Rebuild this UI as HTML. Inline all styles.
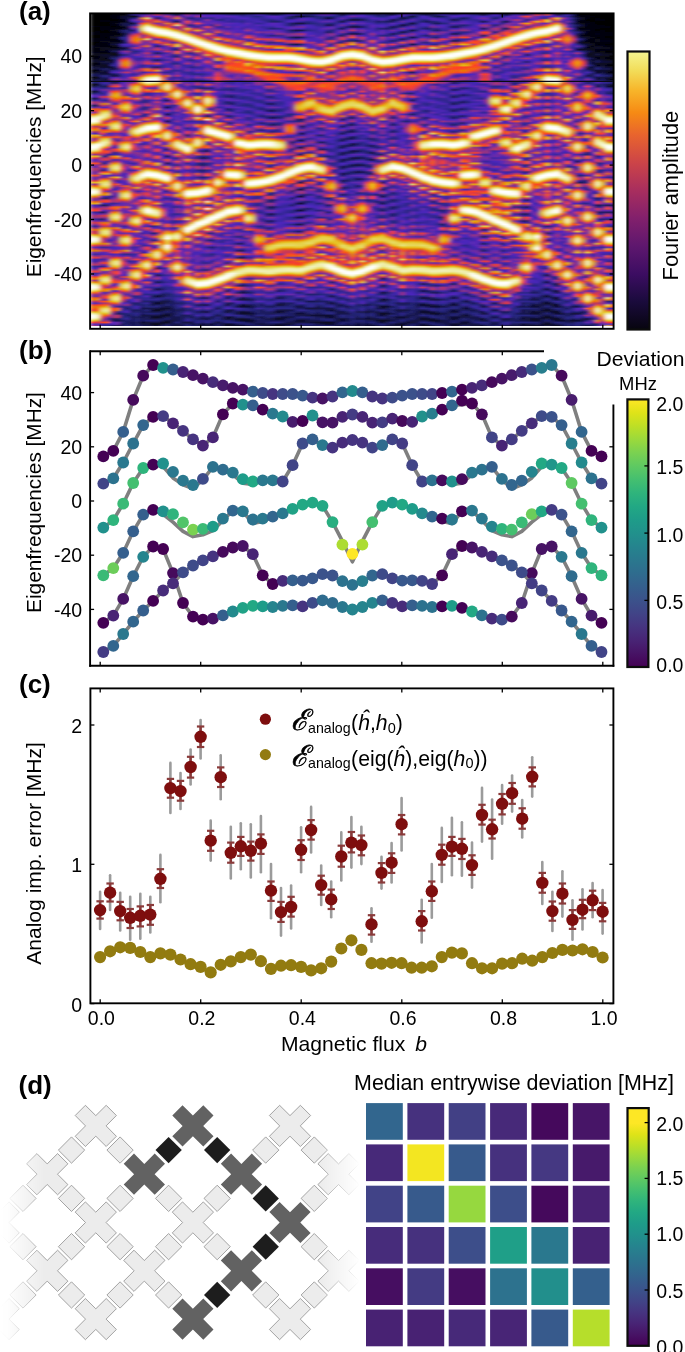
<!DOCTYPE html><html><head><meta charset="utf-8"><style>html,body{margin:0;padding:0;background:#fff}#w{position:relative;width:685px;height:1352px;overflow:hidden;background:#fff;font-family:"Liberation Sans", sans-serif}svg{position:absolute;left:0;top:0;will-change:transform}</style></head><body><div id="w">
<div style="position:absolute;left:90px;top:13px;width:524px;height:313px;overflow:hidden"><div style="position:absolute;left:0;top:0;width:534px;height:313px;filter:url(#hb)"><i style="position:absolute;left:0px;top:0;width:5.5px;height:313.25px;background:linear-gradient(#010104,#000001,#000001,#010104,#020205,#000002,#000002,#020206,#020208,#010102,#010102,#030309,#03030b,#010103,#010104,#04040d,#05050f,#010104,#020205,#060613,#060615,#010105,#020208,#08081b,#09091e,#020206,#04040c,#0c0c28,#0d0d2a,#030308,#050512,#11113a,#12123b,#03030b,#08081b,#191954,#191952,#04040e,#0c0c29,#25257b,#222272,#060613,#12123d,#37269b,#332695,#0b0b24,#1c1c5d,#5928b5,#4e26be,#111139,#2a2686,#ad366e,#8f3188,#17174d,#3f26a8,#f25f13,#dd3b44,#5b29b3,#f65619,#e5ce40,#f6f6d1,#ffffff,#ffffff,#efefb0,#e6a810,#c73957,#fd4523,#e68f06,#a53575,#4626b4,#e6a710,#e67e01,#87308f,#923286,#e68000,#e8e88d,#fdfdf4,#ffffff,#f8f8de,#e6de6b,#ea7506,#923286,#e6b415,#f33e31,#5728b7,#802f94,#fc4821,#9d347c,#5a29b4,#a73573,#9e347b,#7b2e98,#7d2e97,#f9501d,#792e9a,#702ca1,#d73b49,#e6be19,#843091,#ec6f0a,#e6d149,#f6f6d3,#ffffff,#ffffff,#e6e682,#e68c05,#ac356f,#782d9b,#f06510,#e5a710,#4526b4,#6f2ca2,#ce3a51,#f93f2b,#37269c,#712ca1,#a73574,#973381,#322693,#822f93,#d43a4c,#8a308c,#322693,#af366c,#ea7407,#c0385e,#e33c3f,#e6bb18,#eeeeaa,#fefefa,#ffffff,#f4f4c8,#e6bf19,#f33e31,#622aae,#d73b49,#e67e01,#702ca2,#3c26a3,#9c337d,#e13c41,#4226ad,#4026ab,#8f3188,#b53767,#352698,#4926ba,#a93572,#eb3d38,#38269e,#682ba8,#f73f2e,#e68803,#ac356f,#e69308,#e8e88e,#fdfdf4,#ffffff,#f7f7d9,#e6d451,#ee690d,#a13479,#812f93,#f16211,#e68301,#b1366b,#4c26bf,#e83d3a,#e97606,#f35d15,#e23c40,#e6b817,#f0f0b2,#fefef8,#ffffff,#f3f3c1,#e6c11f,#f63f2e,#5728b7,#ad366e)"></i><i style="position:absolute;left:5px;top:0;width:5.5px;height:313.25px;background:linear-gradient(#010104,#000001,#010102,#010104,#020205,#000002,#010103,#020206,#020208,#010102,#010104,#030309,#03030b,#010103,#020206,#04040d,#05050f,#010104,#03030a,#060613,#070716,#010105,#04040e,#08081c,#09091e,#020206,#060616,#0c0c29,#0d0d2b,#020208,#0a0a20,#12123b,#12123c,#03030b,#0e0e30,#1a1a56,#191954,#050510,#151547,#26267e,#232375,#08081b,#202069,#38269d,#362699,#111139,#2f268e,#5b29b3,#5628b8,#1a1a57,#4526b3,#ae366d,#943283,#20206a,#7f2f95,#f16212,#e53c3d,#cb3954,#e6a810,#eaea95,#f9f9e3,#f8f8dc,#f8f8dd,#e6e172,#e68904,#a63574,#ef670f,#e69308,#a03479,#4926b9,#e6b616,#e68201,#a53475,#f65519,#e6cd3f,#fafae4,#ffffff,#fbfbe9,#ededa5,#e6ca35,#f45b16,#973381,#e6bc18,#cd3a52,#4c26bf,#853090,#fa4d1e,#842f91,#5c29b3,#af366c,#a33476,#692ba7,#843091,#f65619,#7b2e98,#6b2ba6,#e33c3f,#e6c426,#a13478,#f8521c,#e6bd19,#eaea97,#f7f7d6,#f4f4c7,#e6d34f,#ed6e0b,#8c318a,#662aaa,#ed6d0b,#e6af13,#4426b1,#5f29b0,#da3b46,#fe4225,#352697,#5e29b1,#b23669,#9e347b,#322692,#632aac,#e03c42,#8f3188,#38269e,#782d9b,#e77c02,#c73957,#b93763,#e69b0b,#e6df6f,#f4f4c8,#f5f5cf,#e7e788,#e6a00d,#ca3954,#4c26be,#9f347a,#e68603,#742d9e,#3b26a2,#853091,#ec3d37,#4326b0,#3b26a2,#832f92,#c0385e,#36269a,#4026ab,#a13479,#f63f2e,#3a26a0,#4c26bf,#fa3f2a,#e69007,#973381,#eb7308,#e6d758,#f2f2bf,#f8f8db,#ebeb9c,#e6c11f,#f8511c,#933284,#4a26bc,#ee6b0c,#e68a04,#b83764,#4926ba,#f83f2c,#e67d01,#f16411,#fa4c1f,#e6b014,#e6e276,#f3f3c5,#f5f5ce,#e6e683,#e6a20e,#cd3952,#5928b5,#853090)"></i><i style="position:absolute;left:10px;top:0;width:5.5px;height:313.25px;background:linear-gradient(#020205,#010105,#010104,#010102,#020208,#020207,#020205,#010103,#03030b,#03030a,#020207,#010104,#050510,#04040d,#03030a,#020206,#070717,#060613,#04040e,#03030a,#0a0a21,#08081a,#060613,#05050f,#0e0e30,#0b0b24,#08081b,#070718,#151546,#0f0f31,#0b0b25,#0b0b24,#1e1e65,#141444,#0f0f33,#111138,#2c2688,#1c1c5e,#151547,#191955,#3f26a9,#2a2686,#1d1d62,#282682,#702ca1,#3f26a9,#282683,#3f26a8,#d83b49,#6a2ba7,#38269c,#6f2ca2,#e68402,#b93763,#4c26be,#e33c3f,#e6a30e,#e6d452,#e9e98f,#f1f1b8,#efefb1,#e6cc3b,#f26013,#dd3b44,#e59107,#e73d3b,#3d26a6,#e93d39,#ed6e0b,#e83d3a,#6c2ba5,#f65619,#e6c324,#e6dd68,#f1f1b9,#f5f5cf,#efefb0,#e6bd18,#ff4026,#f73f2d,#e43c3e,#a63574,#30268f,#aa3571,#d43a4c,#632aac,#242477,#a93572,#f8501c,#4a26bb,#1f1f67,#fc3f29,#e6ab11,#4e27be,#672ba9,#f7531b,#e6b716,#e6da62,#e6e379,#e6d759,#e6a20e,#df3c42,#d03a50,#ec6f0a,#e68b05,#4b26bd,#26267e,#d33a4d,#ef3e34,#4426b2,#181850,#8c318b,#b73765,#5728b6,#181850,#6d2ca4,#d83b48,#8f3188,#1a1a56,#652aab,#eb7109,#fb3f2a,#a53575,#e68602,#e5cd3d,#e6e174,#e6e070,#e6c934,#eb7109,#c73957,#d03a4f,#cd3a52,#e68502,#a73574,#362699,#88308e,#e03c41,#5628b8,#4826b9,#ae366d,#8a308c,#38269e,#843091,#fd4523,#632aac,#2c268a,#fd3f28,#e69e0c,#5a29b4,#86308f,#f35d15,#e6c426,#e6e071,#e6e47c,#e6ce41,#e69107,#d03a50,#f03e33,#ea7506,#ea7307,#4e27be,#923285,#d53b4b,#bb3762,#6029af,#fc4722,#963382,#fc4722,#e69b0b,#e6d451,#e6e683,#e6dc65,#e6b415,#e68302,#e93d3a,#a63574,#88308d,#fc3f29,#3c26a3,#2b2687)"></i><i style="position:absolute;left:15px;top:0;width:5.5px;height:313.25px;background:linear-gradient(#020206,#020205,#010102,#010102,#020208,#020208,#010103,#010103,#04040c,#03030a,#010104,#010104,#050511,#04040f,#020206,#020207,#080819,#060614,#020208,#03030b,#0b0b24,#08081c,#03030b,#050511,#101034,#0c0c26,#050510,#08081a,#17174c,#101035,#070717,#0c0c27,#21216d,#161649,#0a0a21,#12123d,#2f268f,#1e1e64,#101034,#1d1d62,#4526b3,#2b2687,#18184f,#2f268e,#7f2f95,#3e26a6,#4626b4,#5b29b3,#ef3e34,#5d29b2,#2b2687,#7d2e97,#e6990a,#8e3189,#5327ba,#fb3f2a,#e6b214,#e6df6d,#ebeb99,#e8e88b,#e6cb39,#f26013,#86308f,#f83f2c,#e5a710,#a53575,#672ba9,#fd4424,#e67f00,#4426b2,#752d9e,#f0660f,#e5ce41,#e6e681,#ebeb9a,#e6e277,#e6be19,#fe4027,#5a28b4,#fa4c1f,#f43e30,#312691,#282683,#bb3762,#e23c40,#36269a,#3e26a7,#b93764,#f26013,#7e2f96,#5a29b4,#f94e1e,#e6c322,#5327ba,#762d9c,#f26013,#e6c528,#e6e57f,#ebeb9a,#e6e174,#e6b214,#fb3f2a,#5828b5,#e68402,#e6a20e,#3f26a9,#1e1e64,#e53c3d,#fd4424,#4426b1,#1e1e63,#8f3188,#c73957,#632aac,#39269f,#8f3188,#ee3e35,#a53575,#632aad,#692ba7,#e68703,#f7531b,#be385f,#e59408,#e6d85b,#eaea94,#e9e990,#e6d34e,#e68201,#a13478,#4226ae,#7f2f95,#e69e0c,#c4385a,#39269e,#843091,#fb3f2a,#672ba9,#5127bc,#b33669,#993380,#5f29b0,#963282,#f8511c,#a23477,#5828b6,#f7541a,#e6b515,#602aaf,#983381,#ec6f0a,#e6cd3f,#e9e991,#ecec9f,#e6da60,#e69f0d,#e43c3e,#802f94,#e68f06,#e68904,#4726b6,#a93572,#fc4822,#fc4822,#792e9a,#f35e14,#ae366d,#f55917,#e6ae13,#e6e070,#ededa6,#e6e683,#e6bd19,#f8511c,#7f2f95,#3b26a3,#9a337e,#f7531b,#4026aa,#282682)"></i><i style="position:absolute;left:20px;top:0;width:5.5px;height:313.25px;background:linear-gradient(#010102,#020207,#04040e,#020207,#010103,#03030a,#060613,#030309,#010105,#050510,#08081c,#04040c,#020207,#070717,#0c0c27,#050510,#03030a,#0a0a23,#111138,#070716,#04040e,#101034,#181850,#09091d,#060614,#17174d,#222271,#0c0c28,#08081c,#222272,#302690,#101036,#0c0c28,#332694,#4426b1,#1a1a57,#11113a,#4b26bd,#762d9d,#2b2687,#1b1b59,#913286,#d83b49,#4926b9,#802f94,#fb3f2a,#e68101,#e69e0c,#e69107,#f16212,#c93955,#812f94,#4826b8,#c73957,#b33669,#933285,#963382,#b0366c,#e63d3c,#ef680e,#d73b49,#8a318c,#f7551a,#e6b013,#e6d85b,#e6e071,#e6d148,#e69007,#cc3953,#4f27bd,#6d2ca4,#fe4027,#832f92,#c2385b,#fc4622,#e33c3f,#742d9f,#4426b2,#cc3953,#bb3761,#2f268f,#39269e,#e97605,#fc4821,#3f26a8,#9a337f,#ea7307,#e6c529,#e6dd68,#e6dc66,#e6c221,#ee6a0d,#913286,#5528b8,#e68c05,#b53767,#89308d,#c2385c,#e73d3b,#c93955,#842f91,#4226ae,#8c318a,#712ca1,#652aab,#322693,#612aae,#a33477,#963282,#302690,#4f27be,#f7541a,#fe4225,#88308e,#f16211,#e6ba17,#e6da60,#e6df6d,#e6ca35,#e87a03,#ab356f,#4b26bd,#5327ba,#ec6f0a,#ba3763,#e03c41,#dd3b44,#c2385b,#722da0,#5e29b0,#4526b3,#722ca0,#6d2ca4,#88308e,#4526b2,#4926b9,#a73573,#e23c3f,#4726b6,#612aae,#d73b49,#e69408,#e6d34e,#e6e071,#e6d553,#e6a810,#f8501c,#6d2ca5,#d63b4a,#c1385d,#a0347a,#953283,#c63958,#fd3f28,#f65619,#752d9e,#4826b8,#c0385d,#ea7407,#4f27bd,#c63958,#e68502,#e6cc3a,#e6df6d,#e6d85c,#e6b013,#f94e1e,#722ca0,#732d9f,#f33e31,#f8511c,#ba3763,#7c2e98,#8a308c,#953283,#1b1b5a,#1e1e64,#4f27bd,#5127bc,#141443)"></i><i style="position:absolute;left:25px;top:0;width:5.5px;height:313.25px;background:linear-gradient(#010103,#020208,#050510,#020208,#010104,#04040c,#070716,#03030a,#020205,#050512,#0a0a20,#04040e,#020207,#08081b,#0e0e2d,#060613,#03030a,#0c0c28,#131341,#080819,#04040e,#12123c,#1c1c5c,#0a0a22,#08081b,#1b1b5a,#272681,#312692,#3f26a9,#4326af,#3c26a3,#2c2689,#1b1b5a,#3b26a2,#5528b8,#21216f,#13133f,#622aae,#9b337e,#342697,#1c1c5c,#bc3760,#f9501d,#5b29b3,#983380,#f55818,#e6a10d,#e6b716,#e6a911,#e67d01,#ff4027,#983380,#4626b5,#f94f1d,#fb4b20,#9d337c,#652aab,#923285,#9f347a,#fb4a20,#ab3570,#ab356f,#e77b02,#e6ca35,#e8e88a,#eeeeaa,#e7e785,#e6b114,#f13e33,#652aab,#963282,#f26112,#6f2ca2,#332694,#b43668,#de3c43,#802f94,#742d9f,#fc4821,#e63d3c,#312691,#4226ae,#e6a911,#ed6c0c,#4326b0,#c4385a,#e6990a,#e6d85d,#ebeb9c,#ebeb9d,#e6d95e,#e68804,#b1366a,#712ca1,#e6c11e,#de3c43,#2f268e,#4f27bd,#f45a16,#87308e,#4126ac,#4726b6,#cd3a52,#822f93,#6a2ba7,#7d2e96,#a13478,#c83956,#b83765,#3e26a6,#702ca2,#e87904,#f0660f,#af366c,#e68703,#e5cf44,#eaea94,#ededa7,#e6df6f,#e6990a,#d23a4e,#6a2ba7,#712ca1,#e59a0b,#ea3d38,#5327ba,#602aaf,#f33e30,#8c318b,#782e9b,#973381,#b63766,#86308f,#b2366a,#5427b9,#4b26bd,#d53b4b,#f65619,#5828b6,#702ca2,#fe4225,#e6ba17,#e7e787,#ededa5,#e7e786,#e6c831,#eb7208,#7d2e97,#fc4722,#ff4027,#9d347c,#30268f,#963282,#cc3953,#ff4026,#5928b5,#983381,#fd4028,#e69e0c,#4c26be,#f23e31,#e5aa11,#e6df6e,#ececa0,#e9e991,#e6cb3a,#ed6c0c,#89308d,#36269a,#f35e14,#e87a03,#2a2686,#1a1a56,#b23669,#c0385d,#1b1b59,#151547,#6a2ba7,#672ba9,#111139)"></i><i style="position:absolute;left:30px;top:0;width:5.5px;height:313.25px;background:linear-gradient(#020208,#03030a,#0e0e2e,#0e0e30,#03030a,#050510,#141444,#141443,#04040e,#070718,#1e1e63,#1c1c5e,#060614,#0b0b24,#2b2688,#272681,#08081c,#111138,#3f26a8,#36269a,#0c0c28,#1a1a58,#6b2ba6,#4c26be,#1e1e65,#4126ac,#933285,#ff4026,#ed6d0b,#e87a03,#f0660f,#dc3b45,#742d9e,#4326af,#8d3189,#3e26a8,#352698,#4226ae,#672ba9,#322693,#4d26bf,#5928b5,#5b29b3,#322693,#9c337d,#a63574,#a43476,#a83572,#eb7308,#fe4225,#8e3189,#cc3953,#ea7506,#e6b516,#e6c62b,#e6aa11,#ef680e,#bc3761,#6f2ca3,#5027bc,#f06510,#953283,#782e9b,#a83572,#e73d3b,#fb3f2a,#e23c40,#a93571,#8f3188,#4926b9,#4c26bf,#b43668,#aa3571,#983380,#f16311,#e6b415,#e6d657,#e5db62,#e6c323,#ee690d,#983381,#5528b8,#5a28b4,#d03a50,#6f2ca3,#5127bb,#842f91,#bb3762,#eb3d37,#f93f2b,#c53959,#822f93,#4526b3,#4826b7,#5f29b0,#8a308c,#5027bc,#4826b8,#5928b5,#f03e33,#832f92,#c63958,#e77c02,#e6c322,#e6d95e,#e6d85b,#e6b013,#fb4a20,#7b2e98,#5c29b2,#662baa,#fb3f2a,#692ba7,#662aaa,#6f2ca3,#a13478,#fd4424,#fa4d1e,#c83957,#722da0,#b83764,#8e3188,#3d26a5,#4926ba,#f16211,#cf3a50,#5f29b0,#d33a4d,#e68b05,#e5cf44,#e6db64,#e6cf42,#e6990a,#fe4324,#682ba8,#652aab,#ed6d0b,#923285,#342697,#4a26bc,#bf385e,#a53475,#d43a4c,#ff4126,#e13c40,#b53667,#602aaf,#7e2e96,#5a28b4,#5828b5,#4c26be,#de3c43,#612aae,#de3c43,#e68000,#e6c62c,#e6db63,#e6d554,#e6a20e,#fb3f2a,#6d2ca4,#86308f,#bf385e,#e93d3a,#de3c44,#9f347a,#4e26be,#702ca1,#26267f,#342697,#322693,#4126ad,#1f1f67,#2b2688,#24247a,#2d268b,#1c1c5d,#262680,#1c1c5c,#202069)"></i><i style="position:absolute;left:35px;top:0;width:5.5px;height:313.25px;background:linear-gradient(#0e0e2e,#08081b,#111139,#12123d,#0e0e30,#09091d,#191953,#191954,#101035,#0a0a22,#242479,#232374,#1b1b59,#282683,#352698,#3a26a1,#36269a,#292684,#4d26bf,#4326af,#141443,#222270,#943283,#6e2ca3,#272681,#5427b9,#c63958,#f06410,#e68f06,#e69a0b,#e68c05,#f94f1d,#9a337f,#5c29b2,#c73957,#4d26bf,#4226ae,#5a28b4,#802f94,#39269e,#712ca1,#792e9a,#7a2e9a,#5528b8,#d43a4c,#b73765,#5428b9,#3c26a4,#e68b05,#f55818,#853090,#fe4225,#e6a20e,#e6d149,#e6d95f,#e5cb39,#e69408,#f43e30,#712ca1,#6d2ca4,#e6a710,#d03a4f,#4126ac,#642aab,#fb4921,#832f92,#5327b9,#8a318c,#cf3a50,#853090,#4f27bd,#f53e2f,#f43e30,#cc3953,#e68a04,#e6d553,#ededa6,#efefb0,#e6dd69,#e6970a,#d43a4c,#6a2ba7,#4926b9,#f7541a,#9c337d,#4826b7,#4126ad,#b1366b,#632aac,#4926ba,#3e26a7,#903287,#5828b5,#672ba9,#6a2ba7,#c4385a,#772d9c,#5b29b3,#4b26bd,#ed6d0b,#bd3860,#fb3f2a,#e6a60f,#e6df6f,#eeeeac,#ededa7,#e6d149,#e97705,#ab3570,#672ba9,#752d9e,#e97606,#953283,#612aaf,#4c26bf,#c4385a,#9c337d,#7c2e98,#6c2ba5,#9a337e,#f93f2b,#ad366e,#3b26a2,#642aac,#e6a20e,#fc4821,#6f2ca2,#fa4d1e,#e6bd18,#e8e88d,#eeeeac,#e8e88e,#e6c62c,#ef670e,#7e2f96,#8d318a,#e6b114,#b43668,#2a2686,#6a2ba7,#fb4921,#742d9f,#312691,#732d9f,#a63574,#5728b6,#3d26a5,#b1366b,#802f94,#7e2e96,#6029af,#f26113,#89308d,#fc4821,#e6af13,#e6e378,#f0f0b2,#ebeb9c,#e5ca36,#ef690e,#933285,#4126ab,#933285,#f65718,#4426b0,#272680,#5628b7,#9c337d,#2e268c,#1e1e64,#3b26a2,#5428b9,#242479,#1d1d62,#2b2688,#38269d,#20206c,#1d1d60,#20206a,#272681)"></i><i style="position:absolute;left:40px;top:0;width:5.5px;height:313.25px;background:linear-gradient(#4226ad,#2b2688,#080819,#21216e,#5027bc,#352698,#0a0a22,#282682,#7e2e96,#4526b3,#17174c,#39269e,#812f94,#d43a4c,#f7531b,#f06510,#f55a17,#d43a4c,#702ca2,#3a26a1,#853090,#3c26a3,#2a2686,#312691,#5728b7,#3c26a3,#4426b1,#6d2ca4,#9c337d,#ba3763,#953283,#6029af,#4826b8,#822f93,#602aaf,#342697,#4426b1,#e83d3b,#943283,#4326af,#8e3188,#fb4a20,#e69408,#e6b817,#e6b315,#e68201,#e83d3b,#6e2ca3,#5327ba,#fe4027,#732d9f,#5728b6,#943284,#d13a4f,#fc3f29,#cd3952,#89308d,#6c2ba5,#933285,#4426b1,#4f27bd,#7a2e99,#ff4026,#4e26be,#6d2ca4,#dc3b45,#e68a04,#e6c933,#e6d657,#e6c72d,#e68502,#d73b4a,#662aaa,#a0347a,#e63d3c,#ca3954,#fa4b1f,#fc4722,#ce3a51,#87308f,#7a2e9a,#5a28b4,#4a26bb,#4926b9,#aa3571,#6d2ca4,#39269f,#4d26bf,#f65718,#a53475,#3b26a2,#7c2e98,#fd4523,#e6a00d,#e6ce41,#e6d553,#e6bf19,#ec6f0a,#a93571,#6d2ca4,#f26112,#762d9d,#8c318a,#e13c41,#fc4821,#fa4b1f,#c83956,#732d9f,#702ca2,#8f3188,#5b29b3,#4926ba,#5828b6,#fe4027,#8c318b,#6e2ca3,#e73d3b,#e68d05,#e6c933,#e6d657,#e6c62c,#e68201,#cc3953,#5e29b1,#6029af,#fc4722,#5c29b2,#5c29b2,#9b337e,#ec3d37,#fc4821,#f93f2c,#ac356f,#6d2ca4,#3b26a1,#3e26a7,#5f29b0,#722ca0,#36269a,#3c26a4,#702ca1,#aa3571,#39269e,#3d26a5,#b83765,#f65619,#702ca2,#fe4225,#e69d0c,#e6cc3d,#e6d452,#e6c11f,#eb7308,#a93571,#923286,#e83d3a,#fc4622,#f43e30,#af366c,#632aad,#8a318c,#7e2f96,#2d268a,#39269f,#4d26bf,#4526b3,#21216e,#282682,#37269b,#30268f,#1b1b5b,#20206a,#282683,#222271,#191955,#1c1c5d,#1e1e65,#191955,#191952,#1a1a57)"></i><i style="position:absolute;left:45px;top:0;width:5.5px;height:313.25px;background:linear-gradient(#682ba8,#4026aa,#101036,#2e268c,#87308e,#4b26bd,#262680,#4426b1,#ce3a51,#702ca2,#4926b9,#4a26bc,#c53859,#f7541a,#e77d02,#e68c05,#e68a04,#f7541a,#9e347b,#4c26be,#da3b47,#5427b9,#282682,#3d26a6,#8f3188,#4d26bf,#36269a,#39269f,#6e2ca3,#702ca1,#4b26bd,#38269d,#622aad,#c3385b,#822f93,#3a26a1,#692ba8,#e97705,#e33c3f,#6d2ca4,#da3b47,#e67f00,#e6c62b,#e6d95e,#e5d95d,#e6b917,#f16411,#9d337c,#863090,#e68a04,#aa3571,#4226ae,#692ba8,#e43c3e,#973381,#4926ba,#5728b6,#9c337d,#e33c3f,#5828b6,#4e26be,#b73765,#e68b05,#762d9d,#c43859,#e68603,#e6d75a,#f1f1b9,#f4f4c7,#e9e98f,#e6c11e,#f35d14,#963382,#f73f2d,#ea7506,#5728b6,#6b2ba6,#9b337e,#bd3860,#4e27be,#993380,#822f93,#672ba9,#5628b7,#fe4325,#9f347a,#4126ab,#712ca1,#e6ab11,#fe4027,#5b29b4,#ff4126,#e6b013,#e6e681,#f2f2bc,#f2f2bf,#e6e47d,#e6ac12,#f23e31,#ac356f,#e6b716,#b0366b,#3b26a2,#7f2f95,#fa4d1f,#953283,#4c26bf,#682ba9,#a73573,#de3c43,#7d2e97,#702ca2,#89308d,#e68a04,#d33a4d,#a23478,#ef680e,#e6c62b,#eaea94,#f2f2be,#e9e990,#e6bf1a,#f8511c,#923285,#8d318a,#e69509,#853090,#5027bc,#612aae,#ee3e35,#4c26bf,#5227bb,#4f27be,#9f347a,#3f26a9,#5027bc,#5e29b1,#a93572,#3c26a4,#5027bc,#953283,#fd4424,#4126ac,#712ca1,#fa4c1f,#e6a911,#9d337c,#e67f00,#e6d045,#ebeb9d,#f0f0b3,#e7e787,#e6af13,#f33e31,#682ba8,#5327ba,#e68301,#e67f00,#39269f,#4126ac,#d83b49,#c3385b,#2c2689,#322694,#792e9a,#662aaa,#20206b,#242478,#4626b5,#3d26a5,#1c1c5e,#222271,#322694,#2a2685,#1d1d5f,#21216f,#242479,#1d1d5f,#1d1d61,#21216d)"></i><i style="position:absolute;left:50px;top:0;width:5.5px;height:313.25px;background:linear-gradient(#6a2ba6,#4426b0,#5c29b2,#e68000,#a73573,#7c2e98,#f93f2b,#e6a10d,#e5d657,#e6e277,#e6cd3e,#e68502,#cc3952,#7d2e97,#963282,#e68201,#993380,#7f2f95,#5f29b0,#ce3a51,#5027bc,#4c26be,#4326af,#712ca1,#5828b6,#5c29b3,#36269b,#4526b2,#822f92,#7d2e96,#312691,#38269c,#e13c41,#bf385e,#37269c,#7b2e98,#f65718,#e6b917,#e5da61,#e6de6c,#e6c72e,#e97805,#c4385a,#f23e32,#fe4225,#c3385b,#622aae,#342697,#9c337d,#682ba9,#30268f,#282683,#742d9f,#682ba8,#2d268c,#26267e,#742d9e,#89308d,#352698,#26267f,#a23477,#d93b48,#4f27bd,#d93b47,#e6980a,#e6e37a,#f8f8dc,#fbfbea,#f3f3c1,#e6c934,#f8511c,#6b2ba6,#ce3a51,#c4385a,#4b26bd,#362699,#86308f,#863090,#5027bc,#4526b2,#692ba7,#87308e,#7c2e98,#6f2ca2,#672ba9,#cd3a52,#d53a4b,#c63958,#7f2f95,#e43c3e,#e69107,#e6d34d,#f6f6d4,#fcfcee,#f6f6d0,#e6da60,#e68201,#f43e30,#9a337f,#e43c3e,#8d3189,#8f3188,#5327ba,#bd3760,#a43476,#5d29b1,#3b26a2,#fe4027,#f63f2e,#6b2ba6,#da3b47,#e69609,#e6d450,#e6e174,#e6d24c,#e69a0b,#f53e2f,#ba3762,#fd4424,#f55a17,#fb4a20,#ac356e,#5528b8,#aa3571,#722da0,#4b26bc,#3a26a0,#772d9c,#5227bb,#3b26a2,#4a26bb,#712ca0,#4826b8,#342696,#843091,#953283,#4626b4,#342696,#f93f2b,#f33e31,#5728b6,#9d337c,#f06510,#e6b716,#e5d045,#e6c62c,#e69107,#f73f2e,#d73b49,#fb4a20,#f55818,#fc3f29,#aa3571,#4926b9,#a53475,#692ba7,#5728b6,#4226ae,#5d29b2,#4326af,#3e26a7,#2f268d,#3c26a4,#302691,#2e268c,#20206b,#2a2687,#222272,#212170,#17174c,#1f1f66,#1e1e63,#1e1e64,#12123c,#17174d,#1d1d5f,#1c1c5e,#0f0f33,#13133f,#1c1c5e)"></i><i style="position:absolute;left:55px;top:0;width:5.5px;height:313.25px;background:linear-gradient(#a13478,#5027bc,#a83573,#e6e47d,#fa4d1f,#c0385d,#e68904,#e6de6c,#f9f9e3,#ffffff,#fbfbed,#e6dc65,#e87904,#ba3763,#fb4a20,#e6e680,#a63574,#652aaa,#aa3570,#e97805,#6e2ca3,#762d9d,#722ca0,#c2385c,#7b2e99,#933284,#5027bc,#6c2ba5,#cb3954,#d63b4a,#4426b2,#4826b8,#e67f00,#ee6a0d,#5728b6,#d83b49,#e6aa11,#f0f0b3,#fffffd,#fffffd,#f2f2bd,#e6c830,#fe4324,#5227bb,#e69d0c,#fb3f2a,#322694,#39269f,#fc3f29,#b53767,#302690,#2f268d,#a83572,#b53767,#302690,#2f268e,#a93571,#f33e31,#332694,#3e26a7,#fe4324,#e68402,#933285,#e87904,#e6df6f,#fdfdf7,#ffffff,#f9f9df,#e6da61,#e68301,#933285,#5c29b2,#ed6c0c,#f16411,#4a26bb,#4226ae,#c93956,#e43c3e,#792e9a,#3d26a5,#812f93,#f03e33,#d23a4d,#4626b5,#632aad,#e87a03,#e67d01,#6d2ca5,#a63574,#e77b03,#e6d553,#f8f8dd,#ffffff,#fefef8,#e6e072,#e68a04,#d43a4c,#e69d0c,#fb4a20,#8b318b,#a33477,#fe4225,#8e3189,#db3b46,#fa3f2b,#a33477,#5227bb,#e68e06,#e69107,#be385f,#ec6e0a,#e6d552,#f9f9e2,#ffffff,#fcfcee,#e6e47c,#e59709,#c53959,#4826b8,#e6b616,#f45b16,#4726b6,#4126ab,#f94f1d,#b63766,#4426b0,#4a26ba,#b83765,#7e2f96,#4226ad,#7c2e98,#ac356f,#682ba8,#4226ad,#e73d3b,#f43e30,#692ba7,#5027bc,#e69e0c,#e69007,#8b318b,#fe4225,#e6af13,#e6e57f,#f3f3c3,#eeeea9,#e6d149,#e87904,#c63958,#5e29b1,#e6c322,#f8511c,#5e29b1,#4726b6,#f7531b,#953283,#5928b5,#3a26a1,#9c337d,#4f27bd,#4326b0,#2c268a,#5728b7,#36269a,#342696,#20206c,#39269f,#25257c,#262680,#191952,#282683,#1d1d61,#262680,#161648,#1c1c5e,#1a1a56,#262680,#131340,#141442,#191953)"></i><i style="position:absolute;left:60px;top:0;width:5.5px;height:313.25px;background:linear-gradient(#712ca1,#863090,#5027bc,#752d9d,#ce3a51,#ca3954,#be385f,#e68904,#e6e379,#fefefa,#ffffff,#f6f6d4,#e6d047,#ed6e0b,#9b337e,#762d9d,#c0385d,#b43668,#4a26bb,#4526b2,#6f2ca3,#89308d,#4526b3,#322693,#5027bc,#88308d,#4426b1,#26267f,#622aad,#ad366e,#4526b3,#222271,#a23477,#fd4424,#6c2ca5,#fe4225,#e6c323,#f5f5cf,#ffffff,#fefef8,#ecec9e,#e6b214,#da3b47,#4926ba,#ca3955,#f03e34,#4226ad,#4326b0,#7f2f96,#9e347c,#4726b6,#6b2ba6,#692ba7,#7e2f96,#692ba8,#be385f,#812f93,#772d9c,#b83764,#ec7009,#d03a50,#812f93,#ce3a51,#e6a20e,#ebeb9d,#ffffff,#ffffff,#f3f3c1,#e6c52a,#f55917,#fe4324,#f65619,#af366d,#752d9d,#9f347b,#a53475,#6b2ba6,#6a2ba7,#7c2e98,#792e9a,#4b26bc,#6b2ba6,#933285,#8d3189,#4426b1,#792e9a,#f83f2c,#e53c3d,#682ba9,#fc4622,#e6b616,#efefae,#ffffff,#ffffff,#efefae,#e6b515,#ff4026,#8a318c,#f7541a,#a0347a,#5f29af,#88308e,#a33477,#612aae,#88308e,#aa3571,#642aab,#5b29b3,#db3b46,#fe4225,#9f347a,#e97705,#e5da60,#f5f5cb,#f6f6d4,#efefad,#e6cd3f,#f06410,#702ca2,#692ba7,#e33c3f,#e63d3c,#2a2685,#4d26bf,#b73765,#8f3188,#222272,#5d29b2,#d63b4a,#6b2ba6,#272680,#9a337e,#f06510,#5f29af,#36269a,#8d318a,#ef680e,#e6ad12,#e6c529,#e6bf1a,#e69509,#f43e30,#a0347a,#fd4523,#ea7307,#f26112,#d83b49,#7f2f95,#ad356e,#3f26a9,#5c29b2,#4b26bd,#7e2f96,#3b26a3,#3c26a3,#3a26a1,#662aaa,#352697,#2a2686,#2d268a,#4726b5,#282683,#1e1e63,#222271,#362699,#1d1d62,#151545,#191953,#282682,#17174c,#0f0f31,#16164a,#272681,#161648,#0a0a23,#161648,#272680,#151544,#070719,#161649)"></i><i style="position:absolute;left:65px;top:0;width:5.5px;height:313.25px;background:linear-gradient(#702ca2,#d53a4b,#4c26be,#17174c,#d83b49,#ea7506,#6a2ba7,#dc3b45,#e6ae13,#efefb1,#ffffff,#fefefc,#f1f1ba,#e6c52a,#fb4921,#4e26be,#f65619,#f55a17,#4626b4,#1a1a56,#ac356f,#cf3a50,#4526b3,#17174c,#762d9d,#cc3953,#4826b8,#17174c,#7b2e99,#f9501d,#5427b9,#1a1a58,#c63958,#e6ad12,#7e2f96,#f55917,#e5cd3f,#f8f8db,#ffffff,#fbfbec,#e6e379,#e59609,#b63766,#5928b5,#f7531b,#e69408,#5828b5,#722ca0,#ae366d,#f33e31,#702ca2,#cf3a50,#772d9c,#99337f,#bd3760,#e68000,#692ba7,#752d9e,#ea7506,#e8e88d,#7d2e97,#8d318a,#ff4026,#e6be19,#f1f1ba,#ffffff,#fdfdf7,#ebeb99,#e6a710,#f03e34,#e6c01a,#e6d24c,#4726b6,#5b29b3,#f26013,#ee690d,#3f26a9,#5828b6,#ef3e34,#f13e33,#4126ac,#5a29b4,#f7531b,#f94f1d,#4a26ba,#632aac,#e6b516,#e5a50f,#642aac,#cc3953,#e68b05,#e6e277,#fcfcf0,#ffffff,#f9f9e2,#e6d85b,#e97805,#c83956,#e5d045,#f25f13,#662baa,#be385f,#f0660f,#9d337c,#822f92,#f94f1d,#c53959,#5227bb,#d73b49,#e6ae13,#943284,#dc3b45,#e6a60f,#e6e37a,#f1f1b9,#f0f0b2,#e6e277,#e69d0c,#c83957,#5027bc,#ec7009,#e59509,#3a26a1,#5027bd,#f65619,#f33e31,#2a2686,#a73573,#e67e01,#9f347a,#312691,#f45b16,#e5d656,#8c318b,#5127bc,#f33e31,#e6bb18,#e8e88c,#f0f0b4,#eeeea8,#e5da61,#e68603,#9b337d,#e69b0b,#e6bb18,#4926b9,#17174d,#f63f2e,#f94f1d,#4026aa,#141441,#8d318a,#ac356f,#3b26a3,#111138,#5427b9,#772d9c,#342697,#0e0e2e,#3b26a2,#4a26bc,#282683,#0b0b23,#2b2688,#37269c,#1d1d62,#08081b,#1f1f68,#282683,#17174c,#060616,#191955,#26267f,#161649,#060613,#17174c,#25257c,#151546,#050511,#161649)"></i><i style="position:absolute;left:70px;top:0;width:5.5px;height:313.25px;background:linear-gradient(#3d26a5,#88308e,#622aae,#3c26a3,#4826b8,#df3c42,#aa3570,#812f94,#ea7407,#e6db63,#f9f9e1,#ffffff,#fbfbeb,#e6e070,#e87a03,#8d318a,#632aad,#e33c3f,#b1366b,#3d26a6,#4c26be,#8b318b,#642aac,#2e268d,#4926b9,#672ba9,#4226ad,#2a2686,#4f27bd,#622aad,#36269a,#2f268e,#6d2ca4,#7c2e98,#37269c,#662aaa,#e93d3a,#ea7307,#e68c05,#e67d01,#f8521b,#e69d0c,#e6bd19,#e6b515,#e68603,#e63d3c,#5a28b4,#5427b9,#a73574,#4b26bd,#332695,#4a26bb,#732d9f,#4426b1,#39269f,#5e29b0,#642aab,#4426b1,#4c26bf,#953283,#762d9d,#4a26bc,#5127bb,#c1385c,#ee6a0d,#e68d05,#e68301,#f7541a,#f35e14,#e6a10d,#e6be19,#e6b214,#e68100,#d43a4c,#5027bc,#4f27bd,#c0385e,#4e27be,#3d26a5,#4426b1,#913286,#4a26ba,#4326b0,#4926ba,#9d337c,#5c29b3,#682ba8,#6b2ba6,#e93d3a,#8a318c,#af366d,#e69509,#e9e990,#fdfdf4,#ffffff,#f6f6d1,#e6d045,#f55917,#7a2e99,#8a308c,#de3c44,#6a2ba6,#4826b8,#5928b5,#8e3189,#5728b6,#38269d,#4426b1,#732da0,#712ca1,#332695,#5c29b2,#c1385c,#fa4d1e,#eb7109,#ea7407,#f8511c,#a53475,#4e27be,#3c26a5,#6a2ba7,#88308e,#88308e,#3d26a6,#642aab,#c0385e,#f94e1e,#e6a00d,#e6c72f,#e5ce41,#e68301,#f55818,#eb7109,#e6b816,#e6c72e,#e6b314,#e87a03,#f26112,#e87a03,#ec7009,#fe4324,#bd3760,#4526b2,#732d9f,#7f2f95,#682ba8,#322693,#5127bb,#5628b8,#4126ac,#282682,#4626b4,#4626b4,#302690,#232374,#4226ad,#3f26a8,#25257b,#1e1e63,#36269a,#312692,#1b1b5a,#18184f,#2a2686,#25257b,#131340,#12123b,#1f1f66,#1b1b5a,#0e0e30,#101034,#1d1d62,#1a1a57,#0d0d2b,#101035,#1d1d62,#191955,#0c0c29,#101037,#1e1e63)"></i><i style="position:absolute;left:75px;top:0;width:5.5px;height:313.25px;background:linear-gradient(#5127bc,#612aaf,#c73957,#6f2ca3,#5327ba,#953283,#e67e01,#b93763,#fb4a20,#e6bf19,#f0f0b2,#fefefc,#ffffff,#f0f0b5,#e6b616,#ed3d36,#812f94,#bc3761,#e68602,#742d9e,#632aac,#752d9e,#d23a4e,#4726b6,#722da0,#5127bc,#712ca1,#3e26a7,#923286,#4926ba,#4226ae,#4526b3,#dc3b45,#5427b9,#2e268d,#6a2ba6,#e87904,#792e9a,#5227ba,#f63f2e,#e6b917,#e6e682,#f0f0b6,#efefb1,#e6dd69,#e68603,#a53475,#a73573,#ea7506,#4a26bc,#151545,#6f2ca2,#e33c3f,#4126ac,#0d0d2c,#5127bc,#bc3761,#4926b9,#0d0d2b,#4a26bb,#e53c3d,#6f2ca3,#0f0f34,#5628b7,#e97805,#b83765,#5928b5,#fa4c1f,#e6c220,#e8e88b,#f0f0b6,#efefb0,#e6d95d,#e77b03,#923285,#802f94,#e68603,#87308f,#1d1d61,#632aad,#fc4821,#792e9a,#131341,#5628b7,#fa4c1f,#a83572,#151547,#5c29b2,#e59508,#f8501c,#4826b8,#ff4026,#e6be19,#eeeeac,#fefef9,#ffffff,#f0f0b5,#e6b214,#e33c3f,#7e2f96,#e5a50f,#bc3761,#292684,#672ba9,#fe4325,#662baa,#2f268f,#5b29b3,#9b337e,#4926ba,#4026aa,#5628b7,#6b2ba6,#5928b5,#622aad,#5928b5,#5628b7,#983380,#ab3570,#5728b7,#5628b7,#f7541a,#f45b16,#5b29b4,#9c337c,#e68402,#e6b616,#eaea96,#fbfbea,#ffffff,#e6de6a,#e6c934,#e6d149,#fcfcef,#fefef8,#f0f0b4,#e6d24a,#e69509,#d33a4c,#672baa,#f8521b,#e69308,#5b29b3,#5c29b2,#b23669,#dd3b44,#4526b2,#632aac,#6c2ca5,#752d9d,#362699,#5728b6,#4626b5,#4326af,#332694,#5728b7,#38269d,#2e268d,#2d268a,#4426b1,#2a2685,#20206a,#242479,#352698,#1e1e64,#161649,#1c1c5c,#26267d,#151548,#0f0f33,#191953,#242479,#12123d,#0b0b24,#1a1a56,#242478,#101036,#08081c,#1b1b58,#242477)"></i><i style="position:absolute;left:80px;top:0;width:5.5px;height:313.25px;background:linear-gradient(#38269c,#292683,#6b2ba6,#a13478,#3d26a5,#2f268e,#bd3860,#f94e1e,#742d9e,#f55817,#e5ce40,#f7f7d5,#ffffff,#fcfcf1,#e6e684,#e69509,#b43668,#4126ac,#d43a4c,#f53f2f,#38269e,#332695,#7a2e99,#8c318b,#352698,#2d268b,#4b26bd,#5928b5,#38269e,#2c2688,#3e26a6,#4626b5,#4326af,#2d268b,#38269d,#4526b2,#5f29b0,#332695,#3b26a2,#6b2ba6,#c83956,#f26013,#e68502,#e67f00,#fa4c1f,#e97805,#e6ab12,#e6b214,#e68904,#f63f2e,#7a2e9a,#682ba9,#89308d,#2f268e,#38269d,#4a26bb,#5728b7,#30268f,#3a26a0,#4126ac,#4b26bc,#39269e,#4026aa,#3e26a7,#612aae,#4a26bc,#4c26bf,#722da0,#d63b4b,#f0660f,#e68703,#e77b02,#fd4423,#fd4523,#e69107,#e6b415,#e6a710,#eb7109,#c93955,#5d29b2,#4826b8,#9e347b,#5828b5,#38269d,#4926ba,#762d9d,#4326af,#38269d,#6b2ba6,#812f94,#4126ab,#622aad,#c83957,#ed6e0b,#e59b0b,#e59a0b,#ee6a0d,#f8511c,#e5980a,#e6b415,#e6a20e,#ef670f,#bb3762,#5127bc,#c73957,#913286,#3b26a2,#36269a,#732d9f,#5628b8,#4026ab,#352697,#4826b7,#4426b1,#4b26bd,#342697,#39269f,#4926b9,#6f2ca3,#352699,#342696,#702ca1,#b2366a,#38269d,#5427b9,#de3c43,#e69b0b,#e6da61,#eaea95,#e6dc66,#e6a10e,#e83d3a,#ec3d37,#e97705,#e69006,#e77d02,#f65619,#983381,#5c29b2,#652aab,#d23a4e,#762d9d,#802f94,#ee3e35,#e68703,#e6b415,#e6b013,#e67f01,#e33c3f,#712ca1,#4126ac,#86308f,#9b337e,#37269b,#38269e,#5327b9,#5728b6,#2f268e,#312692,#3b26a3,#3a26a0,#25257c,#272680,#2c2688,#282683,#1c1c5d,#1c1c5f,#1f1f68,#1c1c5e,#16164b,#191953,#191954,#16164a,#16164b,#191953,#161649,#131340,#17174b,#191952,#141443)"></i><i style="position:absolute;left:85px;top:0;width:5.5px;height:313.25px;background:linear-gradient(#3a26a0,#101034,#b83764,#e68b05,#4b26be,#12123a,#ee690d,#ebeb9a,#7a2e99,#973381,#e68e06,#e6e57e,#fbfbea,#ffffff,#fafae7,#e6da60,#ee6a0d,#7b2e99,#e6b214,#e6d75a,#4226ad,#1d1d62,#f7541a,#ee6a0d,#38269d,#21216e,#bb3762,#c1385c,#4226ae,#272681,#843091,#812f93,#6b2ba6,#312691,#6b2ba6,#772d9c,#c2385c,#3e26a8,#6029af,#a03479,#ea7506,#5628b7,#742d9e,#c73957,#e68c05,#e6db63,#f3f3c1,#f2f2bc,#e6e47a,#e6aa11,#fd4623,#e03c41,#f16311,#4226ae,#672ba9,#88308e,#a83572,#4426b2,#712ca1,#5828b5,#5b29b4,#642aac,#8a308c,#4326af,#3c26a5,#ae366d,#c0385d,#39269f,#36269a,#f06510,#f7551a,#652aab,#fd4028,#e6b817,#eaea98,#f1f1ba,#f0f0b2,#e6dc67,#e69609,#b1366a,#5c29b2,#e68d05,#da3b46,#292684,#772d9c,#f7541a,#8f3188,#282682,#cd3a52,#f06510,#742d9e,#2a2686,#e68502,#e6b716,#6b2ba6,#692ba7,#fa4c1f,#e6c427,#ededa4,#f1f1b9,#ededa5,#e6d34e,#e68000,#8c318a,#e6b716,#e77d02,#662aaa,#30268f,#fb4b20,#d23a4d,#712ca1,#2b2687,#973381,#8e3189,#8e3189,#2b2687,#5828b6,#8d3189,#d63b4a,#312691,#4026ab,#d03a4f,#eb7208,#3d26a5,#a23478,#e67e01,#e6d554,#eeeea9,#f4f4c6,#ecec9e,#e6c426,#f7531b,#bc3760,#f94e1e,#f65519,#742d9e,#f93f2b,#c0385d,#aa3571,#da3b47,#e6a30e,#9f347a,#fe4324,#e69f0c,#e6e174,#f4f4c8,#f2f2c0,#e6de6a,#e69609,#eb3d38,#632aac,#f16212,#e68402,#672ba9,#4b26bc,#b33668,#cc3953,#4f27bd,#37269c,#662baa,#6c2ca5,#3e26a7,#2a2686,#4026aa,#4026aa,#2f268d,#1e1e64,#2e268c,#2c2689,#26267d,#191955,#21216d,#20206a,#25257d,#181851,#17174e,#191953,#26267d,#17174d,#111137)"></i><i style="position:absolute;left:90px;top:0;width:5.5px;height:313.25px;background:linear-gradient(#5327ba,#3f26a9,#3f26a9,#822f93,#812f94,#612aae,#622aad,#d73b49,#da3b47,#af366c,#a93572,#e69207,#e6e681,#fcfcef,#ffffff,#f7f7d9,#e6d148,#f45c15,#8c318a,#be385f,#c73958,#c4385a,#5628b7,#742d9e,#742d9e,#6f2ca3,#4026ab,#4f27bd,#4c26bf,#4526b3,#37269b,#4526b4,#4626b4,#38269d,#342696,#4426b2,#4d26bf,#37269c,#352699,#4b26bc,#762d9d,#4326b0,#3c26a4,#612aae,#b43668,#f45b16,#e68d06,#e69609,#ed6d0b,#ce3a51,#eb7109,#e6a20e,#e6a20e,#e97606,#e13c41,#792e9a,#4626b5,#732d9f,#4226ae,#4a26bb,#3d26a6,#4b26bc,#4226ae,#5628b7,#4026ab,#4826b8,#5227bb,#792e9a,#5427b9,#662baa,#87308f,#bd3860,#8f3188,#e03c42,#e5a810,#e9e991,#f8f8db,#f8f8dc,#eaea97,#e6b114,#fa4c1f,#863090,#ae366d,#973382,#ab3570,#612aae,#6f2ca3,#622aae,#7b2e98,#622aad,#4d26bf,#4b26bc,#89308d,#8f3188,#4526b3,#4b26bc,#7d2e97,#f03e34,#e67d01,#e6980a,#e68502,#fa4c1f,#e69a0b,#e6c01a,#e6b515,#e67e01,#e83d3a,#682ba8,#792e9a,#9a337e,#5f29b0,#4126ac,#4f27bd,#772d9c,#8b318b,#3e26a8,#4826b7,#933284,#e73d3b,#4126ac,#5a28b4,#b1366b,#ed6d0b,#e6ad12,#e6c01a,#e6a40f,#f06410,#e68804,#e69509,#e97805,#f73f2d,#802f94,#5e29b1,#702ca2,#742d9e,#4726b5,#5e29b0,#4a26bb,#4e26be,#5628b8,#8a318c,#4226ae,#732d9f,#cd3952,#f0660f,#e59207,#e69308,#f16411,#c93955,#5d29b2,#853090,#f93f2c,#e68000,#e6a40f,#e69d0c,#f06510,#af366c,#4c26be,#3a26a1,#5828b6,#c73957,#3d26a5,#2a2686,#3d26a5,#6b2ba6,#292685,#1f1f68,#2c2689,#4026aa,#1d1d62,#1b1b5b,#222271,#2d268b,#191953,#1b1b5b,#1b1b5b,#20206b,#17174d,#1b1b5b,#17174e)"></i><i style="position:absolute;left:95px;top:0;width:5.5px;height:313.25px;background:linear-gradient(#662baa,#993380,#6f2ca2,#292684,#752d9e,#fa4c1f,#c2385c,#2b2688,#943284,#e6bf19,#ed6d0b,#c1385c,#e6a810,#e9e991,#fdfdf3,#ffffff,#f7f7d9,#e6c934,#fa4c1f,#6c2ca5,#bb3761,#e5ce40,#db3b46,#342696,#89308d,#f26013,#702ca2,#362699,#732da0,#b33669,#4326af,#38269d,#682ba9,#762d9d,#38269e,#3a26a0,#632aad,#722da0,#4026ab,#3c26a4,#642aac,#a83573,#5d29b1,#3f26a8,#702ca1,#f55917,#9c337d,#5a29b4,#e73d3b,#e69509,#e6dd69,#f1f1bb,#f4f4c6,#e6e277,#e6a10d,#ed3d36,#933285,#f06510,#612aae,#4626b5,#88308e,#c2385b,#3a26a1,#4a26bb,#a03479,#983380,#282683,#5427b9,#f43e30,#c3385a,#1f1f67,#6c2ca5,#e69609,#f26112,#b63766,#e6a20e,#eaea98,#fdfdf5,#ffffff,#f7f7d7,#e6ce40,#f65619,#652aaa,#88308d,#e6b114,#ef3e34,#2e268c,#6e2ca4,#f7541a,#c83956,#3d26a6,#622aad,#df3c42,#fa4d1e,#5c29b3,#5e29b1,#fc4722,#e6b214,#9c337d,#8f3188,#f65619,#e6c62c,#f5f5cd,#ffffff,#fffffd,#ebeb9c,#e6b114,#ee3e35,#ec6e0a,#e6a10d,#f43e2f,#682ba8,#ca3954,#ef680e,#e77b03,#732d9f,#7d2e97,#e69509,#e6de6c,#843091,#b83764,#e68502,#e6df6f,#fefef8,#ffffff,#f9f9e0,#e6d75a,#e77d02,#923286,#e6c324,#e6c01c,#712ca1,#4926b9,#f55917,#fb4b20,#6c2ba5,#682ba8,#b63766,#963282,#732d9f,#ae366d,#89308d,#5d29b2,#8b318b,#f26112,#9a337f,#4b26bd,#c93955,#e6d148,#ee3e35,#fc4722,#e6c01c,#e7e788,#f1f1b8,#f0f0b3,#e6dc66,#e68000,#9d347c,#4726b6,#fe4027,#e6d046,#802f94,#342696,#953283,#f35e14,#4326b0,#272681,#5728b6,#a43475,#2c2689,#21216f,#3f26a8,#5928b5,#1d1d61,#20206b,#322694,#39269f,#131340,#20206b,#2b2687)"></i><i style="position:absolute;left:100px;top:0;width:5.5px;height:313.25px;background:linear-gradient(#3c26a4,#5828b5,#4526b3,#232374,#3e26a8,#7a2e99,#712ca1,#2b2688,#4326af,#c2385c,#c83956,#4d26bf,#da3b46,#e6a30e,#e9e992,#fdfdf5,#ffffff,#f5f5ce,#e6c72d,#fb4a20,#89308d,#d33a4d,#a83572,#2b2687,#4926b9,#812f93,#5b29b3,#25257a,#4726b5,#5928b5,#3c26a4,#242479,#4726b6,#4926b9,#2e268d,#292684,#4a26bc,#4726b7,#2b2687,#322693,#5928b5,#5227bb,#312692,#4226ae,#7a2e9a,#792e9a,#4026aa,#6b2ba6,#bf385f,#d33a4d,#ed6c0c,#e69c0b,#e5aa11,#e6ba18,#e6b315,#e6b013,#e6a50f,#f16311,#a23478,#7f2f95,#dc3b45,#722da0,#38269d,#5127bb,#963282,#5e29b1,#4926b9,#4626b5,#89308c,#762d9d,#802f94,#772d9c,#fe4125,#e97805,#e69408,#e6be19,#e6c934,#e6bf19,#e6bb18,#e6980a,#f65619,#87308f,#832f92,#3e26a7,#c0385e,#5e29b1,#4c26bf,#39269f,#8c318a,#5427b9,#4126ad,#3b26a2,#8c318a,#762d9c,#4826b7,#4326af,#c1385d,#cb3954,#6c2ca5,#8a308c,#eb7208,#e6d554,#f8f8dc,#ffffff,#fdfdf5,#e6e276,#e68603,#be385f,#c63958,#e53d3d,#672ba9,#89308d,#983381,#ab3570,#812f93,#d73b49,#b23669,#cc3953,#d83b48,#f45b16,#e6bd18,#f0f0b2,#fefefb,#ffffff,#f1f1b9,#e6b716,#f55a17,#d73b4a,#c93956,#b43668,#ad366e,#832f92,#832f92,#6a2ba6,#5f29b0,#5c29b2,#662aaa,#4626b5,#4026ab,#4b26bd,#662aaa,#3f26a9,#39269f,#4a26bc,#853090,#4726b5,#4126ac,#5628b7,#d73b4a,#692ba7,#722ca0,#f16212,#e6cc3b,#f0f0b4,#f8f8dc,#f6f6d1,#e6da62,#e87a03,#953283,#662aaa,#cb3954,#722ca0,#4426b0,#4326af,#6e2ca3,#4326b0,#2e268c,#312691,#4226ad,#2f268f,#20206c,#282683,#30268f,#222270,#191953,#242479,#242479,#181851,#151547,#222271)"></i><i style="position:absolute;left:105px;top:0;width:5.5px;height:313.25px;background:linear-gradient(#25257a,#692ba7,#9a337e,#4126ac,#292684,#832f92,#fc4822,#6c2ba5,#2e268d,#c2385c,#e6b214,#c3385b,#4526b3,#eb3d38,#e6a30e,#eaea94,#fdfdf7,#ffffff,#f5f5cc,#e6c830,#f8511c,#f94e1d,#e6a30e,#a13478,#352698,#bf385e,#f43e30,#5528b8,#39269f,#913286,#87308f,#38269d,#4426b1,#843091,#4e26be,#272681,#632aad,#903287,#3c26a4,#20206c,#a63574,#bf385e,#352699,#272680,#f55a17,#f8521c,#38269d,#3a26a0,#e6cb3a,#e6ab11,#4426b1,#732d9f,#ee6b0c,#e5da60,#f8f8da,#ffffff,#fcfcf2,#e7e789,#e68502,#953283,#e6e277,#e87804,#3f26a9,#4726b6,#e68301,#f7551a,#4526b3,#3e26a7,#fe4324,#e68100,#632aac,#fd4424,#e6c831,#ebeb9d,#f1f1b8,#eeeeab,#e6dc66,#e68904,#973381,#39269e,#d93b47,#ed6d0b,#3d26a5,#272681,#b33669,#d33a4d,#2d268a,#2f268e,#d23a4e,#a33477,#2a2686,#4226af,#f16411,#b43668,#332694,#782e9b,#e6ca37,#ff4026,#4326af,#b1366a,#e69509,#e6e57d,#fbfbeb,#ffffff,#fcfcee,#e6d657,#ef670f,#f25f13,#e6d24d,#d53b4b,#5227bb,#e68c05,#e68a04,#7f2f95,#8f3188,#e7e785,#e68000,#ad366e,#eb7208,#e6dc66,#ffffff,#ffffff,#fafae8,#e6e071,#e59308,#a53475,#ff4126,#e6e57d,#cb3954,#3a26a0,#973381,#e87804,#87308e,#3c26a3,#642aac,#c73958,#6e2ca3,#4526b3,#5227ba,#722da0,#652aab,#662aaa,#692ba8,#4926b9,#662baa,#b0366c,#a73573,#3d26a6,#722da0,#ef670f,#f7541a,#943283,#e68402,#e6db63,#f9f9e2,#ffffff,#fdfdf3,#e6dd69,#e87904,#943283,#722ca0,#e68402,#cb3954,#26267e,#4726b6,#d53a4b,#682ba9,#1c1c5d,#342696,#752d9e,#3d26a5,#1b1b5c,#2c268a,#4426b2,#292684,#1c1c5e,#282683,#302690,#1b1b5b,#1d1d61)"></i><i style="position:absolute;left:110px;top:0;width:5.5px;height:313.25px;background:linear-gradient(#302690,#4d26bf,#6029af,#2b2687,#4326af,#5728b6,#832f92,#3e26a7,#6e2ca4,#6d2ca4,#cf3a51,#6a2ba7,#c4385a,#812f93,#eb3d38,#e6a20e,#eaea98,#ffffff,#ffffff,#f2f2c0,#e6c426,#f65619,#bf385e,#933284,#a33477,#722ca0,#742d9e,#5428b9,#5c29b2,#652aab,#4c26bf,#3a26a0,#4126ad,#622aad,#4126ac,#2a2685,#3e26a7,#692ba8,#3d26a5,#1f1f68,#4a26bb,#7b2e99,#3d26a6,#1c1c5d,#7b2e99,#a33477,#4326af,#4c26be,#de3c43,#ec6f0a,#e68502,#e67d01,#f65619,#e87904,#e6af13,#e6c62c,#e6bf19,#e69408,#c73957,#4626b5,#f8521c,#fe4225,#37269c,#37269b,#c93955,#f94e1e,#e87a04,#e69d0c,#e6a10d,#ec6f0a,#a93571,#7c2e98,#f8511c,#e69c0b,#e6b013,#e6a20e,#eb7308,#df3c42,#4b26bc,#21216f,#632aac,#a53575,#2b2688,#141443,#5728b7,#7e2e96,#242477,#1b1b58,#642aac,#752d9e,#21216d,#26267f,#8c318b,#832f91,#212170,#38269e,#e73d3c,#b1366a,#652aab,#f94f1d,#e5cd3e,#f7f7d5,#ffffff,#fefef8,#ececa1,#e6a50f,#d13a4f,#792e9a,#fa4b1f,#8c318a,#702ca1,#973381,#fe4324,#7b2e98,#ce3a52,#fe4225,#e33c3e,#e68a04,#e6df6e,#fbfbe9,#ffffff,#fafae6,#e6d554,#ed6e0b,#d23a4e,#822f93,#c53859,#ff4026,#86308f,#5f29af,#6b2ba6,#8a318c,#692ba7,#4e26be,#4226ad,#4d26bf,#5e29b0,#4c26bf,#342697,#39269e,#5e29b0,#5d29b2,#36269a,#2d268b,#692ba7,#853090,#4526b3,#282683,#863090,#db3b46,#712ca1,#b1366b,#e69e0c,#e7e789,#fcfcf0,#ffffff,#f8f8dd,#e6ce40,#f7551a,#6b2ba6,#953283,#ba3763,#4d26bf,#1c1c5d,#5928b5,#632aad,#342696,#151546,#3c26a4,#3d26a5,#232374,#151546,#312692,#2b2688,#17174e,#161648,#2b2688,#20206a,#101035,#17174b)"></i><i style="position:absolute;left:115px;top:0;width:5.5px;height:313.25px;background:linear-gradient(#5227bb,#4b26bc,#5528b8,#352699,#963382,#6029af,#5428b9,#4d26bf,#f94f1d,#89308d,#5528b8,#973382,#e6c221,#db3b46,#6e2ca3,#ca3954,#e6a40f,#ededa7,#ffffff,#fffffd,#f4f4c6,#e5cd3e,#f45c15,#fe4027,#e6b917,#c4385a,#4c26be,#923285,#fc4622,#8d318a,#4b26be,#5528b8,#903187,#89308d,#5027bc,#3b26a2,#5928b5,#b43668,#5f29af,#2c2688,#5227bb,#f94f1d,#7d2e97,#1f1f69,#802f94,#e6b415,#b63766,#db3b45,#e6a910,#ebeb9d,#f2f2be,#efefaf,#e6e173,#e6c220,#d53b4b,#3d26a6,#f7551a,#e6e379,#88308e,#111137,#e67f01,#f3f3c4,#842f91,#5c29b3,#f45a16,#e6d85c,#f5f5cc,#fffffd,#fefef8,#eeeea9,#e69c0c,#b53667,#e6b013,#e6cf43,#4526b2,#332695,#fa4c1f,#ef670e,#37269b,#17174e,#ab3570,#d53a4b,#312691,#1d1d62,#86308f,#b0366b,#2e268c,#2a2685,#9e347b,#cb3954,#2c2689,#3d26a6,#fd4424,#f7541a,#2c2689,#692ba7,#e6b114,#e6ad12,#d23a4e,#e6a810,#f1f1ba,#ffffff,#ffffff,#f5f5cc,#e6dd6a,#f0660f,#622aad,#d63b4a,#f4f4ca,#e68402,#302690,#fb4920,#ffffff,#f06510,#4226ad,#d23a4d,#e6c323,#f0f0b3,#fdfdf4,#ffffff,#fafae7,#e6d450,#f65519,#e68602,#e7e785,#df3c43,#2a2685,#e03c42,#e67d01,#8f3188,#25257d,#802f94,#d83b49,#702ca2,#2b2687,#4a26bc,#8c318b,#6a2ba6,#38269d,#36269a,#742d9f,#7e2e96,#4d26bf,#292684,#7d2e97,#b93764,#87308e,#21216f,#ae366d,#f25f13,#ef3e34,#eb3d38,#e6c01c,#f1f1b9,#fefefa,#fefefb,#f1f1bb,#e6ba17,#e43c3e,#4826b8,#c53859,#eb7108,#a0347a,#1a1a55,#712ca1,#bf385e,#5127bb,#141442,#4426b1,#6a2ba7,#352698,#11113a,#362699,#4226ad,#232376,#111137,#2d268b,#302690,#18184f,#111137)"></i><i style="position:absolute;left:120px;top:0;width:5.5px;height:313.25px;background:linear-gradient(#322693,#4a26bc,#5828b5,#26267d,#4726b6,#5628b7,#682ba9,#322693,#7d2e97,#722ca0,#87308e,#4726b5,#e73d3b,#a83572,#cd3a52,#772d9c,#e73d3b,#e6bd19,#f1f1b7,#fefefa,#fefefb,#f2f2bc,#e6bc18,#e63d3c,#dd3b44,#d53b4b,#a13479,#672ba9,#782e9b,#933285,#6b2ba6,#4226ae,#4726b6,#7c2e97,#5528b9,#4926ba,#6f2ca2,#a63574,#822f93,#4b26bd,#3d26a5,#a03479,#4c26be,#232375,#4426b1,#f33e31,#632aac,#722ca0,#fe4324,#e6a30e,#e6bf1a,#e6b616,#e68904,#f65718,#89308d,#37269c,#87308f,#f26013,#88308d,#4126ac,#a93571,#e97606,#d83b49,#702ca2,#9f347a,#e68a04,#e6db63,#f9f9e1,#ffffff,#fdfdf6,#e6dc66,#ea7506,#db3b46,#fa4d1e,#d23a4d,#7a2e99,#853090,#b0366b,#772d9c,#4826b8,#5c29b3,#832f92,#4926b9,#3c26a4,#4d26bf,#762d9c,#3c26a5,#4326af,#5a28b4,#7f2f95,#3f26a9,#652aab,#843091,#9e347b,#6e2ca3,#d43a4b,#ee6b0c,#e68603,#f16411,#fe4027,#e6a610,#e6d148,#e5ce41,#e6ad12,#ec6f0a,#c0385d,#4626b4,#5b29b3,#eb7308,#e43c3e,#5227bb,#88308e,#e68603,#b73766,#ea3d39,#e6b214,#f3f3c1,#ffffff,#fefefc,#efefb1,#e6c220,#ef680e,#87308f,#ab3570,#f26113,#702ca2,#2a2685,#642aac,#bd3860,#5828b6,#20206b,#4226ad,#832f92,#4c26bf,#1e1e65,#352698,#702ca2,#4b26bc,#242478,#352697,#772d9c,#4f27bd,#30268f,#4226ae,#973381,#662baa,#4226ad,#6f2ca2,#e73d3b,#963282,#c63958,#e6a30e,#eeeea9,#fffffd,#fffffd,#f2f2c0,#e6c933,#fa4c1f,#6f2ca3,#973381,#b73765,#9b337e,#4926b9,#5728b6,#642aab,#5628b7,#312691,#3b26a1,#3e26a7,#3a26a0,#21216d,#2b2687,#312692,#2b2687,#161649,#21216d,#2b2687,#21216e,#0f0f31,#1a1a58)"></i><i style="position:absolute;left:125px;top:0;width:5.5px;height:313.25px;background:linear-gradient(#20206a,#5027bd,#5127bb,#5c29b2,#272681,#5227ba,#6c2ba5,#a63575,#312692,#5528b8,#a63574,#f45b16,#3f26a9,#5828b5,#f65718,#e6ca36,#5728b7,#f7551a,#e6c529,#f2f2bf,#fffffe,#ffffff,#efefb0,#e6b415,#e63d3c,#802f95,#e6980a,#e6b014,#38269e,#612aae,#fc4822,#f94e1d,#2f268f,#6b2ba6,#bb3762,#e53c3d,#da3b47,#fc4622,#fe4125,#ce3a51,#752d9d,#722ca0,#7b2e99,#5c29b3,#342697,#5f29b0,#4c26bf,#4726b5,#4226ae,#6f2ca3,#4926ba,#692ba7,#5c29b3,#632aac,#38269e,#933284,#762d9d,#5e29b1,#3d26a6,#fa4d1e,#bf385e,#5d29b1,#5227ba,#e6c221,#f16311,#d13a4f,#e68d05,#e6e47c,#fdfdf4,#ffffff,#f8f8da,#e6d655,#eb7109,#aa3571,#973381,#e6cf44,#d53a4b,#5828b5,#662aaa,#ee6b0d,#812f94,#5728b6,#5428b9,#f43e30,#642aac,#5728b6,#6f2ca2,#f8511c,#682ba9,#5a28b4,#c3385b,#e6ac12,#822f93,#a73573,#f25f13,#e6c72e,#ececa2,#f6f6d0,#ededa4,#e6c832,#ee6a0d,#ea3d38,#ee690d,#e59408,#672baa,#f94f1d,#f8521b,#f63f2e,#6c2ca5,#e6bb18,#e67f00,#c83956,#9e347b,#eb7208,#e6d657,#f9f9e0,#ffffff,#fefefc,#e8e88e,#e69a0b,#da3b47,#e5cb3a,#e33c3f,#632aac,#7a2e9a,#f16212,#742d9f,#4126ac,#692ba7,#b93763,#4526b3,#3b26a2,#612aae,#742d9e,#3a26a1,#4526b4,#5f29b0,#4f27bd,#4226ae,#6d2ca4,#602aaf,#4326af,#6c2ca5,#be385f,#642aab,#3c26a4,#cf3a50,#ed6d0b,#7c2e98,#df3c42,#e5a710,#ecec9e,#ffffff,#ffffff,#f4f4c8,#e6c934,#f26013,#6b2ba6,#f8501c,#fb4a20,#4626b5,#272681,#9d347c,#8e3188,#352698,#1d1d5f,#5928b5,#4b26bd,#272681,#16164a,#3b26a2,#352697,#272680,#141443,#2a2686,#272680,#262680,#13133e,#1e1e63,#1f1f67)"></i><i style="position:absolute;left:130px;top:0;width:5.5px;height:313.25px;background:linear-gradient(#1c1c5e,#4226ae,#5027bc,#3b26a2,#25257b,#4326b0,#5a28b4,#5528b8,#312692,#4526b3,#722da0,#963382,#4326af,#4726b6,#ab3570,#fa4b1f,#6a2ba6,#9b337e,#ec6f0a,#e6d34e,#f7f7d8,#ffffff,#fdfdf5,#e6e174,#e68402,#bd3860,#eb3d38,#ef3e35,#5227bb,#742d9e,#c53959,#bd3760,#722da0,#732d9f,#782d9b,#832f92,#943284,#c93956,#bb3762,#7e2f96,#4826b7,#5928b5,#5428b9,#39269e,#26267f,#5327ba,#4526b2,#30268f,#2c2689,#5428b9,#3e26a7,#36269b,#36269a,#5728b7,#3b26a2,#4b26bc,#4726b6,#5c29b2,#3b26a3,#89308c,#732d9f,#672ba9,#4226ae,#fe4225,#c73957,#802f94,#dc3b45,#e6a40e,#ebeb9d,#ffffff,#ffffff,#f2f2bf,#e6c425,#f7551a,#622aad,#f8511c,#a83572,#7a2e99,#4426b1,#a43476,#652aaa,#662aaa,#3e26a8,#7a2e9a,#4926b9,#5e29b1,#4526b3,#8d3189,#4626b4,#7f2f95,#ae366d,#f7531b,#e67e01,#e68402,#fb4b20,#ec6f0a,#e6b716,#e6cd3e,#e6b716,#ea7307,#c93955,#933284,#a73573,#db3b45,#4c26bf,#a83573,#913286,#9e347b,#5d29b1,#fb4921,#bd3860,#a83573,#ea7407,#e6dc65,#f9f9e1,#ffffff,#fcfcee,#e6e276,#e68e06,#d83b48,#6f2ca3,#f65718,#742d9f,#4226ae,#5428b9,#b53767,#4326b0,#312692,#4b26bd,#7b2e99,#342697,#2b2687,#4a26bb,#5f29b0,#352698,#302690,#4a26bb,#5628b7,#4326b0,#3e26a8,#4c26bf,#612aae,#6d2ca4,#5f29b0,#5528b8,#87308f,#c3385b,#a73573,#e43c3e,#e5a810,#eaea96,#fdfdf6,#ffffff,#f4f4c9,#e6c425,#f35d15,#aa3571,#a53475,#9f347a,#88308e,#4526b3,#612aae,#5427b9,#4926b9,#352698,#3e26a7,#37269c,#322693,#272681,#2d268b,#272681,#232376,#26267d,#242476,#1c1c5d,#1b1b59,#25257b,#1d1d62,#141443,#16164a)"></i><i style="position:absolute;left:135px;top:0;width:5.5px;height:313.25px;background:linear-gradient(#302690,#332696,#5c29b2,#3c26a4,#4426b1,#37269c,#5d29b2,#5127bb,#742d9e,#3d26a5,#5f29b0,#913286,#d13a4f,#4526b2,#662baa,#fa4c1f,#e67f00,#5728b6,#de3c43,#e68a04,#e6e378,#fdfdf7,#ffffff,#f8f8db,#e6d656,#e68101,#f8501c,#e67e01,#ee6b0c,#d93b47,#fa4d1f,#e77d02,#f26112,#d03a4f,#923285,#812f93,#5227bb,#8e3189,#c93955,#4926b9,#362699,#6a2ba6,#842f91,#342697,#272680,#5b29b3,#652aab,#272680,#222271,#5d29b2,#5628b8,#1e1e63,#272681,#702ca2,#5227bb,#191953,#352698,#983380,#5628b7,#191953,#4c26bf,#f43e30,#662aaa,#1e1e66,#903287,#e59408,#843091,#f53e2f,#e6bc18,#f3f3c3,#ffffff,#fffffd,#f0f0b2,#e6c324,#fb4921,#752d9e,#dd3b44,#e68603,#712ca0,#7d2e97,#86308f,#e63d3c,#8d318a,#e03c42,#5f29b0,#953283,#ee3e35,#e68e06,#6a2ba6,#f7541a,#e6bc18,#efefb1,#fffffd,#ffffff,#ebeb9d,#e6af13,#ec3d37,#822f93,#f0660f,#e68a04,#7e2e96,#652aab,#c53959,#e87a03,#c93955,#6b2ba6,#8f3188,#e6c830,#ec6e0a,#792e9a,#e53c3d,#e6a60f,#eaea96,#ffffff,#ffffff,#f7f7d8,#e6d34d,#eb7208,#903187,#e6cf43,#e03c41,#692ba8,#5d29b1,#f25f13,#7c2e98,#662baa,#4426b1,#a83572,#4f27bd,#6f2ca3,#3a26a1,#5c29b2,#4626b5,#863090,#39269f,#3b26a2,#4b26bc,#be3860,#4226ae,#2a2685,#6a2ba7,#f55a17,#5a29b4,#1e1e65,#af366c,#e6c11f,#8f3188,#ff4126,#e6c426,#f3f3c5,#fefef9,#fefefc,#f2f2bf,#e6c325,#f43e30,#4b26bd,#fb4a20,#e6b314,#4a26bb,#141442,#a03479,#fe4324,#302690,#101035,#6029af,#8b318b,#1f1f68,#0c0c29,#3f26a8,#4b26bd,#141444,#0b0b24,#322693,#37269c,#0e0e2e,#0a0a23,#2a2686,#2b2688,#0a0a22,#0b0b23)"></i><i style="position:absolute;left:140px;top:0;width:5.5px;height:313.25px;background:linear-gradient(#232376,#2a2686,#5327ba,#3f26a9,#312691,#332695,#5528b8,#4726b6,#4526b2,#4226ad,#5828b6,#632aac,#752d9e,#622aad,#5c29b3,#a53475,#d23a4e,#a43476,#903187,#fc4622,#e6c220,#f3f3c3,#ffffff,#fefefb,#ebeb9b,#e6ae13,#f8501c,#dc3b45,#e93d3a,#ef3e34,#fb4a20,#f26013,#f65718,#ed3d36,#ab3570,#682ba9,#4426b0,#5e29b0,#8d3189,#3c26a5,#302690,#4726b5,#6e2ca3,#312691,#232375,#4026ab,#5f29af,#2a2686,#1c1c5c,#4126ac,#5928b5,#272680,#1b1b5b,#4726b7,#5828b6,#26267e,#232375,#5e29b1,#5c29b2,#292684,#332694,#8e3189,#6a2ba7,#302690,#4b26bd,#ef3e35,#88308e,#7c2e97,#f8521b,#e6ba17,#e6de6b,#e6dd6a,#e6c221,#e68703,#ea7506,#ef680e,#ef3e34,#e23c40,#903187,#5e29b1,#4a26bc,#8b318b,#822f92,#853090,#3c26a4,#652aab,#a33477,#e63d3d,#4b26bd,#f73f2e,#e6b315,#ededa5,#fefefb,#ffffff,#f3f3c2,#e6c11e,#ff4126,#7b2e98,#c93955,#de3c43,#4726b7,#4d26bf,#843091,#cc3953,#702ca2,#4e27be,#692ba7,#f45b16,#be3860,#8b318b,#f45c16,#e6ca36,#f4f4ca,#ffffff,#fefefa,#e8e88c,#e6990a,#db3b46,#662baa,#f16411,#7d2e97,#5528b8,#4b26bc,#ae366d,#4826b8,#5828b6,#4226ad,#612aae,#3b26a2,#5e29b0,#3d26a6,#4026ab,#3b26a2,#6b2ba5,#3e26a8,#3a26a0,#4726b6,#86308f,#4626b5,#4626b5,#6c2ca5,#c2385c,#622aad,#7a2e99,#b63766,#f35e14,#db3b46,#e6a50f,#e9e993,#fbfbed,#f9f9e3,#ebeb99,#e6b214,#f35f14,#7a2e9a,#9e347b,#983381,#f8521b,#3b26a1,#5a28b4,#5d29b2,#9d337c,#282682,#3b26a2,#3e26a8,#5728b7,#1b1b5b,#2a2686,#2e268c,#3a26a1,#141444,#1e1e64,#25257c,#2f268d,#111138,#151547,#20206c,#282683,#0f0f31,#101034)"></i><i style="position:absolute;left:145px;top:0;width:5.5px;height:313.25px;background:linear-gradient(#2b2687,#292684,#4926ba,#4926ba,#3c26a3,#38269d,#4c26be,#4926b9,#5e29b1,#4e26be,#5327ba,#4a26bb,#b0366c,#88308d,#5f29b0,#5227bb,#ee6b0d,#f03e34,#732d9f,#b83764,#e68803,#e6e681,#fffffe,#ffffff,#f7f7d7,#e6dc65,#e68000,#953282,#e68904,#fb4921,#fe4324,#f8511c,#e67d01,#fb4a20,#c73957,#722ca0,#7c2e98,#943284,#6e2ca4,#3f26a9,#4826b7,#5628b8,#612aae,#3b26a2,#36269a,#3e26a7,#5d29b2,#38269e,#312691,#342697,#5b29b3,#38269d,#39269f,#332694,#5b29b3,#3c26a4,#5127bc,#37269c,#5b29b3,#4726b7,#923285,#4026ab,#5c29b2,#722da0,#fb4921,#5227bb,#5e29b1,#d13a4e,#e6b917,#7c2e98,#8d318a,#fd4523,#e6b716,#eeeeac,#ffffff,#ffffff,#e9e98f,#e6a30e,#fd4523,#e69007,#e5a710,#4c26be,#c0385d,#e5a40f,#fc4722,#4126ab,#f06610,#ecec9e,#cc3952,#c0385d,#e69f0d,#e9e993,#fefefb,#ffffff,#f8f8de,#e6d24d,#f35d15,#7f2f95,#e6ad12,#e6df6e,#5c29b2,#4126ac,#f45b16,#e6a40f,#622aae,#4226af,#fc3f29,#e6c323,#903187,#c3385b,#e6a40e,#e7e788,#fbfbec,#ffffff,#fbfbe9,#e6d34f,#f25f13,#903287,#ff4126,#e69f0d,#4b26bd,#4a26bb,#ac356f,#ec3d36,#322694,#5027bd,#89308c,#812f94,#242478,#5f29b0,#903187,#4d26bf,#1e1e63,#7e2f96,#cb3954,#4726b5,#1d1d61,#c2385b,#ef680e,#5d29b1,#20206a,#ed6c0c,#e6ce42,#9b337e,#4f27bd,#fd4523,#e6ac12,#e6df6e,#eeeeaa,#f1f1ba,#e6e173,#e69b0b,#d13a4f,#e6a911,#e6ae12,#7a2e9a,#25257b,#fa4b1f,#fb3f2a,#4426b0,#1f1f68,#9e347b,#843091,#2e268c,#191954,#5c29b2,#4726b7,#1f1f68,#141442,#3e26a7,#322693,#151547,#141442,#322694,#25257a,#0e0e30,#141443,#2c2689,#1c1c5e,#0a0a21)"></i><i style="position:absolute;left:150px;top:0;width:5.5px;height:313.25px;background:linear-gradient(#30268f,#202069,#39269e,#4e26be,#37269c,#2b2687,#4026aa,#4e26be,#4726b5,#3b26a1,#4c26be,#4f27bd,#752d9d,#5528b8,#712ca1,#5528b9,#d53b4b,#9d347c,#b33669,#802f95,#ff4126,#e6c323,#f4f4c7,#ffffff,#fefef9,#eeeeaa,#e6b415,#ec3d37,#fe4027,#ff4026,#fa4d1e,#f8501c,#f16311,#f9501d,#d93b48,#843091,#5728b7,#6e2ca3,#682ba8,#4926ba,#3a26a0,#4326af,#4f27bd,#4726b5,#2d268b,#322693,#4926b9,#4526b3,#292684,#292684,#4726b7,#4426b2,#2f268d,#2a2685,#4826b8,#4526b3,#3d26a6,#332695,#4a26bb,#4a26bb,#5e29b0,#4526b3,#4e26be,#6029af,#aa3571,#732d9f,#5928b5,#933285,#f25f13,#d13a4f,#6d2ca4,#bf385e,#e68502,#e6e275,#fefef8,#ffffff,#f7f7d9,#e6d34e,#e97605,#fc4622,#f8511c,#c53959,#953283,#f7551a,#a63574,#6f2ca3,#de3c43,#e5a30e,#802f94,#853090,#f65619,#e6b616,#e6de6b,#e7e785,#e6d758,#e69609,#e43c3e,#f55818,#f0660f,#e68f06,#8b318b,#4626b5,#d03a4f,#f7531b,#4d26be,#322693,#b0366b,#ee6b0c,#622aad,#7c2e97,#f0660f,#e6bc18,#e6de6b,#e6e681,#e5d553,#e68804,#c93955,#fc4722,#f7531b,#f94e1e,#6b2ba6,#4526b4,#853091,#973381,#342697,#3b26a1,#722da0,#5728b6,#25257d,#4026ab,#772d9c,#3e26a7,#1c1c5d,#4d26bf,#943284,#352698,#17174b,#792e9a,#e23c40,#352698,#151545,#d33a4d,#e67e01,#3d26a6,#8a318c,#e97606,#e6d24b,#ebeb9b,#eeeeab,#e8e88c,#e6c11d,#fc4722,#622aad,#f7541a,#f35f14,#2a2686,#191952,#ae366d,#ab3570,#1d1d62,#151545,#672ba9,#5e29b0,#141443,#111137,#4126ad,#3b26a2,#0d0d2d,#0d0d2c,#312691,#2c2688,#0b0b24,#0d0d2a,#282683,#242477,#0a0a20,#0d0d2b,#242479,#1f1f69,#09091e)"></i><i style="position:absolute;left:155px;top:0;width:5.5px;height:313.25px;background:linear-gradient(#4126ad,#2c2689,#3d26a6,#4e27be,#4026aa,#4026aa,#5b29b3,#5327ba,#3e26a8,#6d2ca4,#9e347b,#5a29b4,#3d26a6,#d33a4d,#f8501c,#672ba9,#3e26a7,#e68f06,#e6bd18,#7d2e97,#9d347c,#e67d01,#e6e173,#fdfdf5,#ffffff,#fafae5,#e6e071,#e68703,#ab356f,#e6cb39,#e6ae12,#f7541a,#fb4a20,#e6990a,#f35e14,#993380,#4526b4,#c53959,#993380,#5c29b3,#332695,#6e2ca3,#5a28b4,#5928b5,#30268f,#4326af,#4226ad,#5828b5,#2d268b,#302690,#3b26a2,#5a29b4,#2b2687,#26267f,#3d26a5,#5f29b0,#292684,#26267f,#4626b5,#6b2ba6,#272681,#312692,#652aaa,#822f93,#272680,#4726b6,#a83573,#b33669,#292683,#832f92,#f45a16,#fb4b20,#e73d3b,#e6b214,#f0f0b2,#ffffff,#ffffff,#efefb1,#e6c323,#f7531a,#762d9c,#b33669,#e97606,#ce3a51,#6d2ca4,#752d9d,#d23a4e,#903287,#c3385b,#692ba7,#8c318a,#923285,#e97705,#89308d,#f73f2d,#e6ad12,#e9e991,#fbfbe9,#fdfdf6,#ededa5,#e6b013,#e03c41,#712ca1,#c1385d,#e68402,#5728b7,#4a26bb,#923285,#f65718,#4c26bf,#5628b7,#9b337e,#e68100,#6b2ba6,#e43c3e,#e69e0c,#e6dd68,#ededa5,#efefaf,#e6da60,#e68a04,#b43668,#6d2ca4,#c4385a,#f06410,#4126ad,#5a28b4,#7f2f95,#aa3570,#37269c,#6a2ba7,#5b29b3,#5c29b2,#3e26a7,#87308f,#4a26bc,#3b26a3,#5828b6,#c73958,#4926b9,#2f268e,#9b337e,#f16411,#772d9c,#fc4722,#e6b716,#e8e88d,#efefb0,#ecec9e,#e6d24d,#e68703,#a43476,#352698,#c1385c,#f8521b,#3b26a2,#242477,#732d9f,#a53575,#2c2689,#1b1b59,#4626b5,#5f29b0,#20206a,#141442,#332695,#3c26a4,#161648,#0f0f31,#26267f,#2e268d,#131340,#0b0b25,#1f1f68,#292684,#12123c,#09091d,#1c1c5c,#26267f,#111139)"></i><i style="position:absolute;left:160px;top:0;width:5.5px;height:313.25px;background:linear-gradient(#4426b2,#302690,#322693,#3a26a1,#4426b1,#3b26a3,#4426b1,#4126ac,#4426b1,#5327ba,#702ca1,#4c26bf,#4426b0,#953283,#c63958,#722ca0,#4426b2,#f8511c,#ea7407,#b33668,#722da0,#fe4225,#e6c323,#f4f4c6,#ffffff,#fffffd,#eeeeab,#e6b415,#e93d39,#e68703,#ee6a0d,#fa4b1f,#fb4921,#e67e01,#f45c15,#db3b46,#7b2e98,#8c318b,#6b2ba6,#662baa,#4226ad,#5027bd,#4126ad,#4c26be,#3f26a8,#3a26a0,#322693,#4626b5,#3d26a5,#2d268a,#2c2688,#4526b3,#3b26a2,#272681,#2d268b,#4726b5,#3a26a0,#2a2685,#352698,#4c26be,#39269f,#352698,#4426b2,#5e29b1,#38269e,#4a26bb,#712ca1,#812f94,#39269f,#89308d,#cf3a50,#c4385a,#f43e30,#e6b616,#efefb1,#ffffff,#ffffff,#efefad,#e6b515,#ff4027,#692ba8,#b53767,#f33e31,#a13478,#5c29b3,#702ca1,#8b318b,#913286,#913286,#5828b6,#5628b7,#c4385a,#ff4126,#672ba9,#fa4d1e,#e6c830,#f3f3c4,#ffffff,#fefefb,#ededa5,#e6a911,#cc3952,#4c26be,#df3c42,#fb4a20,#4326b0,#38269c,#963282,#d73b49,#3f26a8,#362699,#89308d,#fc4722,#4b26bc,#9c337d,#eb7109,#e6bf19,#e6d657,#e6d758,#e6bc18,#f35d15,#832f91,#4626b4,#953283,#e63d3c,#37269b,#4426b1,#6c2ba5,#7e2f96,#a63574,#bd3860,#983380,#4e27be,#4326b0,#5828b6,#4b26bd,#38269e,#5c29b3,#842f91,#4a26bc,#342696,#a13478,#dc3b45,#7b2e98,#fd4623,#e6b817,#e8e88a,#f0f0b4,#ebeb9c,#e6ce42,#e97805,#a33477,#3a26a1,#b2366a,#c73958,#4326af,#2e268c,#642aac,#732d9f,#352698,#232373,#3e26a8,#4526b2,#282683,#1a1a55,#2c2689,#312691,#1c1c5e,#13133f,#1f1f69,#26267d,#1a1a58,#0f0f34,#181850,#21216f,#1a1a56,#0d0d2d,#141442,#1f1f69,#191954)"></i><i style="position:absolute;left:165px;top:0;width:5.5px;height:313.25px;background:linear-gradient(#3f26a8,#4826b7,#272682,#3a26a1,#4126ad,#4726b6,#322694,#5728b7,#4526b3,#4726b6,#4626b5,#9b337e,#4c26be,#4826b7,#7f2f95,#f8511c,#5f29b0,#4b26bc,#f73f2d,#e6c220,#7f2f95,#d33a4d,#e69107,#e6e683,#ffffff,#ffffff,#f6f6d0,#e6cd3e,#ea7407,#e13c41,#e67f00,#e6b315,#e43c3e,#fd4424,#e67f00,#e68602,#ed3d36,#993380,#913286,#86308f,#9b337e,#8b318b,#4826b7,#4b26bd,#712ca0,#5b29b3,#36269a,#38269d,#5c29b3,#4926b9,#2e268c,#2e268c,#5227bb,#4926ba,#312691,#2a2685,#4f27bd,#6029af,#3d26a6,#292684,#5227bb,#963282,#5a28b4,#2a2685,#5e29b1,#fc4722,#973381,#2c2689,#7b2e99,#e6b516,#fd4623,#7d2e97,#ed6e0b,#e6d24b,#f7f7d5,#ffffff,#fffffd,#e6e47c,#e68804,#b43668,#d03a4f,#e6c220,#a13479,#5427b9,#c63958,#f8521b,#5528b8,#8f3188,#ff4027,#a33477,#4026ab,#fd4523,#e68d05,#a53575,#ef670f,#e6d555,#fafae7,#ffffff,#fbfbea,#e6e277,#e68e06,#a23478,#4326b0,#ea7507,#f16311,#312691,#332695,#d03a4f,#bd3760,#2f268f,#282682,#812f93,#822f93,#37269b,#2a2685,#6c2ca5,#853090,#6d2ca4,#6a2ba6,#732d9f,#8f3188,#732d9f,#2a2686,#4626b5,#e23c40,#c83957,#88308e,#f8511c,#e69b0b,#e6be19,#e6c01b,#e6a00d,#f45c15,#d63b4b,#8d3189,#4c26bf,#fd4424,#f35e14,#de3c43,#4926ba,#aa3571,#e6b415,#e68603,#732d9f,#fb4b20,#e6aa11,#e6e275,#f0f0b5,#efefb0,#e6d657,#e68502,#c73957,#7b2e99,#e6c933,#fd4623,#4826b8,#5728b7,#f55a17,#88308e,#3d26a5,#3f26a8,#a33476,#4826b7,#30268f,#2f268e,#5a29b4,#302691,#222273,#222272,#3a26a1,#222270,#222270,#1e1e63,#292684,#191954,#222270,#1b1b59,#1d1d61,#151546,#222271)"></i><i style="position:absolute;left:170px;top:0;width:5.5px;height:313.25px;background:linear-gradient(#2d268b,#4326b0,#342696,#342696,#312691,#4426b1,#39269e,#4726b7,#362699,#4426b1,#4526b3,#7b2e98,#3e26a8,#4526b3,#6d2ca4,#df3c42,#4d26bf,#4826b7,#c83957,#e68e06,#792e9a,#9c337d,#ee690d,#e6d451,#f9f9e2,#ffffff,#fbfbed,#e6e072,#e69006,#eb3d38,#f65619,#e87904,#9d347c,#ce3a51,#ef670f,#e97606,#fc4822,#e23c3f,#b1366a,#7a2e99,#762d9d,#7b2e99,#4826b8,#4026aa,#4f27bd,#5728b7,#38269e,#2f268e,#4326b0,#4a26bc,#312691,#25257c,#3f26a8,#4b26bc,#322692,#21216d,#3e26a7,#5b29b3,#3a26a1,#1f1f69,#4026aa,#842f91,#4b26bc,#20206b,#4626b4,#db3b46,#7b2e98,#232374,#5a28b4,#e68603,#d23a4e,#853090,#e97805,#e6db63,#f9f9e1,#ffffff,#fcfcef,#e6df6d,#e87a03,#973381,#9c337d,#e69207,#88308e,#4626b5,#953283,#ea3d39,#6029af,#722da0,#c63958,#8d318a,#752d9d,#ca3955,#f25f13,#e93d39,#e6a10e,#eaea97,#ffffff,#ffffff,#f3f3c3,#e6c529,#f8511c,#772d9c,#933284,#fc4821,#f93f2b,#3d26a5,#5628b7,#993380,#933284,#3a26a1,#3c26a4,#5e29b1,#6b2ba6,#3d26a6,#2e268d,#4226ae,#622aae,#4726b5,#282683,#38269d,#772d9c,#652aab,#2a2686,#352698,#b43668,#a13479,#6f2ca3,#e63d3c,#e67e01,#e6a50f,#e6a50f,#e68000,#fe4225,#b93764,#d43a4c,#af366c,#d43a4c,#f73f2e,#b33669,#3b26a2,#8d3189,#e68301,#f45a16,#4f27bd,#ee3e35,#e5980a,#e6dc65,#eeeeac,#f0f0b4,#e6de6b,#e6980a,#d63b4a,#6d2ca4,#e59a0b,#ce3a51,#3c26a4,#5227bb,#ee3e35,#6a2ba7,#312691,#3e26a7,#822f92,#3e26a6,#26267f,#2f268d,#4926b9,#2a2685,#1c1c5c,#232373,#332695,#1d1d5f,#1b1b58,#1f1f69,#25257b,#151545,#1b1b59,#1e1e63,#1b1b5a,#111137,#1b1b5a)"></i><i style="position:absolute;left:175px;top:0;width:5.5px;height:313.25px;background:linear-gradient(#222273,#2a2686,#4926b9,#3e26a8,#2d268b,#2c2688,#4926ba,#4d26bf,#3e26a6,#2d268b,#4b26bd,#802f94,#5d29b2,#2f268e,#5127bc,#e53c3d,#9f347a,#312691,#652aab,#e69609,#f94e1e,#622aae,#f7531b,#e6c529,#f2f2bc,#ffffff,#ffffff,#efefb0,#e6a60f,#d93b48,#d23a4e,#e6c322,#bd3860,#672ba9,#da3b46,#e68803,#f65619,#fd4523,#ff4026,#f03e33,#692ba8,#4226ad,#c53859,#9d337c,#292684,#3c26a4,#832f92,#5828b6,#1f1f68,#3d26a6,#652aab,#3c26a4,#1b1b5a,#4126ab,#5c29b2,#312692,#1b1b5b,#4726b6,#692ba8,#2f268e,#1f1f67,#5a29b4,#8e3189,#362699,#282682,#86308f,#e63d3c,#4326b0,#37269c,#df3c42,#e68a04,#832f92,#ec700a,#e6dc66,#fbfbed,#ffffff,#fafae5,#e6e172,#e68b05,#903187,#4e26be,#fb3f29,#e69408,#4626b5,#3c26a3,#da3b46,#e87a03,#4826b8,#312691,#f8511c,#e6b917,#6a2ba7,#8c318b,#e77d02,#e6d95e,#f8f8da,#ffffff,#fdfdf5,#e6e379,#e68201,#993380,#e77b03,#e68804,#4326b0,#292684,#e13c41,#d83b49,#2e268d,#282682,#933284,#7d2e97,#222271,#292684,#752d9e,#5327ba,#1c1c5e,#2b2688,#732d9f,#4a26bb,#1d1d61,#30268f,#8f3188,#5728b6,#232376,#38269e,#de3c43,#812f94,#3c26a4,#4b26bc,#e68201,#d33a4d,#99337f,#f55917,#e6b114,#e6cf43,#e6d148,#e6b013,#eb7208,#f83f2c,#c4385a,#7f2f95,#e6980a,#ea7407,#f16311,#cd3a52,#e6b817,#e6d85d,#ececa1,#f0f0b4,#ebeb9b,#e6ae12,#ea3d38,#6a2ba7,#b63766,#e68101,#e93d39,#3a26a0,#752d9d,#d33a4d,#782d9b,#2f268e,#4826b8,#752d9e,#4326af,#25257a,#342697,#4426b1,#2d268b,#1c1c5d,#282682,#302690,#1f1f66,#1c1c5c,#232374,#232374,#161648,#1c1c5d,#20206b,#1a1a55,#101036)"></i><i style="position:absolute;left:180px;top:0;width:5.5px;height:313.25px;background:linear-gradient(#1d1d62,#1d1d60,#5728b7,#4726b5,#282683,#1f1f67,#5928b5,#5327ba,#37269c,#21216f,#5c29b2,#7b2e99,#4d26be,#242479,#632aad,#cd3a52,#89308d,#282682,#722ca0,#e77c02,#f13e32,#4d26bf,#fb4b20,#e6bc18,#efefae,#fffffd,#ffffff,#f2f2bf,#e6b616,#ec3d37,#ca3954,#e5a60f,#a83572,#3f26a9,#ac356f,#f16212,#fd4523,#fd4523,#f55818,#fb4a20,#8e3188,#4a26bb,#c0385d,#8c318a,#322693,#352698,#8b318b,#4f27bd,#222270,#37269c,#762d9d,#3b26a2,#17174d,#3b26a2,#702ca2,#312691,#11113a,#4226ad,#782e9b,#2f268d,#111139,#4f27be,#943284,#332695,#17174c,#782d9b,#db3b46,#3f26a9,#222271,#c63958,#e97606,#672baa,#f8511c,#e6cd3d,#f7f7d5,#fdfdf3,#f9f9e3,#e7e786,#e6a20e,#ac356f,#39269e,#f13e32,#e67f00,#3d26a5,#2c268a,#c73957,#ef680e,#38269d,#2b2688,#fd3f28,#e69f0d,#5a28b4,#fc4722,#e6cb39,#f6f6d4,#fffffe,#fdfdf5,#ededa4,#e6b817,#f33e30,#5528b8,#f06510,#eb7308,#262680,#25257d,#cd3a52,#c83956,#1a1a57,#222272,#8f3188,#7d2e97,#141443,#242478,#782d9b,#5c29b2,#151545,#2b2688,#772d9c,#5227bb,#1b1b59,#39269e,#8e3188,#5c29b2,#26267e,#4f27bd,#d13a4f,#7c2e97,#37269b,#8f3188,#ec6f0a,#be385f,#fe4027,#e59a0b,#e6d24d,#e5d95e,#e6d24b,#e6a00d,#ee6a0d,#e03c42,#ae366e,#943283,#e68a04,#f35d15,#f94e1d,#e23c3f,#e6bf1a,#e6de6a,#ededa6,#efefb1,#e9e990,#e6a10e,#d23a4d,#5728b7,#d33a4d,#ef680e,#c83956,#342696,#8a308c,#b73765,#672ba9,#2a2686,#5528b8,#662baa,#3d26a5,#21216f,#3b26a2,#3f26a9,#292684,#1a1a55,#2d268b,#2d268b,#1c1c5c,#1a1a56,#292684,#21216d,#13133e,#1a1a58,#272681,#191952,#0d0d2a)"></i><i style="position:absolute;left:185px;top:0;width:5.5px;height:313.25px;background:linear-gradient(#292684,#1b1b59,#5127bc,#4826b8,#39269f,#1f1f68,#5327ba,#5027bd,#5528b9,#25257b,#5528b8,#6d2ca4,#973381,#2d268b,#5728b6,#ae366d,#f94e1e,#38269d,#5928b5,#f26013,#e6bd19,#4c26bf,#fd4623,#e6b917,#efefaf,#fffffd,#ffffff,#f0f0b4,#e6b817,#f13e32,#822f92,#e6990a,#e69e0c,#4a26bc,#712ca1,#f7541a,#f06510,#fb3f2a,#f65718,#f16311,#f83f2c,#842f91,#7a2e9a,#622aae,#7a2e9a,#3e26a8,#602aaf,#4426b1,#4526b3,#38269e,#612aae,#37269c,#302690,#3a26a1,#632aac,#30268f,#232374,#4326af,#692ba8,#2b2688,#1d1d62,#5b29b3,#762d9d,#292684,#232373,#933285,#913286,#282683,#322693,#fe4324,#d23a4e,#4426b1,#c73957,#e69d0c,#e6e57f,#f2f2bc,#f3f3c4,#e7e788,#e6b114,#df3c42,#7a2e99,#f55a17,#af366c,#312691,#aa3571,#d83b49,#7c2e97,#4326b0,#f55818,#de3c43,#a73573,#f45a16,#e6c832,#f4f4c9,#ffffff,#fefef8,#ececa1,#e6b315,#f33e31,#6f2ca3,#f55917,#983380,#5027bd,#4526b4,#a13479,#6d2ca4,#4b26bc,#352698,#5b29b3,#5a28b4,#4926b9,#2c2689,#4126ac,#5427b9,#4726b6,#2e268c,#3f26a8,#5427b9,#4626b4,#3c26a3,#4d26bf,#5828b6,#4526b4,#5e29b0,#843091,#602aaf,#4826b8,#b43668,#ea3d38,#aa3570,#fa4c1f,#e69609,#e6ca37,#e6de6b,#e6d24c,#e5a710,#f65619,#fa3f2b,#6c2ba5,#eb3d38,#f03e34,#f26112,#87308e,#af366d,#f7551a,#e6c01b,#e7e786,#f1f1b7,#ededa6,#e6d758,#e77b03,#a03479,#c0385e,#f94f1d,#5a28b4,#282683,#732da0,#a93571,#3d26a5,#1c1c5e,#4626b5,#642aac,#2b2687,#141442,#332695,#3f26a9,#1d1d62,#0e0e2e,#25257d,#2f268f,#17174b,#0a0a21,#1f1f66,#2a2686,#141442,#070718,#1b1b5b,#282682,#12123c,#050512)"></i><i style="position:absolute;left:190px;top:0;width:5.5px;height:313.25px;background:linear-gradient(#2c2689,#272681,#4226ae,#3c26a4,#3a26a0,#2a2685,#4326af,#4426b1,#5327ba,#2d268b,#4326b0,#5e29b1,#933285,#332695,#4426b0,#9c337d,#fc4722,#3c26a4,#4426b2,#f65519,#e6b214,#5327ba,#fb3f29,#e6b716,#efefb0,#ffffff,#ffffff,#efefb1,#e6b917,#f43e30,#712ca1,#e68e06,#e69408,#5027bd,#5427b9,#fd3f28,#fb4920,#d13a4e,#fe4324,#f06510,#f55818,#d83b49,#973381,#6d2ca4,#762d9c,#5127bb,#4a26bb,#4026ab,#4526b3,#4326af,#4726b6,#342697,#322694,#3f26a9,#4726b6,#2d268b,#272681,#4526b2,#4a26bb,#292684,#232376,#5928b5,#5728b7,#2d268c,#38269d,#8d3189,#762d9c,#5c29b2,#4626b5,#f83f2c,#a83572,#3a26a0,#88308e,#f06510,#e6c425,#e6e276,#e7e789,#e6d655,#e59508,#da3b47,#782d9b,#f94f1d,#782e9b,#5d29b2,#a43476,#c1385d,#5327b9,#a93572,#f8511c,#b53767,#f7551a,#e6c62d,#f4f4c7,#ffffff,#fefefc,#ebeb9a,#e6c11e,#f55917,#7d2e97,#c83956,#f8521b,#692ba7,#4026ab,#712ca1,#9d337c,#4c26be,#3d26a5,#4526b3,#5c29b2,#4526b3,#3b26a2,#362699,#4326b0,#4426b0,#3b26a2,#332694,#4126ad,#4426b1,#3d26a6,#3d26a6,#5027bc,#4626b4,#4526b2,#5d29b2,#832f92,#4a26bb,#5f29b0,#ad356e,#e33c3f,#b33668,#f06510,#e6b515,#e6d24c,#e6db63,#e6c62c,#e67e01,#d73b4a,#c53959,#87308f,#e13c41,#e83d3a,#f8511c,#762d9d,#c1385d,#ed6d0b,#e6c932,#eaea98,#f1f1b7,#ebeb9b,#e6c934,#f26113,#843091,#ba3762,#fe4027,#4126ad,#292683,#712ca0,#913286,#312691,#1e1e65,#4626b5,#5227ba,#232376,#16164b,#332695,#38269d,#191952,#101036,#25257d,#292684,#141442,#0e0e2d,#1f1f67,#232374,#12123c,#0c0c29,#1b1b5c,#20206a,#111139,#0c0c28)"></i><i style="position:absolute;left:195px;top:0;width:5.5px;height:313.25px;background:linear-gradient(#342697,#4726b6,#2d268b,#1f1f66,#3c26a5,#4b26bc,#2c2689,#272680,#4c26be,#5828b6,#2b2687,#342697,#7d2e97,#742d9e,#2a2686,#4a26bb,#dd3c44,#a73573,#2a2686,#8a308c,#e68d06,#fc4622,#eb3d38,#e6b716,#f0f0b3,#ffffff,#fffffe,#f0f0b4,#e6b917,#fa3f2b,#5c29b3,#d93b47,#e6a10e,#b33668,#4a26bc,#d13a4f,#fe4125,#89308c,#8c318b,#ea3d39,#ef670f,#f8521c,#ec3d37,#c93956,#ae366d,#622aad,#682ba8,#8f3188,#4f27bd,#4626b5,#4426b0,#4f27be,#4b26bd,#4b26bd,#342697,#39269e,#5b29b3,#612aae,#2b2687,#2d268b,#86308f,#8b318b,#362699,#6b2ba6,#e43c3e,#ef670f,#e87904,#e97606,#f45b16,#cb3954,#5428b9,#312691,#a33477,#832f92,#782e9b,#9e347b,#c73958,#c4385a,#6e2ca4,#4026ab,#7f2f95,#bf385e,#6e2ca3,#4426b0,#b83765,#f06410,#c83956,#632aac,#e33c3e,#e69e0c,#e6e172,#f9f9e0,#ffffff,#fbfbeb,#e6dd6a,#e77d02,#f53f2f,#fb4921,#ce3a51,#4526b3,#993380,#953283,#712ca1,#38269d,#6d2ca4,#5928b5,#4426b1,#352698,#5428b9,#4126ac,#342696,#3b26a1,#4b26bc,#37269c,#2f268e,#4826b7,#4926b9,#332695,#38269e,#702ca2,#4a26bb,#332695,#5027bc,#be385f,#5127bc,#38269e,#983381,#ee6b0c,#632aad,#b43668,#ec6e0a,#e6be19,#e6d554,#e6d95f,#e6c324,#e97805,#ca3955,#cb3954,#fe4325,#f7551a,#6d2ca4,#ee6b0c,#e13c41,#ed3d36,#eb7208,#e6cb3a,#ededa4,#f2f2bf,#e9e993,#e6c01b,#f7541a,#88308d,#903187,#ec6f0a,#632aad,#3f26a9,#652aab,#ba3762,#3c26a3,#332695,#4426b1,#652aab,#292684,#282682,#332694,#3e26a7,#1c1c5d,#1d1d60,#25257c,#2b2688,#141443,#1c1c5c,#20206c,#1f1f67,#101037,#1c1c5c,#1e1e63,#17174c,#0f0f32,#1c1c5d)"></i><i style="position:absolute;left:200px;top:0;width:5.5px;height:313.25px;background:linear-gradient(#4226af,#4a26ba,#1d1d61,#1a1a57,#4926ba,#4d26bf,#1c1c5d,#20206b,#612aae,#5b29b3,#1b1b5a,#2b2687,#8f3187,#772d9b,#1a1a58,#3c26a4,#f33e31,#ae366d,#1b1b59,#622aad,#e69c0b,#fa4c1f,#c0385d,#e59b0b,#eaea97,#fefefa,#ffffff,#f6f6d0,#e6cd3f,#f65718,#6e2ca3,#b93763,#e6b114,#b73765,#4826b7,#cb3953,#f8521b,#752d9d,#5127bb,#b53767,#f06510,#f9501d,#fd4028,#e13c40,#ce3a52,#612aae,#692ba8,#983381,#6e2ca3,#4126ab,#4326b0,#622aae,#772d9b,#712ca1,#762d9c,#732d9f,#712ca1,#5a28b4,#262680,#352698,#983380,#89308d,#332694,#742d9f,#f63f2e,#ef690e,#e77d02,#e77c02,#f06510,#cb3954,#5127bc,#37269b,#b83765,#7f2f95,#1d1d61,#332694,#8b318b,#812f93,#242478,#352697,#8e3188,#c1385d,#2f268e,#39269f,#ca3955,#ee6a0d,#3e26a7,#ab3570,#e69408,#e6e47a,#fbfbec,#ffffff,#f9f9e2,#e6dc67,#e68703,#b83764,#fd4424,#fa4d1e,#2b2687,#3a26a1,#a73573,#943284,#1f1f67,#3c26a3,#772d9c,#5227bb,#1b1b59,#3f26a9,#5e29b1,#3a26a0,#1e1e63,#4626b4,#5127bc,#2d268a,#272681,#5828b6,#4c26bf,#272681,#37269b,#812f93,#4d26bf,#282682,#5327ba,#d33a4d,#5528b9,#302690,#a03479,#e87904,#662aaa,#b53667,#eb7108,#e6c221,#e6d554,#e6d95e,#e6c222,#e87a04,#c53859,#ce3a52,#fb4b20,#f16311,#6e2ca3,#eb7208,#ed3d36,#f73f2d,#ef680e,#e6c72e,#ececa1,#f3f3c5,#eaea97,#e6c324,#f35e14,#9f347a,#913286,#e97705,#6a2ba7,#4e27be,#632aad,#c1385c,#3f26a8,#3f26a9,#4226ae,#682ba8,#2c2688,#312692,#312691,#3f26a9,#1e1e64,#232376,#242476,#2c2689,#17174b,#222271,#1e1e64,#1f1f66,#141442,#222271,#1a1a58,#161648,#13133f,#222271)"></i><i style="position:absolute;left:205px;top:0;width:5.5px;height:313.25px;background:linear-gradient(#4e27be,#332694,#13133f,#332695,#5928b5,#3b26a2,#131340,#352698,#712ca1,#4a26ba,#141443,#38269e,#a33477,#762d9d,#151547,#3f26a8,#fb4a20,#c83957,#17174c,#4c26be,#e6b515,#ec700a,#6a2ba7,#f26112,#e6d24c,#f6f6d2,#ffffff,#fefef8,#e8e88d,#e68f06,#ac356f,#963382,#e6ca37,#e33c3f,#332695,#9a337f,#ee690d,#822f92,#642aac,#e23c40,#e77c02,#fa4d1e,#f93f2b,#ff4026,#fd4523,#4926b9,#4126ad,#d93b47,#f8501c,#332695,#5928b5,#e53d3d,#e87904,#e5a40f,#e6b415,#e6a710,#ee6a0d,#a43476,#4526b3,#eb3d37,#de3c43,#202069,#26267f,#993380,#832f92,#4e27be,#6d2ca4,#913286,#672ba9,#342696,#38269d,#822f93,#4d26be,#1e1e63,#4826b7,#b0366c,#5a29b4,#20206a,#812f94,#f94e1e,#822f93,#26267e,#f63f2e,#e6b114,#d53b4b,#5f29b0,#fc4722,#e6c01a,#eaea95,#fdfdf4,#ffffff,#f6f6d2,#e6c934,#fb4b20,#ea7407,#e68f06,#b53767,#242478,#cd3952,#e83d3a,#692ba7,#1b1b5b,#7a2e99,#903187,#4526b3,#16164b,#4c26bf,#6b2ba6,#3926a0,#141443,#3f26a9,#5e29b1,#352698,#141442,#3b26a2,#632aad,#36269a,#151545,#3e26a6,#7b2e98,#3d26a6,#18184f,#4826b9,#b53667,#4b26be,#1e1e63,#702ca2,#f55917,#772d9b,#99337f,#eb7308,#e6c221,#e6d24a,#e6d450,#e6c932,#e68502,#b0366c,#6e2ca3,#e03c41,#f16311,#4b26bc,#973381,#f45a16,#eb3d38,#fe4225,#e6b114,#e7e789,#f3f3c4,#ececa1,#e6d14a,#e68101,#c4385a,#3a26a1,#ae366d,#f8521b,#6e2ca4,#2b2687,#612aae,#a13479,#4526b3,#20206b,#3d26a6,#5b29b3,#322694,#18184f,#2b2688,#3b26a3,#232374,#11113a,#1f1f66,#2c268a,#1f1f67,#0e0e30,#17174c,#25257c,#1d1d61,#0c0c2a,#12123d,#222270,#1c1c5e)"></i><i style="position:absolute;left:210px;top:0;width:5.5px;height:313.25px;background:linear-gradient(#5b29b3,#2a2686,#101035,#4526b3,#652aab,#37269b,#131340,#4726b6,#7f2f95,#4b26bc,#18184f,#4a26bc,#bc3761,#812f93,#1e1e64,#5427b9,#f26112,#e33c3e,#272680,#6c2ca5,#e6cd3e,#e68a04,#4426b1,#ef3e34,#e6a710,#e8e88d,#fdfdf4,#ffffff,#f6f6d3,#e6c830,#f9501d,#c1385d,#e6e070,#fe4324,#3f26a9,#c63958,#e68000,#aa3571,#9c337d,#f8501c,#e68904,#fc4821,#e63d3c,#ff4126,#fc4821,#4326b0,#4a26bb,#fd4523,#f16411,#4026aa,#b0366b,#e68302,#e6bb18,#e6c933,#e6c935,#e6bd19,#e87904,#ba3763,#4e27be,#f8501c,#f63f2e,#1b1b5a,#2f268e,#c2385c,#89308d,#12123a,#332695,#9a337e,#5427b9,#0d0d2c,#3e26a7,#a13478,#4226ae,#0d0d2d,#5728b7,#d83b48,#3f26a8,#12123b,#983380,#ee6b0c,#4426b2,#191955,#f7541a,#e6cd3e,#5628b7,#a43476,#e69207,#e9e992,#fcfcf1,#ffffff,#f7f7d6,#e6d452,#f16311,#772d9c,#e69308,#e6b014,#352698,#151546,#f53e2f,#fb4a20,#292684,#111139,#953283,#ab3570,#232376,#0f0f32,#682ba9,#7e2f96,#222272,#0e0e30,#5027bc,#6e2ca3,#25257c,#0f0f33,#4b26bd,#722da0,#2d268a,#13133e,#5227bb,#8c318a,#3a26a0,#191952,#6b2ba6,#d13a4e,#4d26bf,#222273,#9a337e,#eb7109,#832f92,#c3385b,#e69006,#e6ca36,#e6d24c,#e6d34d,#e6c528,#e97605,#9b337e,#752d9d,#fb4a20,#e77c02,#5c29b2,#b0366b,#e87a03,#fc4622,#f35f14,#e6c52a,#ededa6,#f4f4c7,#e9e991,#e6cb39,#e68502,#c83956,#4926b9,#af366c,#eb7109,#732d9f,#352699,#612aae,#c83956,#4526b4,#272680,#3d26a5,#722da0,#312692,#1c1c5e,#2b2687,#4426b0,#222270,#141444,#1f1f66,#342696,#1c1c5e,#0f0f32,#181851,#2c2689,#1a1a56,#0b0b24,#151546,#292684,#181851)"></i><i style="position:absolute;left:215px;top:0;width:5.5px;height:313.25px;background:linear-gradient(#4e27be,#1f1f68,#191952,#4826b7,#4c26bf,#282682,#20206b,#4926ba,#4b26bd,#37269c,#2b2687,#4b26bd,#4b26bd,#5127bc,#3a26a0,#4d26be,#4f27be,#953283,#5127bc,#5327ba,#6029af,#f9501d,#8a318c,#923285,#f45b16,#e6ca35,#f5f5cb,#ffffff,#fffffd,#e9e98f,#e59b0b,#fe4125,#88308d,#f26013,#812f94,#913286,#cb3953,#f55917,#f7541a,#f7541a,#ff4026,#e53c3d,#d73b49,#9f347a,#4e26be,#973381,#f45c15,#a73573,#8c318b,#fb4a20,#e6980a,#e5d046,#e5d85b,#e6d34f,#e6b816,#ec7009,#923285,#b0366c,#fa4b1f,#832f92,#3a26a0,#682ba8,#99337f,#6e2ca3,#342696,#4726b5,#682ba9,#682ba8,#30268f,#4426b1,#612aae,#692ba7,#2d268b,#5f29b0,#822f93,#722da0,#2c268a,#ac356f,#d33a4d,#86308f,#2f268e,#ef690e,#e97805,#b33669,#722ca0,#f8521b,#e6cd3e,#f8f8dd,#ffffff,#fcfcf1,#e8e88d,#e6a20e,#b33669,#e69007,#fc4722,#8b318b,#312691,#e33c3e,#963382,#6d2ca4,#292684,#7e2e96,#642aac,#5f29b0,#232374,#4826b8,#4d26bf,#5828b6,#1f1f67,#37269b,#4b26bd,#5427b9,#1d1d61,#322693,#5327ba,#5227bb,#1f1f67,#3d26a6,#6a2ba7,#5027bc,#25257c,#5f29af,#923285,#5227bb,#312692,#b43668,#e73d3c,#672ba9,#a63574,#f35d15,#e6bc18,#e5d656,#e5da62,#e6c52a,#e68d06,#f83f2c,#e03c41,#f03e34,#bd3760,#b93764,#e77b03,#a13478,#e33c3e,#e97705,#e6c426,#ebeb9c,#f2f2c0,#ebeb9c,#e6c62b,#f16311,#a83573,#f83f2d,#f06510,#3f26a9,#642aab,#973381,#a93572,#2e268d,#4c26be,#5c29b2,#5a28b4,#222271,#3c26a3,#3d26a6,#39269f,#191952,#2c2689,#2b2688,#272681,#131340,#272680,#222272,#1b1b59,#13133e,#262680,#1c1c5f,#12123d,#13133f,#262680,#191953)"></i><i style="position:absolute;left:220px;top:0;width:5.5px;height:313.25px;background:linear-gradient(#4826b8,#282683,#1e1e63,#3e26a7,#4826b8,#312692,#26267e,#4026aa,#4826b7,#4226ad,#322693,#4226ae,#4926b9,#6c2ba5,#4326b0,#4526b3,#4f27bd,#c63959,#712ca1,#4b26bc,#692ba7,#e77b03,#cb3954,#682ba8,#d53a4b,#e69b0b,#e9e991,#ffffff,#ffffff,#f4f4c8,#e6ca36,#ec6f0a,#a43476,#e68502,#d53b4b,#963282,#ee3e35,#e87a03,#ed6c0c,#fe4325,#c73957,#bf385e,#f13e33,#a33477,#4a26bb,#ac356f,#e68a04,#973381,#a53575,#f0660f,#e6b817,#e6d759,#e6d554,#e6c01b,#e69408,#fa4c1f,#792e9a,#e43c3e,#ea7506,#632aad,#37269b,#853090,#c53959,#5528b8,#352698,#5828b6,#7e2e96,#5227ba,#332695,#5227ba,#742d9e,#5628b7,#322693,#7c2e98,#9d347c,#602aaf,#322693,#e23c40,#fd4523,#762d9d,#36269a,#e6990a,#e6a710,#9e347b,#8f3188,#ec7009,#e6d657,#f7f7d7,#fefefc,#fbfbea,#e6e680,#e6990a,#ae366e,#e6c426,#ed6c0c,#7b2e98,#3b26a1,#f65519,#b63766,#5e29b0,#322692,#a13479,#6c2ca5,#5127bc,#2c2688,#5c29b2,#4b26bd,#4c26be,#282683,#4026aa,#4726b7,#4a26bc,#282682,#3b26a2,#4e27be,#4a26bb,#2c2689,#4726b7,#6e2ca4,#4a26bb,#37269b,#7c2e98,#a63574,#4b26bd,#4b26bd,#ea3d39,#fa4c1f,#953283,#f55a17,#e6a810,#e6d149,#e5d95e,#e6d554,#e6a50f,#f7551a,#c53859,#f8521b,#f35e14,#dd3c44,#d93b47,#e6b214,#d43a4c,#ee6a0d,#e6c11f,#e7e789,#f2f2bd,#eeeeab,#e6d149,#e87a03,#b43668,#672ba9,#f25f13,#e69509,#4326b0,#5528b9,#be385f,#de3c43,#30268f,#4426b2,#712ca1,#752d9d,#222272,#362699,#4526b3,#4326af,#181851,#282682,#312692,#2e268c,#13133e,#232373,#26267f,#202069,#11113a,#222272,#1f1f68,#161649,#11113a,#222271,#1b1b5b)"></i><i style="position:absolute;left:225px;top:0;width:5.5px;height:313.25px;background:linear-gradient(#3e26a8,#3f26a8,#25257a,#25257c,#3f26a9,#3e26a7,#2d268a,#2d268b,#4026ab,#3e26a7,#3c26a3,#39269f,#4126ac,#3f26a9,#5b29b4,#4c26be,#4226ae,#4426b0,#a63574,#812f94,#4426b1,#5227ba,#f26013,#de3c44,#ac356f,#e68301,#e6de6d,#fbfbea,#ffffff,#f9f9e3,#e6d657,#ec7009,#a03479,#772d9c,#e97605,#ad356e,#662aaa,#86308f,#ea3d39,#8b318b,#c63958,#f73f2e,#fc4821,#d13a4e,#ba3762,#a03479,#622aad,#742d9e,#a63574,#e53c3d,#993380,#f8501c,#e6a30e,#e6c222,#e6c427,#e6c11e,#e6ac12,#f16311,#9b337d,#662aaa,#8f3188,#e33c3e,#3f26a8,#4826b7,#682ba8,#802f94,#2d268a,#4126ac,#5928b5,#4c26bf,#242478,#4526b3,#5d29b1,#3d26a6,#25257a,#5d29b2,#742d9e,#39269f,#2c268a,#973381,#a33476,#4126ac,#3b26a2,#fa4c1f,#fe4324,#772d9c,#f45a16,#e6cb38,#f0f0b3,#f5f5cc,#f0f0b4,#e6d34e,#e87804,#a43476,#4426b2,#ef680e,#bf385e,#342697,#352699,#c1385d,#762d9d,#2b2687,#2e268c,#7a2e99,#5427b9,#25257d,#30268f,#5a29b4,#4926b9,#232374,#3b26a3,#5327ba,#4826b8,#232375,#5728b6,#632aac,#4f27bd,#282682,#9d347c,#8a308c,#6b2ba6,#352698,#f55818,#d83b48,#a03479,#4926b9,#c73957,#e97606,#e6b716,#e6d046,#e6d85b,#e6cb3a,#e68b04,#ca3954,#e68a04,#c3385b,#933285,#4a26bc,#e68101,#cd3952,#8a308c,#eb3d38,#e6b013,#e6e47b,#f0f0b3,#ededa6,#e6dc65,#e69509,#c73957,#5c29b2,#f26013,#86308f,#4826b8,#3f26aa,#ad366e,#5e29b0,#3c26a4,#302690,#622aae,#4226ae,#2e268c,#242477,#3e26a7,#322693,#21216f,#1a1a57,#2c2688,#232376,#181850,#131341,#20206b,#20206c,#16164a,#0f0f33,#1a1a57,#20206a,#151547,#0d0d2b,#17174e,#1f1f69)"></i><i style="position:absolute;left:230px;top:0;width:5.5px;height:313.25px;background:linear-gradient(#37269b,#5d29b2,#2d268b,#21216f,#39269f,#5c29b2,#37269b,#2e268d,#3b26a2,#5c29b3,#4926ba,#4026ab,#3d26a6,#5d29b1,#812f94,#662aaa,#4026aa,#632aac,#f03e33,#b1366a,#4326af,#762d9d,#e6a40f,#f35f14,#b0366b,#e68e06,#e6e070,#fbfbeb,#ffffff,#fbfbe9,#e6d758,#e97705,#b23669,#9c337d,#e6bd19,#f03e34,#702ca2,#89308d,#f55818,#b63766,#ee3e35,#f06510,#ec7009,#fd3f28,#d83b49,#f43e30,#89308d,#6f2ca3,#8b318b,#ed6c0c,#943284,#8a318c,#f35d15,#e6b013,#e6d24c,#e6db64,#e5d95e,#e6b214,#fc4821,#712ca1,#a63574,#ee6a0d,#4b26bd,#292684,#832f92,#c0385d,#322693,#312692,#792e9b,#772d9c,#222270,#4226ae,#812f93,#5027bc,#1a1a55,#6e2ca3,#a23478,#4326b0,#1c1c5d,#cc3953,#ed3e36,#3d26a5,#292684,#e68402,#e68000,#4826b8,#993380,#e77c02,#e6d75a,#ececa1,#ededa7,#e6df6e,#e6ae13,#e63d3d,#4826b8,#e5a810,#fa4d1f,#3e26a7,#3f26a8,#fe4225,#ad356e,#3d26a5,#2f268e,#963382,#7f2f95,#2d268b,#342696,#682ba8,#6c2ca5,#2b2688,#4526b3,#5e29b1,#662aaa,#2c2689,#782e9b,#762d9d,#662baa,#322693,#e23c40,#b2366a,#6d2ca4,#4126ac,#e6980a,#f65519,#7c2e97,#642aab,#fd4424,#e6a30e,#e6d149,#e6d34f,#e5d554,#e6af13,#f7531b,#782e9b,#e6cd3e,#fd4424,#672ba9,#6a2ba7,#e6c62d,#fa4d1e,#a53575,#f25f13,#e6ce42,#ebeb9b,#f2f2bf,#ececa0,#e6d24c,#e87904,#b0366c,#822f93,#e6a10e,#a63574,#4f27bd,#4d26bf,#f23e32,#702ca2,#4926ba,#39269f,#822f92,#4826b8,#3a26a1,#2a2686,#4826b8,#36269b,#2c2689,#1f1f66,#322694,#272681,#20206a,#16164b,#232376,#242479,#1f1f68,#111137,#191954,#242478,#1e1e65,#0c0c29,#131340,#242479)"></i><i style="position:absolute;left:235px;top:0;width:5.5px;height:313.25px;background:linear-gradient(#39269e,#6029af,#292684,#0c0c29,#3f26a9,#612aae,#2b2688,#12123c,#4a26bc,#662baa,#312692,#1b1b5a,#6f2ca3,#722ca0,#3e26a7,#292684,#b43668,#8a318c,#5928b5,#3e26a8,#f26112,#cd3952,#963282,#5828b6,#f9501d,#e6ca37,#f3f3c1,#fffffe,#ffffff,#eeeea9,#e6a20e,#c83957,#ed6d0b,#f33e31,#712ca1,#4b26bc,#dd3c44,#bd3760,#5f29b0,#8c318a,#fd4523,#f55818,#f9501d,#fd4523,#e63d3c,#9e347b,#822f93,#722da0,#772d9c,#913286,#d73b49,#b1366b,#b63766,#ec6e0a,#e6b917,#e6d758,#e6df6f,#e6d14a,#e69006,#d63b4b,#863090,#832f92,#f73f2d,#772d9c,#5828b6,#5e29b1,#87308e,#4426b1,#5828b6,#4a26bc,#4b26bc,#332694,#5a29b4,#4526b3,#352698,#2d268b,#5e29b1,#4426b2,#272681,#322692,#642aac,#4926ba,#20206b,#4026aa,#702ca2,#622aad,#312692,#682ba8,#e33c3f,#fd4424,#fe4324,#d83b48,#af366d,#ff4126,#362699,#4726b6,#bd3760,#fa4b1f,#e67e01,#e59508,#e69107,#f94e1d,#8f3188,#4826b7,#d93b48,#de3c43,#222272,#37269b,#983380,#7b2e99,#1b1b5a,#3d26a5,#7f2f95,#4926b9,#1f1f66,#4a26ba,#792e9a,#39269e,#2a2686,#712ca1,#843091,#312692,#3d26a5,#bd3860,#a93572,#4926b9,#af366d,#e68101,#e6ca37,#e6d450,#e6d149,#e6c221,#e68000,#aa3571,#5f29b0,#ec3d37,#d23a4e,#632aac,#5928b5,#fe4027,#f94f1d,#a43476,#e68100,#e6e173,#fafae4,#fafae8,#f2f2c0,#e6d148,#ec6e0a,#832f92,#6a2ba7,#d53a4b,#f65619,#6c2ba5,#4226af,#86308f,#b33669,#3e26a7,#312691,#5327ba,#692ba7,#2a2685,#232376,#3b26a3,#4126ac,#1c1c5d,#1a1a56,#2a2686,#2e268d,#13133e,#131340,#26267e,#272680,#0d0d2b,#0f0f33,#242479,#222272,#09091f,#0d0d2c,#242478)"></i><i style="position:absolute;left:240px;top:0;width:5.5px;height:313.25px;background:linear-gradient(#3b26a3,#5027bd,#272681,#151545,#4526b3,#5528b8,#26267e,#1a1a58,#6029af,#612aae,#26267d,#25257c,#983380,#792e9a,#262680,#37269b,#fc4821,#a63574,#292685,#5928b5,#e6b516,#ff4026,#4426b1,#c93955,#e6aa11,#eeeea8,#fefef8,#fffffe,#f7f7d6,#e6d657,#f06410,#ac356f,#e6c01b,#d93b47,#342696,#792e9a,#f35d15,#c63958,#5628b7,#a43476,#f8511c,#fa4b1f,#f65519,#f9501d,#ef3e34,#8e3188,#c1385d,#b1366a,#8e3189,#993380,#ec6f0a,#f94f1d,#a93572,#f26013,#e6ae12,#e6d553,#e6df6e,#e6d759,#e6b214,#f55817,#a23478,#6b2ba6,#e68a04,#bd3760,#4b26bc,#4d26bf,#db3b46,#642aac,#4a26bc,#4526b2,#792e9a,#3f26a9,#4b26bd,#4226af,#4626b5,#312691,#4d26bf,#4626b5,#342696,#2a2686,#5427b9,#5828b6,#2b2688,#292683,#642aac,#86308f,#2d268b,#292685,#87308f,#e53c3d,#37269b,#2c2689,#d93b48,#e68d05,#4726b6,#5828b6,#eb3d38,#e67e01,#e6b014,#e6c11d,#e6bc18,#e68101,#d33a4d,#622aae,#f55917,#eb7208,#2d268c,#3a26a0,#c0385d,#bc3761,#2f268d,#5828b5,#89308d,#6c2ca5,#322693,#652aab,#762d9c,#4926b9,#342697,#a03479,#802f95,#4526b3,#4d26bf,#f9501d,#ae366e,#5528b8,#7f2f95,#f35d15,#e6bb18,#e6d046,#e6cf45,#e6c324,#e6aa11,#fa4b1f,#832f92,#f8521b,#f7551a,#a43476,#4c26be,#d13a4f,#e59509,#fc4622,#fb3f2a,#e6c323,#f1f1b9,#fdfdf5,#ffffff,#f6f6d3,#e5cc3c,#fa4c1f,#612aae,#a93571,#e6a00d,#aa3571,#1d1d61,#742d9f,#fd4028,#5728b7,#191952,#4a26bb,#8d3189,#37269b,#141442,#38269d,#4e26be,#25257a,#0f0f32,#282683,#36269b,#191952,#0d0d2c,#242476,#2a2686,#11113a,#0d0d2c,#222270,#232373,#0d0d2b,#0e0e2e,#21216f)"></i><i style="position:absolute;left:245px;top:0;width:5.5px;height:313.25px;background:linear-gradient(#3a26a1,#262680,#2b2687,#3c26a4,#3d26a5,#272680,#332695,#4426b0,#4226ae,#282682,#4326b0,#5528b8,#4e27be,#2a2686,#6d2ca4,#802f94,#762d9d,#302690,#c83956,#d23a4e,#bf385e,#832f92,#f55817,#e6ba17,#f1f1b7,#fffffe,#fffffd,#f0f0b3,#e6bc18,#f23e32,#f93f2b,#c63958,#c1385c,#5427b9,#9e347b,#8c318a,#8f3188,#9e347b,#e23c3f,#fb3f2a,#ef3e34,#d73b49,#ad366e,#ad366e,#923286,#672ba9,#5227bb,#c63958,#8d3189,#8e3188,#7d2e97,#fd3f28,#e68803,#e6c528,#e5da60,#e6db64,#e6c932,#e77d02,#b83765,#ce3a51,#8a308c,#6e2ca4,#4b26bc,#7d2e97,#5628b8,#4226ae,#3c26a4,#5427b9,#4026ab,#322693,#352698,#4526b2,#37269b,#292684,#322693,#3f26a9,#312692,#26267e,#312691,#3d26a5,#2f268e,#272680,#312692,#3c26a4,#2e268d,#2b2688,#332695,#3c26a4,#302690,#352698,#37269b,#3d26a5,#37269c,#4626b4,#3e26a8,#4026aa,#4726b6,#7c2e98,#c1385c,#e03c42,#be385f,#7f2f95,#7c2e97,#5327ba,#3e26a7,#4126ad,#d83b49,#782d9b,#4426b1,#8f3187,#fb4b20,#e67f00,#e68c05,#e97605,#fd4424,#953283,#4626b4,#5327ba,#ea3d38,#672ba9,#4026ab,#4926b9,#a23477,#732da0,#5a28b4,#5b29b3,#a93572,#af366d,#a73574,#f55818,#e5aa11,#e6c529,#e6c62a,#e6ba17,#e69308,#f8511c,#973381,#b63766,#953283,#cb3954,#8d318a,#fd4028,#903287,#e23c3f,#e69007,#e6e57d,#fdfdf5,#ffffff,#f7f7d9,#e6d24c,#e68000,#c3385b,#782e9b,#f23e32,#5628b7,#3b26a1,#4926ba,#853090,#3e26a8,#2f268d,#362699,#4a26bb,#2e268d,#232375,#272681,#342696,#21216f,#191953,#1c1c5e,#25257c,#1c1c5d,#17174c,#16164a,#1d1d5f,#1b1b5a,#161649,#13133e,#181850,#1b1b59,#151548)"></i><i style="position:absolute;left:250px;top:0;width:5.5px;height:313.25px;background:linear-gradient(#36269a,#0e0e2d,#342696,#632aac,#352698,#0f0f33,#4326af,#762d9d,#342696,#131341,#692ba7,#9a337f,#332695,#1b1b5b,#be385f,#ea3d39,#352698,#282683,#ea7506,#e68000,#5b29b3,#e93d39,#e6b716,#f2f2bd,#ffffff,#ffffff,#f0f0b2,#e6c221,#fa4d1e,#722da0,#e69c0b,#f7531b,#a73574,#822f93,#fc3f29,#d93b48,#a53475,#e33c3e,#ef690e,#ec6f0a,#fb3f2a,#9d347c,#8f3188,#df3c42,#eb3d38,#5027bc,#5e29b1,#eb7109,#e83d3b,#5828b6,#e23c3f,#e5990a,#e5cf43,#e6da61,#e6da60,#e6c62c,#eb7208,#9a337f,#782d9b,#e87904,#772d9c,#161649,#5b29b3,#d83b49,#4326af,#141442,#4c26be,#89308d,#2f268d,#141442,#4926b9,#642aab,#222272,#151545,#4826b7,#5027bc,#1b1b59,#161649,#4826b8,#4926ba,#17174b,#17174d,#4a26bb,#4626b5,#141443,#191953,#4c26bf,#4526b3,#13133e,#1b1b5b,#5628b7,#4626b5,#12123c,#1f1f68,#6a2ba7,#4a26bb,#13133e,#262680,#903187,#5b29b3,#191952,#332695,#e43c3e,#7e2e96,#17174e,#4926b9,#e68603,#c1385c,#5a28b4,#e13c41,#e69007,#e6bb18,#e6c11e,#e6b315,#e68803,#e43c3e,#622aae,#843091,#e68e06,#9d337c,#5628b8,#5928b5,#f33e31,#b43668,#903187,#4b26bc,#a63574,#f65619,#ff4126,#953283,#f16311,#e6a40f,#e6cb3a,#e6dd6a,#e5d85b,#e6a910,#fa4b1f,#fa4d1e,#b23669,#ea7407,#d93b47,#e69609,#fa3f2b,#da3b47,#d63b4a,#e69207,#e8e88d,#fffffe,#ffffff,#f9f9df,#e6da60,#eb7109,#9d337c,#e69a0b,#e83d3a,#4226ad,#5d29b1,#ee3e35,#89308d,#2e268d,#3e26a7,#832f92,#4e27be,#20206c,#2d268b,#4926b9,#37269b,#161649,#21216e,#342697,#2b2687,#111139,#181851,#292683,#26267e,#0e0e30,#12123c,#222273,#232376,#0d0d2b)"></i><i style="position:absolute;left:255px;top:0;width:5.5px;height:313.25px;background:linear-gradient(#1c1c5e,#272680,#4626b4,#3f26a9,#1c1c5c,#302690,#4e27be,#4126ac,#1b1b5b,#4026ab,#692ba7,#4626b5,#1c1c5e,#682ba8,#973381,#5728b7,#20206a,#c1385c,#f73f2d,#7e2e96,#792e9a,#ef670f,#e6d759,#f9f9e1,#ffffff,#fbfbec,#e6e47c,#e68c05,#a23477,#f83f2c,#ee3e35,#842f91,#4826b8,#923285,#a73573,#963382,#ce3a51,#f8501c,#f35f14,#fd4523,#b43667,#802f94,#8c318a,#843091,#4726b5,#4826b8,#b53667,#9d337c,#4b26bc,#ad366e,#e67f00,#e6c62b,#e6d95d,#e6da61,#e6cb38,#e67f00,#b0366b,#5427b9,#a43476,#742d9e,#282683,#4226ae,#6f2ca2,#4726b6,#1f1f67,#3a26a1,#5428b9,#37269c,#1a1a58,#37269b,#4a26bb,#2e268d,#191952,#36269a,#4726b6,#2a2685,#181850,#36269a,#4526b3,#272681,#181851,#37269b,#4426b1,#26267d,#191953,#38269d,#4426b0,#25257b,#1a1a56,#39269f,#4326b0,#25257c,#1b1b5b,#3a26a1,#4426b1,#282682,#1e1e63,#3b26a3,#4626b4,#2f268e,#222270,#3d26a6,#4b26bd,#3c26a4,#282683,#4026aa,#622aad,#5828b6,#322694,#642aac,#a03479,#d03a50,#e83d3a,#dc3b44,#973381,#f53e2f,#e77c02,#e69f0d,#e69207,#f45b16,#b63766,#722ca0,#652aaa,#9f347a,#5828b6,#672ba9,#4e27be,#762d9d,#8c318a,#923285,#7c2e98,#fa3f2a,#e59207,#e5cd3e,#e6d85c,#e6d553,#e6a810,#f45b16,#dc3b45,#b93764,#963382,#9e347b,#e73d3c,#f8521b,#762d9c,#f63f2e,#e5ac12,#ececa1,#ffffff,#ffffff,#f2f2bf,#e6c01c,#fe4324,#7d2e96,#f7541a,#d63b4a,#332695,#4f27bd,#a43476,#6f2ca2,#282683,#3b26a3,#5d29b1,#4026aa,#1f1f66,#2c2689,#3c26a4,#2b2688,#17174d,#222272,#2c2689,#1e1e63,#16164a,#20206c,#21216e,#151546,#161649,#202069,#1a1a58,#101034)"></i><i style="position:absolute;left:260px;top:0;width:5.5px;height:313.25px;background:linear-gradient(#08081b,#3c26a3,#722ca0,#2c2689,#0a0a21,#4a26bb,#89308d,#2d268b,#0e0e2d,#782d9b,#be385f,#312691,#141443,#d43a4c,#f7541a,#39269f,#1f1f67,#e68803,#e6b214,#4826b8,#a73573,#e69308,#e9e98f,#fdfdf4,#ffffff,#f8f8dc,#e6d75a,#ec700a,#762d9c,#e6ba17,#e68602,#a83572,#4226ad,#f65718,#fd4424,#ae366d,#ec3d37,#ea7506,#ea7307,#e33c3f,#8c318b,#a03479,#f33e31,#a93572,#312692,#89308d,#ef690e,#87308f,#722ca0,#f55a17,#e6b716,#e6d553,#e6da60,#e5d75a,#e6b214,#fc4622,#662baa,#ad356e,#f65718,#3c26a4,#16164a,#7e2e96,#af366c,#282683,#17174c,#672ba9,#732d9f,#1b1b5b,#181850,#5c29b2,#5327ba,#141442,#1a1a56,#5828b6,#4726b6,#101034,#1c1c5c,#5728b7,#4226ae,#0e0e30,#1e1e62,#5728b6,#3f26a8,#101035,#20206a,#5828b5,#3c26a4,#151544,#222273,#5a28b4,#3a26a1,#1c1c5f,#26267e,#5b29b3,#39269e,#282683,#2b2687,#5c29b2,#38269e,#3a26a0,#312692,#5d29b1,#3b26a2,#5a29b4,#3c26a3,#5f29b0,#4426b1,#a63575,#4b26bd,#632aad,#642aac,#f35e14,#752d9d,#89308d,#d53a4b,#e68703,#e6c830,#e6da61,#e6cf44,#e6aa11,#f45c15,#ca3954,#9b337d,#f45b16,#89308d,#b43667,#712ca1,#b53667,#ce3a51,#fb4a20,#6f2ca2,#cf3a50,#f7541a,#e6b415,#e6d95d,#e6e47d,#e6ce42,#e6a810,#e68301,#ea7407,#fb4a20,#e03c42,#e69f0d,#e5cc3c,#ce3a51,#d63b4b,#ee6a0d,#e6d555,#fcfcf0,#ffffff,#fbfbea,#e6e378,#e69609,#d03a4f,#e6cd3f,#e5990a,#652aab,#5528b8,#f26112,#dd3c44,#4326af,#3f26a9,#af366c,#722da0,#312692,#2f268e,#622aae,#4126ab,#242479,#25257b,#3e26a7,#2c2689,#232373,#232373,#2c2689,#1e1e64,#222272,#21216e,#1f1f67,#151546)"></i><i style="position:absolute;left:265px;top:0;width:5.5px;height:313.25px;background:linear-gradient(#0d0d2a,#3e26a8,#5728b6,#26267f,#0e0e2e,#4226ad,#5c29b2,#2d268b,#101035,#4726b6,#6a2ba6,#3b26a1,#13133f,#5427b9,#8a308c,#5227ba,#17174d,#772d9c,#d53b4b,#8f3188,#672ba9,#f26112,#e6d148,#f5f5ce,#ffffff,#fffffd,#e9e992,#e69408,#b83764,#9e347b,#eb3d38,#772d9c,#4626b4,#993380,#9d347c,#88308e,#c0385d,#f94e1e,#f45a16,#fd4623,#cb3953,#9c337d,#702ca2,#632aac,#5f29b0,#8a318c,#6b2ba6,#973381,#6c2ba5,#ba3762,#f06510,#e6b816,#e6d758,#e6e070,#e6d047,#e59207,#dd3b44,#87308f,#762d9d,#8f3188,#4626b4,#5d29b1,#5027bc,#4e26be,#342697,#5a29b4,#4326af,#36269a,#2c2689,#5928b5,#3b26a3,#26267f,#292685,#5928b5,#37269b,#1b1b5b,#2a2685,#5a28b4,#342696,#141442,#2b2687,#5a28b4,#312692,#0f0f33,#2d268a,#5a29b4,#302690,#0d0d2c,#2f268e,#5b29b3,#312692,#0e0e30,#312691,#5d29b2,#362699,#12123d,#332695,#612aae,#4026aa,#191953,#362699,#6d2ca5,#5928b4,#232375,#39269f,#88308e,#953282,#322693,#4a26bb,#a63574,#eb3d38,#f06610,#e67d01,#eb7109,#dd3c44,#983381,#fe4225,#f26013,#fd4523,#cc3953,#923286,#7c2e98,#4926ba,#782e9b,#7c2e98,#6e2ca3,#3d26a5,#ad356e,#bd3860,#742d9f,#a33477,#f7531b,#e6b114,#e6d452,#e6d85c,#e6ca37,#e69509,#fe4125,#bf385f,#ed3e36,#a03479,#923285,#fa4b1f,#d73b49,#9c337d,#f8501c,#e6c220,#f4f4c6,#ffffff,#ffffff,#ebeb9c,#e6a911,#ee3e35,#b2366a,#fb3f2a,#762d9c,#4b26bd,#732d9f,#853090,#4326af,#3d26a6,#4726b7,#4826b8,#2e268c,#2f268f,#342696,#322693,#1f1f68,#242477,#272680,#222273,#17174c,#242478,#21216d,#18184f,#12123d,#242479,#1d1d62,#101037,#111137)"></i><i style="position:absolute;left:270px;top:0;width:5.5px;height:313.25px;background:linear-gradient(#13133f,#4626b4,#5327ba,#302690,#161649,#4726b7,#5f29af,#4126ac,#1a1a56,#4926ba,#7e2f96,#682ba8,#1f1f69,#4c26bf,#c53859,#b63766,#272682,#5628b7,#ec6f0a,#f06510,#4526b3,#f93f2c,#e6b114,#ecec9f,#fefef8,#ffffff,#f6f6d1,#e6c72e,#f94f1d,#c73957,#e59509,#ed3d36,#4726b7,#f43e30,#fd4423,#a13479,#983380,#fd3f28,#f06510,#f45c15,#fe4125,#cd3a52,#8c318a,#aa3571,#a93572,#ee3e35,#622aad,#f65519,#e43c3e,#b1366b,#c63958,#e77b03,#e6c831,#e6e174,#e6db64,#e6c831,#e68402,#e93d39,#5728b6,#ef680e,#8f3188,#6029af,#4326b0,#b33669,#5127bb,#5c29b2,#39269f,#622aad,#3e26a7,#5b29b3,#322694,#3d26a6,#36269a,#5a28b4,#2e268c,#2b2688,#352697,#5928b5,#2b2688,#1f1f67,#352698,#5928b5,#2b2687,#17174d,#37269b,#5928b5,#2d268b,#141442,#38269e,#5a29b4,#352698,#151546,#3a26a1,#5f29b0,#4326b0,#1a1a56,#3d26a6,#6d2ca4,#6b2ba6,#2d268b,#4626b4,#8e3189,#bb3762,#2c2689,#4226ae,#df3c42,#ed6c0c,#3a26a0,#7d2e97,#ff4126,#e68803,#e6ba17,#e6c72d,#e6be19,#e67f00,#e13c41,#903187,#f7551a,#f94e1d,#6a2ba7,#953283,#b93764,#a13479,#c2385c,#ee3e35,#812f93,#843091,#e77c02,#e68a04,#ae366d,#f06410,#e5a710,#e6d14a,#e6da61,#e6db64,#e6990a,#fd4028,#b43668,#e67d01,#e6b114,#f55818,#eb3d38,#e6dd6a,#ee6a0d,#f45a16,#e6aa11,#ebeb9c,#ffffff,#ffffff,#f6f6d1,#e6ca36,#f26013,#9a337f,#ea7506,#e6cf43,#682ba9,#5728b7,#d33a4d,#f45b16,#3d26a6,#4226ad,#7a2e99,#9f347a,#2a2686,#322694,#4826b7,#5528b8,#1d1d61,#26267e,#342697,#37269c,#17174c,#25257d,#282682,#26267f,#141444,#25257d,#202069,#1a1a57,#141443)"></i><i style="position:absolute;left:275px;top:0;width:5.5px;height:313.25px;background:linear-gradient(#1e1e65,#2a2685,#4526b3,#36269a,#25257d,#2e268d,#4726b5,#38269d,#322693,#352699,#4a26bb,#3c26a4,#4626b4,#4126ac,#5728b7,#4626b4,#7b2e99,#5a28b4,#762d9c,#612aae,#e53c3d,#8f3188,#d33a4d,#e68c05,#e6e379,#fcfcf1,#ffffff,#f7f7d9,#e6d148,#ed6d0b,#c2385c,#812f93,#f93f2b,#7d2e97,#712ca0,#632aac,#9d347c,#87308e,#a93572,#d03a50,#f13e33,#ec3d37,#d43a4c,#ad356e,#822f93,#7e2e96,#682ba8,#632aad,#5127bc,#b2366a,#6e2ca3,#9b337d,#fb4920,#e6af13,#e5d759,#e6db62,#e6d24c,#e5a810,#f55917,#9e347b,#4826b7,#a33476,#632aad,#89308d,#36269a,#682ba8,#4d26bf,#4c26bf,#2b2687,#4a26bc,#4726b5,#38269d,#242477,#4326af,#4326b0,#2c2689,#20206b,#4026ab,#4226ae,#25257a,#1f1f66,#4026ab,#4326b0,#21216e,#1e1e65,#4326af,#4826b7,#202069,#1f1f67,#4926ba,#5728b7,#20206b,#20206b,#602aaf,#7d2e96,#342696,#6d2ca4,#e43c3e,#f35f14,#ee6b0c,#f45b16,#e93d39,#812f94,#352698,#282683,#772d9c,#6c2ca5,#222272,#37269c,#792e9a,#ba3763,#f73f2d,#f94e1e,#fd4424,#b0366b,#5528b8,#4326b0,#772d9c,#642aac,#37269b,#5227bb,#782e9b,#5428b9,#4e27be,#8b318b,#9e347b,#652aab,#9a337f,#f8501c,#e68904,#e6bd19,#e6c529,#e6c427,#e6a40f,#f8521b,#b2366a,#a53475,#d33a4d,#782e9b,#7b2e99,#d23a4d,#e63d3c,#ac356f,#f7531b,#e6bb18,#f2f2be,#fffffe,#fffffe,#f0f0b2,#e6bc18,#ee3e36,#6f2ca3,#cb3954,#a23477,#963382,#30268f,#772d9c,#662aaa,#5427b9,#242477,#4726b6,#4126ad,#38269d,#1b1b59,#332695,#2f268e,#272681,#141441,#25257b,#232376,#1c1c5e,#101034,#1f1f67,#21216d,#161649,#0e0e2d,#1c1c5d,#1f1f68,#12123d,#0d0d2a)"></i><i style="position:absolute;left:280px;top:0;width:5.5px;height:313.25px;background:linear-gradient(#2f268e,#242479,#3e26a7,#5728b7,#3d26a5,#322693,#4126ab,#5728b7,#5c29b3,#4526b3,#4426b1,#5928b5,#a73573,#732d9f,#4926ba,#642aac,#f26112,#c83956,#5728b7,#812f93,#e6d34f,#eb7109,#722ca0,#b43668,#e77d02,#e6de6c,#fcfcf1,#ffffff,#f9f9e1,#e6da60,#e77b03,#cb3953,#e6e172,#f03e33,#632aad,#943284,#e67d01,#b83764,#6e2ca3,#c0385d,#f35f14,#fd4623,#f55818,#f16311,#fa3f2b,#782e9b,#88308d,#e33c3f,#9c337d,#702ca2,#af366d,#e67f00,#983380,#ec3d37,#e69f0c,#e6d148,#e6db64,#e6d85b,#e6c323,#ef670f,#89308d,#3a26a1,#c93955,#e97705,#4726b6,#2e268d,#903187,#c93955,#2f268e,#2a2686,#772d9c,#772d9c,#1f1f68,#2a2685,#6c2ba5,#4c26be,#151545,#2d268a,#6b2ba6,#3f26a8,#0f0f30,#332695,#742d9f,#38269d,#0b0b26,#4026ab,#8b318b,#352698,#242479,#5f29b0,#c2385b,#39269e,#1d1d60,#a93572,#f55917,#5c29b2,#d53b4b,#e68602,#e6c11f,#e6c221,#e6b817,#e68a04,#fe4325,#5f29b0,#2c2689,#eb3d38,#fd3f28,#2f268e,#2f268d,#8f3188,#a0347a,#36269a,#4426b1,#632aad,#772d9b,#4226ad,#692ba7,#4f27bd,#642aab,#6c2ba5,#bd3860,#4e27be,#5b29b3,#cc3953,#ec6f0a,#5d29b1,#b53667,#f16212,#e6bc18,#e6d758,#e6d85a,#e6c62c,#e6970a,#ff4027,#742d9f,#f35e14,#e69007,#c53959,#5227bb,#fd3f28,#e6bb18,#f26013,#f8521b,#e6c934,#f5f5cb,#ffffff,#ffffff,#ededa6,#e6ab12,#ec3d37,#6a2ba7,#c83956,#e6b917,#d93b47,#4a26bc,#6f2ca2,#fb4921,#812f94,#3f26a9,#4226ae,#923285,#4b26bd,#312691,#2f268e,#4f27bd,#362699,#232375,#21216e,#37269b,#292684,#1e1e63,#17174d,#272680,#26267f,#1d1d5f,#101037,#1c1c5e,#25257d,#1c1c5c,#0c0c28)"></i><i style="position:absolute;left:285px;top:0;width:5.5px;height:313.25px;background:linear-gradient(#3b26a2,#191955,#272681,#4826b9,#3c26a3,#1e1e63,#2d268a,#4a26bc,#4026aa,#25257c,#36269a,#4f27bd,#4a26bb,#312692,#4726b5,#5c29b2,#6f2ca3,#4726b6,#752d9e,#752d9e,#bb3762,#832f92,#d23a4d,#a03479,#eb3d37,#e6b214,#efefad,#ffffff,#ffffff,#efefb1,#e6ba17,#fd4523,#d13a4e,#b33668,#ea3d39,#88308e,#903287,#792e9a,#9d347c,#ad356e,#e83d3a,#f94f1d,#f55917,#fa4d1e,#ce3a51,#9e347b,#792e9a,#7c2e98,#742d9e,#b33669,#963382,#933284,#b43668,#e97606,#e6c62d,#e6dd68,#e6da61,#e6c62d,#e68000,#cd3a52,#732d9f,#923285,#7c2e98,#8b318c,#4826b7,#4f27be,#5127bb,#682ba9,#38269c,#37269b,#4526b3,#5c29b3,#2f268e,#292683,#4426b1,#652aab,#2c268a,#21216f,#4926ba,#853090,#302690,#1f1f68,#622aad,#d03a4f,#3b26a1,#272680,#662baa,#cd3952,#f06410,#e5980a,#e6a60f,#e68201,#e53d3d,#682ba8,#863090,#bd3760,#5a28b4,#b23669,#f94e1e,#f35e14,#fd4523,#b83765,#7d2e97,#5127bb,#1e1e65,#4826b8,#692ba8,#4626b4,#1f1f67,#37269c,#5628b7,#4326b0,#25257b,#2e268c,#5628b7,#4726b6,#302690,#2c2688,#672ba9,#5b29b3,#4126ac,#302690,#8d3189,#8d318a,#672ba9,#4b26bd,#e33c3f,#e68b04,#e6c52a,#e6d34f,#e6d555,#e6bb18,#f35f14,#903287,#ad356e,#cd3a52,#7a2e99,#4826b8,#b63766,#e03c41,#933285,#c3385b,#e6a10d,#e6e57d,#f5f5cd,#f7f7d5,#ededa4,#e6b917,#f33e31,#5c29b2,#b0366b,#9e347c,#913286,#4926b9,#7b2e99,#5b29b3,#5027bc,#39269f,#5227ba,#3c26a3,#37269b,#2b2688,#3c26a4,#2a2686,#272680,#20206b,#2c2689,#1d1d60,#1b1b5a,#191955,#242479,#16164a,#141441,#191953,#222271,#13133f,#0f0f31,#191954,#21216e,#111139)"></i><i style="position:absolute;left:290px;top:0;width:5.5px;height:313.25px;background:linear-gradient(#5a28b4,#20206a,#272681,#4426b1,#5828b5,#1f1f67,#39269f,#4d26bf,#5728b7,#20206b,#5a28b4,#692ba7,#5528b8,#262680,#a83572,#973381,#5427b9,#352697,#f16411,#f23e31,#5327ba,#4f27bd,#e6d758,#e68c05,#a43476,#ee6a0d,#e6d554,#fbfbea,#ffffff,#fbfbea,#e6df6e,#e69107,#d03a4f,#b1366b,#e6e57f,#f25f13,#953283,#903287,#e68301,#e93d3a,#fc3f29,#ec7009,#e68000,#f8511c,#f73f2d,#f26113,#923286,#b43668,#fe4225,#e6ba17,#832f91,#c83957,#f16411,#e6b415,#e6d758,#e6e174,#e6d34d,#e5980a,#e93d3a,#8f3188,#ee6a0d,#e69e0c,#3f26a9,#672ba9,#c93955,#e83d3a,#322694,#732d9f,#812f94,#7a2e99,#342696,#8f3188,#5f29b0,#4426b1,#4226ad,#d03a4f,#5628b7,#2f268e,#6c2ba5,#ee6a0d,#672ba9,#20206c,#cc3953,#e6cf42,#8f3188,#3b26a2,#b2366a,#e69609,#e5da61,#efefae,#f1f1ba,#e9e993,#e6b013,#ec3d37,#f16311,#e6c222,#4b26bd,#18184f,#c0385e,#f55917,#38269d,#181851,#7b2e99,#be385f,#2e268c,#0d0d2c,#5b29b3,#89308d,#292684,#13133e,#5a28b4,#782e9b,#282682,#1c1c5c,#772d9c,#7b2e99,#2a2686,#2a2685,#be385f,#913287,#312691,#4026aa,#ee6a0d,#c83956,#3d26a5,#672ba9,#f65619,#e6b315,#e6cd3e,#e6d34d,#e6d554,#e6af13,#eb3d38,#742d9f,#e69d0c,#fd4423,#2c2688,#5c29b3,#e5aa11,#f16212,#832f92,#ee6a0d,#e6d553,#eeeeaa,#eeeeab,#e8e88c,#e6c830,#f26013,#692ba8,#5928b5,#e69f0d,#cd3952,#12123c,#3e26a7,#fe4225,#7e2f96,#101034,#2f268f,#973381,#4b26bc,#0b0b26,#242477,#5a29b4,#362699,#08081b,#1b1b59,#3c26a3,#25257b,#050512,#141444,#2f268d,#20206a,#050511,#111139,#292685,#1d1d62,#05050f,#101034,#272681,#1c1c5d)"></i><i style="position:absolute;left:295px;top:0;width:5.5px;height:313.25px;background:linear-gradient(#332695,#1a1a57,#2d268a,#4426b1,#322693,#1b1b5b,#322693,#4626b4,#312691,#1e1e65,#3b26a2,#4926ba,#302690,#25257c,#4b26bc,#5427b9,#2f268f,#322693,#7b2e98,#6e2ca3,#2f268e,#4826b7,#da3b47,#9c337d,#a63574,#e68703,#e6e47a,#fdfdf5,#ffffff,#f7f7d7,#e6d450,#ed6d0b,#88308e,#752d9e,#f63f2e,#8c318b,#6d2ca4,#aa3571,#e83d3a,#ae366d,#7e2f96,#b53667,#d43a4c,#bb3762,#732d9f,#772d9c,#732d9f,#9d337c,#642aac,#af366c,#fa4b1f,#e67f00,#e6b515,#e6c426,#e6c324,#e6a00d,#f0660f,#d73b4a,#7a2e99,#983381,#732d9f,#973381,#4426b1,#682ba8,#4826b7,#5628b7,#3f26a9,#5027bc,#38269d,#4026aa,#3f26a9,#4c26bf,#2f268e,#3f26a8,#4226ae,#5b29b3,#2d268b,#5027bd,#4926b9,#812f93,#322693,#8b318c,#652aab,#d23a4e,#4226ad,#9e347b,#e68804,#e6de6a,#f5f5cb,#f8f8db,#f0f0b6,#e6c830,#f9501d,#8c318a,#89308c,#bd3860,#312692,#5027bc,#622aad,#712ca1,#282682,#3b26a3,#4d26bf,#4b26bc,#242477,#312691,#4826b8,#4026aa,#242478,#2d268b,#4826b7,#3b26a2,#2a2686,#2e268d,#4c26be,#3b26a3,#37269c,#342696,#602aaf,#4026ab,#4c26bf,#3d26a6,#89308c,#4b26bd,#8c318a,#4d26bf,#953283,#f93f2b,#e6970a,#e6cb39,#e6d85a,#e6d148,#e6a40e,#fc4622,#b73765,#7e2e96,#9d347c,#5d29b1,#b23669,#b73766,#792e9a,#c53959,#e59207,#e5d85c,#eeeea9,#efefb0,#e6e47d,#e6a710,#e63d3c,#5c29b2,#a93572,#9e347b,#3b26a1,#3a26a0,#712ca1,#5d29b2,#2a2686,#342696,#4a26bb,#3d26a5,#1e1e64,#292685,#38269c,#2b2688,#151547,#202069,#282683,#1e1e64,#0f0f32,#1a1a56,#21216e,#17174d,#0d0d2d,#1a1a55,#1f1f66,#131340,#0d0d2b,#1a1a56,#1d1d62,#111139)"></i><i style="position:absolute;left:300px;top:0;width:5.5px;height:313.25px;background:linear-gradient(#131340,#16164a,#4e27be,#4926b9,#12123e,#1b1b5b,#5b29b4,#4926b9,#13133f,#242477,#712ca1,#4a26bb,#151547,#322693,#9a337e,#4f27bd,#1b1b5a,#4826b8,#f63f2e,#622aae,#242479,#87308e,#e69408,#842f91,#d53b4b,#e6a60f,#eeeeac,#ffffff,#ffffff,#f3f3c1,#e6ca36,#f55917,#a63574,#e23c3f,#e69107,#9f347b,#ca3955,#f06510,#e69408,#fe4125,#b0366b,#bd3760,#f23e32,#7c2e98,#672ba9,#ca3955,#f55817,#662baa,#b23669,#e97606,#e5cb39,#e6db63,#e6da60,#e6c832,#e68e06,#c0385d,#4226ad,#f93f2b,#ea3d39,#332694,#1d1d62,#953283,#983380,#2f268e,#191953,#6d2ca4,#7c2e98,#2d268b,#1b1b5c,#6e2ca3,#762d9d,#2e268c,#26267f,#99337f,#822f92,#322693,#39269f,#fd4623,#a53575,#3c26a3,#602aaf,#e6b014,#f33e31,#4b26bd,#943284,#e68803,#e6e680,#fbfbea,#ffffff,#fafae4,#e6dc66,#ed6c0c,#af366c,#e6b415,#eb3d38,#362699,#682ba8,#fb4b20,#953283,#272681,#4326af,#a33477,#702ca1,#1f1f66,#312692,#702ca1,#5e29b0,#1b1b5a,#26267e,#5b29b3,#5928b5,#1b1b59,#1f1f69,#5a28b4,#5e29b1,#1f1f66,#1f1f68,#6b2ba6,#722ca0,#282682,#25257d,#943284,#99337f,#37269b,#322693,#f43e30,#f33e31,#782d9b,#e13c41,#e69509,#e6cb3a,#e6df6d,#e6d553,#e6bb18,#ef690e,#ef690e,#983380,#f7551a,#e03c42,#e6be19,#f83f2c,#da3b47,#fb4b20,#e6a50f,#e6e275,#f4f4c8,#efefb1,#e6d85b,#e68b05,#e93d3a,#c73958,#e6c324,#913286,#612aae,#7f2f95,#f8501c,#4c26bf,#5127bb,#4f27be,#963382,#352698,#3f26a9,#39269f,#5127bb,#25257b,#2f268f,#292685,#37269b,#1a1a56,#26267f,#20206a,#26267f,#16164b,#26267f,#1a1a58,#1a1a58,#161648,#26267e,#17174d,#12123d)"></i><i style="position:absolute;left:305px;top:0;width:5.5px;height:313.25px;background:linear-gradient(#1a1a58,#332695,#4326af,#2b2687,#1b1b5a,#37269c,#4426b2,#2a2686,#1d1d60,#3f26a8,#4826b8,#2b2687,#21216c,#4c26bf,#5327ba,#2d268b,#282683,#7a2e99,#732d9f,#332695,#36269a,#d23a4d,#b1366a,#7e2f96,#ef680e,#e6d758,#f9f9e3,#ffffff,#fbfbec,#e6e378,#e68a04,#a33477,#5f29b0,#ef3e34,#b53767,#5327ba,#843091,#ef3e34,#fa4d1f,#fd4424,#fc3f29,#fb3f2a,#b93764,#812f94,#4526b3,#8a318c,#88308e,#9d337c,#5c29b2,#d43a4c,#ee690d,#e6b817,#e6d148,#e6d553,#e6c52a,#e67e01,#bb3762,#7c2e98,#812f94,#762d9d,#3a26a1,#5928b5,#5728b6,#4626b4,#2e268d,#4b26bd,#4626b5,#37269b,#2a2685,#4b26bd,#4326af,#352699,#2a2686,#5b29b4,#4826b8,#4026ab,#2f268f,#802f94,#632aac,#5f29b0,#3b26a3,#cf3a50,#a23478,#a23478,#5728b7,#fc4622,#e6c11d,#f1f1b9,#ffffff,#ffffff,#ededa6,#e6ab11,#da3b47,#d23a4e,#c63958,#792e9a,#3f26a9,#822f92,#762d9d,#4426b2,#37269b,#5c29b2,#4b26bc,#312692,#322694,#4a26bc,#3d26a6,#262680,#312691,#4626b5,#37269c,#232375,#312691,#4626b4,#38269d,#26267f,#322693,#4926b9,#4126ac,#30268f,#332695,#5528b8,#5928b5,#3f26a9,#36269a,#772d9c,#953283,#622aad,#802f94,#f7541a,#e6a710,#e6d148,#e6d657,#e6cf43,#e69609,#fa4b1f,#8d318a,#ab3570,#983381,#e33c3f,#9e347c,#c1385c,#903287,#f43e30,#e6ae12,#e6e681,#efefb0,#ededa4,#e6d759,#e68a04,#ae366d,#d43a4c,#ba3762,#963282,#3d26a6,#752d9e,#732d9f,#5d29b2,#2e268d,#4426b1,#4726b6,#3e26a7,#222273,#302690,#342696,#2c2689,#191953,#222270,#25257d,#21216d,#131340,#191953,#20206c,#1d1d61,#101037,#141443,#1e1e64,#1b1b5a,#0f0f31,#12123b)"></i><i style="position:absolute;left:310px;top:0;width:5.5px;height:313.25px;background:linear-gradient(#25257c,#5f29b0,#3a26a0,#0b0b25,#292684,#6c2ba5,#3c26a3,#0c0c28,#30268f,#863090,#4026ab,#0f0f31,#3c26a3,#c0385d,#4b26bc,#141442,#5528b8,#f35d15,#6d2ca4,#1c1c5e,#9b337e,#e6c528,#a73573,#ed3d36,#e6bb18,#f2f2be,#fefefc,#ffffff,#f2f2bf,#e6c222,#f53e2f,#832f92,#f65619,#e6bf19,#642aac,#ac356e,#fd4623,#f35d15,#8a318c,#d13a4e,#f35e14,#e97606,#fb3f29,#e23c3f,#d33a4c,#913286,#39269f,#f65519,#f8501c,#712ca1,#7a2e99,#f26112,#e6ab11,#e6cb39,#e6c932,#e6c323,#e68f06,#f73f2d,#5327ba,#dd3c44,#b83764,#5428b9,#292684,#7e2f96,#752d9e,#4f27bd,#30268f,#4f27bd,#5728b7,#4c26be,#3d26a6,#4726b7,#4d26be,#4b26bd,#6029af,#5c29b3,#5127bc,#4c26be,#b2366a,#943284,#5e29b1,#5327ba,#ed6d0b,#fe4225,#772d9b,#a63574,#e97705,#e6dc65,#fcfcf0,#ffffff,#f9f9e2,#e6db65,#e68301,#a33476,#e68603,#cb3954,#632aad,#5227bb,#d53b4b,#702ca2,#5728b7,#4726b7,#752d9d,#4526b3,#5427b9,#4226ae,#4626b4,#38269e,#5427b9,#3f26a9,#36269b,#39269f,#5528b8,#3d26a6,#37269c,#4626b5,#5728b6,#3d26a6,#4926b9,#6f2ca2,#5b29b3,#4126ad,#853091,#c0385e,#622aae,#4c26bf,#ff4026,#ed6d0b,#7c2e98,#da3b47,#ed6e0b,#e6be19,#e6db64,#e6e47a,#e6c323,#e87a03,#f8511c,#eb7308,#ea7506,#fd4424,#f45c15,#e6d656,#f83f2d,#b53767,#fb4a20,#e6ae13,#e8e88d,#f1f1ba,#f0f0b3,#e5d95d,#e69107,#ca3954,#e69b0b,#e6c11e,#602aaf,#3c26a4,#fd4424,#fb4b20,#3b26a2,#312692,#983380,#8f3188,#282682,#272681,#5a28b4,#4b26bd,#1b1b5b,#1d1d60,#3c26a4,#342696,#13133e,#1c1c5e,#302690,#242478,#0d0d2c,#1d1d5f,#292685,#1a1a55,#0a0a21,#1d1d61)"></i><i style="position:absolute;left:315px;top:0;width:5.5px;height:313.25px;background:linear-gradient(#3c26a3,#4626b4,#232375,#191953,#3f26a9,#4826b8,#242479,#1b1b5a,#4626b4,#4e26be,#272682,#1f1f69,#5828b5,#662aaa,#2e268d,#282682,#843091,#933284,#3a26a0,#37269c,#dd3b44,#f63f2e,#7f2f95,#ed6e0b,#e6da62,#fafae6,#ffffff,#fbfbe9,#e6e174,#e68201,#8f3188,#5f29b0,#f13e33,#ec3d37,#36269a,#672ba9,#b2366a,#933285,#642aab,#be385f,#f8511c,#f7551a,#fc3f29,#df3c43,#b83764,#5e29b0,#242478,#89308d,#973381,#4126ac,#3d26a5,#9b337d,#fa4d1e,#e97605,#e68000,#ec6e0a,#fe4027,#832f92,#352698,#6b2ba6,#712ca1,#3b26a2,#21216e,#4726b5,#812f93,#a23477,#bd3860,#be385f,#aa3571,#5f29b0,#36269a,#3d26a5,#6d2ca4,#39269f,#37269b,#4126ac,#702ca2,#3d26a6,#5027bc,#5127bb,#8f3187,#4826b8,#953283,#802f94,#e33c3f,#682ba8,#b53767,#e77b03,#e6db63,#f9f9e0,#ffffff,#fbfbea,#e6e174,#e67e01,#ad366e,#5f29b0,#e73d3b,#4526b3,#89308d,#4526b3,#8f3188,#37269b,#4b26bd,#3e26a8,#662aaa,#2e268d,#36269a,#3c26a4,#5027bc,#2a2685,#2b2687,#3d26a6,#4926b9,#282682,#292684,#4226ae,#4626b5,#292683,#312692,#4c26be,#4626b4,#2e268d,#4426b1,#6d2ca4,#4626b4,#3b26a3,#762d9c,#a83572,#5a29b4,#aa3570,#ed6c0c,#e6c01b,#e6d655,#e6d759,#e6c221,#e77c02,#d83b48,#a83572,#ad356e,#8b318b,#913286,#fb4a20,#913286,#943283,#f8501c,#e6bb18,#e8e88c,#f1f1b8,#ececa2,#e6ce40,#eb7208,#a73573,#c83956,#e83d3a,#4926b9,#4526b2,#7c2e97,#7b2e98,#332695,#39269f,#4a26bb,#4526b2,#242479,#2d268b,#36269a,#2f268e,#1a1a55,#20206c,#272681,#21216c,#141443,#1f1f69,#20206a,#17174c,#12123d,#202069,#1c1c5c,#111138,#12123c,#20206a)"></i><i style="position:absolute;left:320px;top:0;width:5.5px;height:313.25px;background:linear-gradient(#5c29b3,#37269c,#0b0b25,#2e268c,#632aad,#3c26a4,#0c0c27,#332695,#732da0,#4826b8,#0d0d2a,#3d26a5,#943284,#6c2ba5,#0e0e2f,#4e27be,#e73d3c,#b0366b,#101035,#863090,#e68803,#f45b16,#df3c42,#e6b515,#f1f1ba,#fefefb,#fefefc,#f2f2be,#e6c933,#ff4026,#4c26be,#ba3762,#e6b515,#de3c43,#131341,#89308d,#e68402,#933285,#4c26be,#c4385a,#f06410,#fa4b1f,#fe4027,#f53e2f,#da3b47,#5327ba,#242477,#7d2e97,#fe4324,#4126ac,#161648,#612aae,#c0385e,#3b26a2,#352698,#5d29b2,#c93956,#4026ab,#1a1a57,#712ca1,#f7541a,#5928b4,#39269e,#9a337e,#fb4b20,#ea7506,#e68c05,#e69308,#ea7407,#d73b49,#792e9a,#a13479,#fb4921,#4226ae,#672ba9,#8a308c,#a03479,#4326af,#bc3761,#953283,#6d2ca4,#642aac,#eb7208,#cd3952,#5628b8,#b73765,#e6e173,#f35e14,#f16311,#e6cd3f,#f6f6d1,#ffffff,#fefefa,#eaea96,#e6a40f,#ed3d36,#5828b6,#f23e31,#e6e47a,#c73957,#4326b0,#8e3189,#e97705,#822f92,#3d26a6,#5428b9,#c73957,#682ba8,#39269f,#3d26a5,#792e9b,#6029af,#36269a,#332695,#612aae,#612aae,#342696,#39269e,#782d9b,#6a2ba7,#332694,#4e27be,#c1385d,#7e2e96,#332694,#963282,#ed6d0b,#a83572,#4826b8,#b43668,#ea7407,#e6c52a,#e6d451,#e6d85b,#e6c11e,#e67e01,#c53859,#f35f14,#f45c15,#8f3188,#8d3189,#e77b03,#bf385e,#c63958,#ed6d0b,#e6d045,#efefad,#f2f2be,#e7e789,#e6c01c,#f55917,#943284,#d13a4f,#fa4c1f,#4926b9,#5427b9,#792e9a,#913286,#3c26a3,#4226ae,#4726b6,#4c26bf,#2f268d,#332694,#332695,#342697,#232373,#242478,#25257a,#242478,#1e1e65,#222272,#1b1b59,#191953,#1f1f66,#222270,#141442,#12123b,#1f1f68,#21216e)"></i><i style="position:absolute;left:325px;top:0;width:5.5px;height:313.25px;background:linear-gradient(#39269f,#2a2686,#25257c,#37269c,#3c26a3,#2e268c,#26267d,#3b26a2,#4126ad,#352697,#26267f,#4426b0,#4d26bf,#4126ac,#272681,#5b29b3,#752d9d,#5e29b1,#292685,#953283,#c53859,#9a337f,#eb3d38,#e6b917,#f0f0b4,#fffffd,#fffffe,#f0f0b4,#e6bb18,#ec3d37,#5c29b3,#c4385a,#f53e2f,#752d9e,#4826b7,#853091,#c0385d,#7b2e99,#b53667,#fc4722,#f7531b,#fe4324,#d53b4b,#ab3570,#782e9b,#3d26a5,#4b26bd,#4f27bd,#822f93,#332694,#3c26a3,#4526b2,#5f29b0,#2f268e,#342697,#4226ae,#642aac,#332694,#332694,#4726b6,#903187,#3d26a6,#38269c,#6029af,#a33477,#f33e31,#f65718,#f65619,#e43c3e,#853090,#5e29b1,#772d9c,#88308d,#7a2e99,#f33e31,#f16311,#ef670f,#fd4623,#d93b48,#772d9b,#4526b2,#37269b,#e43c3e,#953283,#4826b8,#4b26bc,#eb7208,#c3385b,#953283,#f16211,#e6c01b,#f2f2bd,#ffffff,#fefefa,#eeeeab,#e6b314,#e03c42,#802f94,#ec6f0a,#8d3189,#6f2ca2,#4f27bd,#c0385d,#5928b5,#4626b5,#3d26a5,#732d9f,#4526b2,#38269d,#332694,#4d26bf,#3f26a9,#2f268f,#2f268d,#4626b5,#4026aa,#2b2688,#312692,#4c26bf,#4726b6,#2a2686,#3c26a4,#702ca1,#5e29b0,#2b2688,#5528b8,#b63766,#913286,#4026aa,#a03479,#ed6d0b,#e6bd19,#e6d24c,#e6d554,#e6c426,#e77c02,#bd3760,#a93571,#ac356f,#7a2e9a,#4c26bf,#d03a4f,#7f2f95,#a13478,#f06510,#e5cb3a,#ececa1,#f0f0b3,#e8e88d,#e6c323,#f45a16,#7d2e97,#6e2ca3,#b23669,#4526b3,#352697,#4626b4,#652aab,#37269c,#2b2687,#332695,#3f26a8,#2a2686,#21216d,#25257c,#2c268a,#1f1f66,#17174d,#1b1b5a,#20206a,#1a1a58,#161649,#161648,#1a1a55,#1a1a56,#161648,#13133e,#17174b,#1a1a56,#151547)"></i><i style="position:absolute;left:330px;top:0;width:5.5px;height:313.25px;background:linear-gradient(#1f1f68,#1f1f67,#4a26bb,#4426b1,#292683,#21216e,#4b26bd,#4c26be,#37269b,#242477,#4c26bf,#6f2ca2,#4c26be,#272681,#5127bc,#b73766,#853090,#2d268a,#5c29b3,#ef670f,#ea3d39,#5628b8,#fe4225,#e6b817,#efefaf,#ffffff,#ffffff,#f0f0b2,#e6b817,#fe4324,#7a2e99,#e77c02,#bc3761,#8a308c,#6d2ca4,#ed3e36,#bc3760,#e73d3b,#f7531b,#f25f13,#f63f2e,#b33669,#89308d,#5728b7,#712ca1,#772d9c,#5428b9,#3e26a7,#4426b1,#4b26bc,#5528b9,#3c26a3,#322692,#3f26a8,#5a29b4,#4426b2,#272680,#3a26a1,#6b2ba6,#642aac,#242477,#3a26a1,#903287,#a73573,#282683,#4426b1,#ea3d39,#f65718,#332695,#4326af,#e59208,#e6c426,#a83573,#e68502,#e5d759,#ededa6,#f2f2be,#e8e88e,#e6b616,#f63f2e,#b73765,#943284,#e6c528,#e69509,#fa4b1f,#e13c40,#f25f13,#fe4027,#e6c11d,#e77b03,#f55a17,#e6ad12,#e9e98f,#fffffd,#ffffff,#f8f8de,#e6d552,#ea7407,#ac356e,#943283,#e5d046,#f73f2d,#4b26bd,#5628b7,#f26112,#903287,#4726b6,#3e26a7,#ac356f,#662aaa,#4626b4,#342697,#612aae,#5327ba,#4a26ba,#36269a,#4026aa,#4e26be,#5d29b1,#4326b0,#332694,#5127bc,#8b318b,#6a2ba7,#2f268d,#5c29b2,#ef3e34,#b63766,#3b26a2,#bd3760,#f06510,#e6b214,#e6d149,#e6de6a,#e6c934,#e68101,#cf3a51,#ec3d37,#f55a17,#7c2e97,#4e26be,#e87904,#f03e33,#8b318b,#f55818,#e6c933,#ececa1,#efefaf,#eaea96,#e6cd3e,#ee6a0d,#7d2e97,#853091,#e87904,#682ba8,#181850,#5528b8,#d33a4d,#4026aa,#11113a,#3d26a6,#772d9b,#2c268a,#0d0d2a,#2e268c,#4626b4,#1e1e65,#09091d,#222272,#332694,#17174b,#080819,#1d1d62,#2a2686,#131340,#070718,#1b1b5a,#26267e,#11113a,#070718)"></i><i style="position:absolute;left:335px;top:0;width:5.5px;height:313.25px;background:linear-gradient(#25257b,#17174e,#3c26a4,#4826b7,#292684,#191953,#3d26a6,#4b26bd,#322693,#1b1b5a,#3f26a9,#5a29b4,#4226ad,#1f1f67,#4126ac,#7e2f96,#662baa,#25257a,#4526b3,#cb3953,#b23669,#4b26bd,#f93f2b,#e6bb18,#efefaf,#fffffd,#ffffff,#f1f1b7,#e6b816,#f33e31,#702ca2,#e63d3c,#a23478,#4f27bd,#662baa,#d13a4e,#ea3d39,#fd3f28,#f94f1d,#fb4b20,#bb3762,#622aad,#5828b6,#5528b8,#4726b7,#4626b5,#4a26bb,#4526b3,#342696,#36269a,#4926ba,#4126ac,#272681,#30268f,#4b26bd,#4226ae,#21216d,#312692,#5327ba,#4b26bd,#21216f,#3b26a2,#692ba7,#6f2ca3,#2a2686,#4f27bd,#943283,#b33669,#3b26a2,#8c318a,#f93f2b,#f35d15,#e13c41,#e5ab12,#e9e993,#f5f5cf,#f5f5cf,#e6e684,#e5a810,#d53a4b,#772d9c,#cc3953,#f16411,#f23e31,#a73573,#af366c,#d03a4f,#8c318b,#f65718,#e33c3e,#a93572,#fa3f2b,#e69c0c,#eaea98,#ffffff,#ffffff,#f4f4c6,#e6c934,#f45b16,#682ba8,#ef680e,#b83764,#802f94,#4026aa,#b33669,#6f2ca3,#602aaf,#342697,#642aab,#4b26bc,#5127bb,#2f268e,#4126ac,#4226ae,#4d26bf,#2f268e,#362699,#3f26a9,#5428b9,#36269a,#38269d,#4026ab,#6b2ba6,#4526b3,#4726b6,#4426b1,#9b337e,#6d2ca4,#752d9d,#742d9e,#dc3b45,#e97805,#e6c220,#e6d85b,#e6d656,#e6ba17,#ef690e,#df3c42,#cb3954,#853090,#682ba9,#d63b4a,#be385f,#792e9a,#f63f2e,#e6b013,#e6e683,#efefaf,#ededa5,#e6d95d,#e68b05,#ac356f,#4d26bf,#d83b48,#752d9e,#21216f,#3b26a2,#822f92,#4826b7,#191952,#2c2689,#4c26be,#342696,#12123c,#21216e,#37269b,#242478,#0c0c2a,#191952,#292684,#1c1c5f,#0a0a23,#151546,#242479,#1a1a56,#0a0a20,#131340,#222272,#181851,#09091e)"></i><i style="position:absolute;left:340px;top:0;width:5.5px;height:313.25px;background:linear-gradient(#4626b5,#1a1a57,#20206c,#5428b9,#5528b8,#212170,#232373,#6029af,#7e2e96,#2c2689,#25257c,#782d9b,#d03a50,#3b26a1,#292685,#ae366d,#e87904,#5027bc,#302690,#f65619,#e6e276,#843091,#f43e30,#e6c11d,#f0f0b2,#fefefa,#ffffff,#f3f3c5,#e6b817,#e73d3b,#a83573,#e6a710,#e6d148,#5828b6,#822f92,#e67d01,#e6a10e,#fd4523,#ff4027,#f65519,#e13c40,#3b26a2,#9b337e,#993380,#632aac,#2c2688,#632aac,#752d9e,#4226ae,#312691,#4826b8,#622aae,#39269e,#4126ac,#4326af,#5828b6,#3d26a6,#6a2ba7,#4426b1,#5427b9,#5427b9,#c0385e,#4b26bc,#5227bb,#99337f,#eb7308,#612aae,#5227bb,#f45a16,#e6de6c,#88308e,#a43476,#f0660f,#e6d24b,#f9f9e2,#ffffff,#fafae8,#e6e173,#e69609,#d93b47,#e6a10d,#e6c934,#c2385c,#9f347b,#fd3f28,#f45b16,#f65619,#f73f2d,#8f3188,#d43a4c,#e6c221,#e68f06,#ee3e35,#e6b014,#eeeea8,#ffffff,#ffffff,#f5f5cb,#e6d047,#f16311,#742d9e,#a13479,#e6d553,#fa4c1f,#232373,#5e29b0,#ec6f0a,#99337f,#1f1f68,#4026ab,#d03a4f,#622aad,#232375,#362699,#8a308c,#4826b9,#2f268d,#36269a,#6c2ca5,#4126ad,#4226ae,#4126ac,#622aae,#3f26a9,#722ca0,#5e29b1,#652aab,#4226ae,#d63b4a,#9b337e,#923285,#d03a4f,#e68100,#e6c830,#e6e071,#e6d34d,#e6b917,#e67f00,#f0660f,#5a29b4,#ef3e34,#ea3d39,#e68e06,#5c29b2,#f03e34,#e68b05,#e6db63,#eeeea8,#f0f0b6,#e6e47a,#e6b315,#f53e2f,#612aae,#fa4c1f,#ea7407,#39269e,#25257c,#a03479,#c63958,#2a2685,#1b1b59,#5e29b0,#6e2ca3,#1e1e63,#131340,#3e26a7,#4126ac,#141443,#0e0e2e,#2d268b,#312691,#11113a,#0a0a23,#242479,#292685,#101036,#09091c,#1f1f68,#26267d,#0f0f33)"></i><i style="position:absolute;left:345px;top:0;width:5.5px;height:313.25px;background:linear-gradient(#4b26bc,#25257a,#16164a,#3e26a6,#5327b9,#262680,#181850,#4326b0,#6a2ba6,#2b2687,#1b1b5b,#4f27bd,#963282,#332694,#222270,#762d9d,#f63f2e,#4026aa,#2c268a,#c2385c,#e6980a,#6029af,#f94e1d,#e5cb3a,#f6f6d0,#ffffff,#fefef9,#ebeb9d,#e6a30e,#bf385e,#6e2ca3,#f65519,#e68603,#802f94,#c83956,#ed6d0b,#e68101,#f93f2c,#c1385c,#c1385c,#973381,#302690,#622aad,#6c2ca5,#5628b8,#292684,#4126ac,#5428b9,#4526b3,#2a2686,#342696,#4b26bd,#4026ab,#342697,#2e268d,#4926b9,#4226ad,#4726b6,#30268f,#4926b9,#4b26bd,#7b2e99,#37269b,#4926ba,#742d9f,#df3c42,#4426b1,#4a26bc,#cc3953,#e68e06,#642aab,#a43476,#ea7407,#e5d85c,#fafae4,#ffffff,#fbfbe9,#e6dc66,#e68101,#bd3760,#f7541a,#eb7108,#7f2f95,#7a2e99,#ae366e,#b93763,#ba3762,#ad356e,#752d9e,#6c2ca5,#ef690e,#fb4921,#832f92,#f65619,#e6ca37,#f6f6d4,#ffffff,#fdfdf5,#e9e991,#e6a20e,#c0385d,#4926ba,#e68100,#c3385b,#4726b7,#38269d,#d83b49,#7b2e99,#38269c,#2c2689,#812f94,#5b29b3,#302690,#272680,#5528b8,#4d26bf,#302690,#282682,#4626b4,#4b26bd,#39269f,#312691,#4226ae,#4f27bd,#4c26bf,#4026ab,#4b26bd,#702ca2,#8a318c,#b43668,#d43a4b,#a73573,#e53c3d,#e68000,#e6b616,#e6b114,#e68402,#fd4424,#d63b4a,#5528b8,#973381,#903287,#fe4225,#5e29b1,#d63b4a,#e68a04,#e5da61,#efefad,#efefb0,#e6e174,#e6ab12,#f33e31,#5327ba,#ad356e,#e43c3e,#4326af,#222272,#652aab,#822f92,#352698,#191954,#4026ab,#4a26bb,#282682,#12123d,#2e268d,#342697,#1c1c5d,#0d0d2c,#222270,#282683,#1a1a56,#0b0b25,#1a1a57,#242477,#191954,#0a0a21,#161648,#222270,#191952)"></i><i style="position:absolute;left:350px;top:0;width:5.5px;height:313.25px;background:linear-gradient(#4b26bd,#3f26a9,#1b1b5a,#38269e,#4f27bd,#3e26a7,#25257b,#4e27be,#5728b7,#3d26a5,#352699,#8c318a,#642aab,#3c26a3,#5227bb,#ff4026,#7c2e98,#3b26a3,#a33477,#e6ab12,#a73573,#983381,#eb7109,#e6da62,#fefef9,#ffffff,#fafae4,#e6de6a,#e69c0c,#b1366a,#fd4523,#e6a20e,#cd3952,#e23c40,#f0660f,#e68803,#fa4c1f,#bb3761,#8f3188,#9d337c,#a83573,#4a26bb,#3e26a6,#6029af,#792e9a,#3b26a3,#312691,#4426b2,#632aad,#342696,#302690,#3c26a4,#5828b5,#332695,#3c26a4,#3a26a1,#5428b9,#3b26a2,#5a29b4,#3c26a5,#5428b9,#4f27bd,#a03479,#4226af,#5828b5,#903187,#f65619,#4c26bf,#662baa,#fa4d1f,#e6c62b,#933284,#e67e01,#e5d95e,#f9f9df,#ffffff,#fdfdf6,#e6dd68,#e87804,#aa3571,#a13479,#e68e06,#e6a60f,#6b2ba6,#c83956,#f13e33,#f73f2d,#8d318a,#f35d15,#a33477,#9d347c,#e43c3e,#e6c425,#c3385b,#e59308,#e6e683,#fefef8,#ffffff,#f7f7d8,#e6d656,#ea7307,#842f91,#782e9b,#f26112,#e6b114,#4426b1,#4826b8,#ca3955,#fc4821,#2e268c,#37269b,#903287,#a63574,#21216d,#2d268a,#87308f,#842f91,#1d1d62,#2c2689,#a83572,#913286,#1b1b5a,#342697,#fd4623,#d53b4b,#37269b,#8b318b,#f55a17,#e69c0b,#e6bb18,#e6c11f,#e5a710,#f45c16,#a23478,#9c337c,#f45b16,#913286,#7f2f95,#e63d3c,#c4385a,#5828b5,#e73d3c,#e68c05,#9c337d,#e33c3f,#e59a0a,#e6de6c,#f2f2bd,#eeeeac,#e5da62,#e69408,#e83d3a,#4c26bf,#f06410,#ef680e,#5c29b2,#322692,#b53667,#ae366d,#4426b1,#262680,#662baa,#5d29b1,#342697,#1d1d5f,#4026aa,#3a26a1,#25257d,#151545,#2d268b,#2a2685,#242477,#131340,#20206c,#20206c,#232376,#12123c,#17174d,#1c1c5d,#232375)"></i><i style="position:absolute;left:355px;top:0;width:5.5px;height:313.25px;background:linear-gradient(#36269a,#3d26a5,#292684,#312692,#38269e,#3d26a5,#2c268a,#4126ac,#3c26a4,#3d26a5,#352698,#672ba9,#4226ae,#3e26a7,#4626b5,#b63766,#4e27be,#4126ac,#7b2e99,#ee6a0d,#712ca1,#d53b4b,#e6a20e,#ebeb99,#ffffff,#ffffff,#f3f3c4,#e6c62d,#f26112,#772d9c,#d63b4a,#e77b03,#f23e31,#fc4821,#f45c15,#f16311,#c0385d,#7f2f96,#5c29b2,#722da0,#722da0,#3c26a4,#39269f,#4626b5,#4e26be,#39269e,#302690,#37269c,#4426b1,#38269c,#2f268e,#30268f,#4026aa,#39269e,#37269b,#2d268b,#3e26a8,#3d26a6,#4726b7,#2f268e,#3e26a8,#4926b9,#772d9c,#342696,#4026aa,#732d9f,#d53a4b,#3c26a4,#4326b0,#ce3a51,#e68301,#6c2ca5,#f45b16,#e5cb3a,#f5f5cb,#ffffff,#fefefc,#e8e88e,#e69709,#c3385a,#722ca0,#f7541a,#f06510,#4c26be,#8a308c,#b2366a,#ac356f,#722ca0,#db3b46,#7e2f96,#652aab,#c4385a,#e68000,#8a308c,#f16212,#e5d046,#f8f8da,#ffffff,#fcfcf1,#e6e681,#e69308,#b0366c,#4026ab,#db3b46,#ec700a,#4026ab,#332694,#87308e,#c83956,#342696,#2a2686,#602aaf,#87308e,#2f268f,#3b26a2,#832f92,#d43a4c,#ea3d38,#e63d3c,#bb3761,#7d2e97,#3a26a1,#2e268c,#b63767,#9b337e,#36269a,#692ba7,#e23c40,#e97606,#e6990a,#e69e0c,#e77b03,#f33e30,#7f2f95,#682ba8,#d23a4d,#742d9e,#5a29b4,#a13478,#832f92,#4f27bd,#a63574,#f9501d,#822f92,#ff4126,#e6ad12,#e6e47a,#f0f0b4,#eeeea8,#e6d451,#e68000,#b63766,#4a26ba,#e83d3b,#e93d3a,#4026aa,#3b26a3,#842f91,#7c2e98,#342696,#2f268e,#4b26bc,#4526b3,#282682,#232376,#352699,#30268f,#1d1d60,#1a1a57,#262680,#222270,#1c1c5c,#191952,#1c1c5e,#1a1a56,#1c1c5c,#18184f,#161648,#161648,#1c1c5c)"></i><i style="position:absolute;left:360px;top:0;width:5.5px;height:313.25px;background:linear-gradient(#141443,#2f268f,#5427b9,#362699,#141443,#37269c,#672ba9,#3b26a1,#141443,#4626b4,#8c318a,#4526b3,#151545,#702ca1,#dc3b45,#632aad,#161649,#cc3953,#e77b02,#9d347c,#672ba9,#f65619,#e6d14a,#f7f7d9,#ffffff,#fdfdf7,#f0f0b3,#e6b214,#c1385c,#f06410,#e68603,#fb4a20,#ff4126,#ec6f0a,#f16212,#a63574,#4726b6,#712ca1,#da3b46,#752d9d,#181851,#4d26bf,#8a308c,#4526b2,#18184f,#4326b0,#652aab,#342696,#18184f,#4026aa,#5327ba,#2b2687,#181850,#3f26a9,#5127bb,#292684,#191953,#4226ad,#5f29b0,#2d268a,#1b1b58,#4826b7,#822f93,#36269a,#1d1d60,#5d29b2,#cf3a51,#4626b5,#21216e,#8d3189,#ea7506,#6e2ca3,#d63b4a,#e6af13,#eeeea8,#fffffe,#ffffff,#f3f3c3,#e6c324,#f8511c,#702ca2,#c3385b,#ed6d0b,#b53667,#5b29b3,#832f92,#d13a4e,#f45c15,#953283,#632aac,#b43668,#e6cc3b,#ff4026,#7f2f96,#fb4921,#e6bd18,#f2f2bc,#ffffff,#ffffff,#ededa7,#e6b716,#f73f2d,#de3c43,#e6d148,#e13c40,#5828b6,#8a308c,#ed6d0b,#fb4920,#6b2ba6,#5c29b3,#fd4523,#e5a50f,#8b318b,#d73b49,#e69c0b,#e6d85c,#eeeea8,#ecec9f,#e6d554,#e68502,#cc3953,#4a26bb,#fd4424,#e69006,#6a2ba7,#36269a,#953283,#e23c40,#853090,#5d29b1,#5728b7,#8a318c,#7e2f96,#3b26a1,#3c26a3,#792e9a,#b93763,#4626b4,#2c268a,#a53575,#f45a16,#662aaa,#682ba8,#f8521c,#e6c322,#e7e789,#eeeeac,#ecec9e,#e6d046,#ed6c0c,#86308f,#df3c43,#fe4125,#4526b3,#191953,#86308f,#933284,#312691,#151544,#4f27bd,#5327b9,#222272,#101036,#39269f,#38269e,#17174e,#0c0c29,#2a2685,#292684,#12123a,#0c0c26,#232373,#232375,#0f0f33,#0b0b26,#1f1f68,#20206b,#0e0e2e,#0c0c27)"></i><i style="position:absolute;left:365px;top:0;width:5.5px;height:313.25px;background:linear-gradient(#16164a,#352699,#4c26be,#2b2687,#17174b,#3b26a1,#5928b5,#2c268a,#17174d,#4526b3,#772d9c,#312691,#18184f,#632aac,#b1366b,#39269f,#191953,#a73573,#f7541a,#4926ba,#ad356e,#e6970a,#eaea96,#fefefb,#ffffff,#f7f7d6,#e5d758,#ec6e0a,#832f92,#f8511c,#ea7407,#ff4027,#fe4225,#f25f13,#fe4225,#692ba7,#352698,#6e2ca3,#ad356e,#5628b8,#1d1d60,#5027bc,#712ca1,#3a26a0,#1d1d61,#4726b6,#5127bc,#2b2688,#1e1e63,#4426b1,#4726b6,#242479,#1f1f66,#4526b2,#4626b4,#232375,#20206b,#4826b8,#4c26be,#272680,#222271,#5528b8,#682ba8,#2f268f,#25257b,#782e9b,#a03479,#3d26a6,#2b2687,#c0385d,#fa4d1f,#612aae,#fa4b1f,#e6ca35,#f4f4ca,#ffffff,#fefef8,#ebeb9d,#e6a30e,#e83d3a,#5d29b1,#df3c43,#fd4523,#8d3189,#5327ba,#8c318a,#a13478,#f13e33,#7f2f95,#6e2ca4,#8c318a,#e69f0d,#e23c40,#fc4722,#da3b47,#e77b03,#e6d34e,#eeeeab,#ededa7,#e6d450,#e68c05,#cc3953,#b1366b,#e6a60f,#b63766,#5027bc,#7a2e99,#fd4623,#dc3b45,#5e29b1,#772d9c,#e53c3d,#e87904,#ff4126,#cf3a51,#e87904,#e6c528,#e6e071,#e6dd68,#e6c01d,#ef670e,#a93572,#4026ab,#d03a4f,#ef670f,#5b29b3,#322693,#782e9b,#b83764,#5828b5,#352697,#4826b8,#772d9b,#6b2ba6,#3f26a8,#37269b,#6a2ba6,#943283,#5728b7,#2e268c,#8c318b,#f23e32,#913286,#5027bd,#e73d3b,#e5a50f,#e6df6e,#eeeea9,#eeeeac,#e6dd68,#e68f06,#ba3762,#b73765,#cf3a50,#6d2ca4,#2b2687,#762d9d,#782e9b,#4026ab,#20206b,#4926b9,#4726b5,#2c2689,#181850,#362699,#322694,#1e1e64,#111139,#272681,#25257d,#151547,#0f0f33,#222272,#20206a,#101036,#0f0f32,#20206a,#1d1d60,#0d0d2d,#0f0f32)"></i><i style="position:absolute;left:370px;top:0;width:5.5px;height:313.25px;background:linear-gradient(#2e268c,#4f27bd,#4326af,#1b1b5b,#2f268f,#5a28b4,#5f29b0,#222270,#312692,#722da0,#9b337e,#2b2687,#352697,#a83572,#fa4d1f,#38269d,#3a26a1,#f7531b,#e6b917,#792e9b,#f06410,#e6d24b,#f7f7d8,#ffffff,#fdfdf5,#e9e992,#e6a10d,#b73765,#682ba8,#e6a30e,#e6be19,#fe4225,#fa4c1f,#e68201,#f35e14,#5a28b4,#4726b7,#a83573,#aa3571,#292684,#3e26a7,#752d9d,#5e29b0,#1f1f67,#3e26a8,#5b29b3,#3f26a9,#1a1a58,#3f26a9,#5127bc,#362699,#191954,#4126ac,#5628b8,#39269f,#1a1a56,#4426b1,#6d2ca4,#4826b8,#1b1b5b,#4a26bb,#a13479,#762d9d,#1e1e63,#5e29b1,#fa4c1f,#cc3953,#222272,#89308d,#e6bb18,#ea7506,#df3c43,#e6b114,#ebeb9c,#fdfdf5,#ffffff,#f7f7d9,#e6c932,#fc4821,#832f92,#f03e33,#e5ce40,#ea3d38,#8c318a,#fa4d1f,#f06510,#7c2e98,#fc4821,#e6980a,#fe4225,#e67f01,#e6d655,#f6f6d1,#fdfdf4,#f0f0b2,#e6c323,#f7551a,#ad356e,#d23a4d,#e68703,#ed6c0b,#4b26bc,#e63d3c,#f8511c,#c4385a,#5227ba,#e6990a,#f35e14,#8d318a,#a43476,#e77d02,#e6dd69,#f8f8da,#f9f9e0,#ebeb9a,#e6bc18,#fa4d1e,#853090,#e6aa11,#ae366d,#652aab,#5427b9,#fd3f28,#652aab,#4f27be,#4126ab,#8b318b,#4926b9,#4d26bf,#36269a,#5528b8,#4a26bb,#5027bd,#312692,#4a26bb,#662aaa,#5728b6,#322693,#662aaa,#a33477,#672ba9,#3b26a1,#af366c,#f8521b,#933285,#f55a17,#e6c426,#eaea95,#f1f1b7,#e9e993,#e6c62c,#ee6b0c,#a43476,#4a26bb,#af366d,#f94e1d,#5c29b3,#38269d,#5f29b0,#993380,#3f26a9,#292685,#3c26a4,#5628b8,#2e268c,#1e1e64,#2a2685,#39269e,#21216e,#16164a,#1d1d62,#2b2688,#1f1f68,#12123b,#161649,#242478,#1e1e65,#0f0f31,#12123a,#21216d)"></i><i style="position:absolute;left:375px;top:0;width:5.5px;height:313.25px;background:linear-gradient(#302690,#4526b3,#3f26a9,#20206c,#332696,#4a26bc,#5427b9,#25257b,#3a26a0,#5f29b0,#8a318c,#2c2689,#4726b6,#8e3188,#f43e30,#37269b,#702ca2,#fa3f2b,#e69c0c,#be385f,#e69f0c,#ebeb9a,#fefefb,#ffffff,#f5f5cb,#e5cd3e,#f25f13,#722ca0,#bd3760,#e69207,#e6af13,#fd4424,#f65718,#ec6f0a,#fb4921,#4a26bc,#4d26be,#983380,#953283,#2b2687,#4126ac,#682ba9,#5528b9,#242478,#3d26a5,#4c26bf,#3d26a5,#222271,#3c26a4,#4726b6,#352698,#232374,#3d26a5,#4926b9,#38269d,#26267f,#3f26a8,#5c29b3,#4526b2,#2d268c,#4326af,#8b318b,#6a2ba7,#3b26a1,#4b26bd,#f03e33,#b33669,#5327b9,#6c2ca5,#e69d0c,#f35e14,#fc3f29,#e59b0b,#e6de6b,#f0f0b6,#efefb1,#e5d95e,#e68000,#a53575,#812f94,#b73765,#e6b716,#de3c43,#923286,#e93d39,#f94e1e,#a03479,#f43e30,#e77c02,#fa4b1f,#e6a30e,#eaea94,#fffffd,#ffffff,#f6f6d3,#e6cb3a,#f55917,#812f93,#c83956,#ec6f0a,#f65718,#4426b0,#ea3d39,#fa3f2a,#b73765,#4a26bb,#e68402,#fb4a20,#923286,#933285,#e87904,#e6df6f,#fcfcf0,#ffffff,#f9f9e2,#e6dc65,#e77b03,#8c318b,#e68f06,#d73b49,#5427b9,#4b26bd,#df3c43,#7d2e97,#4726b6,#3d26a6,#7b2e99,#5427b9,#4426b1,#342697,#4826b8,#4b26bd,#4526b2,#2f268e,#39269f,#5e29b1,#4826b8,#2c2688,#39269e,#903287,#5327ba,#2a2686,#4926b9,#fc3f29,#6f2ca3,#c1385c,#e68402,#e6d34e,#efefb1,#f2f2bc,#eaea94,#e6c221,#f7551a,#692ba7,#722da0,#f63f2e,#4b26bd,#232374,#4626b5,#87308e,#38269d,#1b1b5a,#342696,#4b26bc,#292684,#141441,#26267e,#342697,#1d1d62,#0f0f33,#1c1c5e,#282682,#1c1c5c,#0f0f32,#16164a,#21216d,#1b1b59,#0f0f30,#13133f,#1e1e63)"></i><i style="position:absolute;left:380px;top:0;width:5.5px;height:313.25px;background:linear-gradient(#2a2685,#302690,#3e26a7,#3e26a6,#352698,#3f26a8,#3f26a9,#3d26a6,#4926ba,#5d29b1,#4126ac,#3e26a6,#853090,#9f347a,#4526b3,#4026ab,#fc3f29,#f8501c,#8f3188,#f35d15,#e5cc3c,#f6f6d3,#ffffff,#fdfdf6,#e7e785,#e69b0b,#ed3e36,#5928b5,#ea7506,#f26013,#fd4523,#fa4b1f,#ec700a,#fd4028,#923286,#4c26be,#6a2ba6,#6d2ca4,#6f2ca3,#38269d,#4426b1,#4626b5,#5227bb,#352698,#38269e,#3b26a3,#4926b9,#342696,#3c26a3,#3a26a0,#4726b6,#352698,#4e27be,#4126ad,#4826b7,#39269f,#8d318a,#5528b8,#4b26bd,#4626b4,#fe4324,#853090,#5b29b4,#722ca0,#e6b415,#db3b46,#7a2e99,#b23669,#e68603,#e6dc66,#f6f6d2,#f6f6d2,#e6e57d,#e6a50f,#fb4b20,#c93955,#e6b716,#8c318a,#ba3762,#8f3188,#fc4722,#6b2ba6,#fb4b20,#8c318a,#933284,#86308f,#e6ae13,#c63958,#7e2f96,#f03e33,#e6b917,#f0f0b2,#ffffff,#ffffff,#f1f1b9,#e6be19,#fb4a20,#d13a4e,#e6aa11,#c53859,#9d337c,#87308e,#fe4324,#e23c3f,#fa4c1f,#642aac,#9c337d,#e68301,#e6b616,#782e9b,#f65519,#e6c11e,#f1f1bb,#ffffff,#ffffff,#ececa1,#e5a911,#e53d3d,#662aaa,#e6b515,#e68101,#4226ad,#4526b3,#fb4a20,#c93955,#4126ac,#4126ab,#983380,#742d9e,#4326af,#3e26a6,#5a29b4,#5b29b3,#4726b6,#3c26a3,#4226ad,#752d9e,#5227bb,#3a26a1,#4126ac,#c4385a,#6d2ca4,#39269f,#5d29b2,#ea7506,#983380,#aa3571,#e68502,#e6e072,#fbfbea,#fefef9,#f5f5cc,#e5d95e,#e68804,#ad356e,#953283,#eb7208,#642aac,#2e268d,#5928b5,#bc3761,#4026aa,#242477,#3c26a4,#662aaa,#2d268b,#1a1a56,#2c2689,#3e26a7,#222272,#16164a,#20206b,#2c268a,#20206a,#151548,#181850,#21216f,#1f1f67,#151546,#12123e)"></i><i style="position:absolute;left:385px;top:0;width:5.5px;height:313.25px;background:linear-gradient(#25257a,#2a2685,#4726b5,#5327ba,#312691,#3a26a0,#4926b9,#5828b5,#4626b4,#5528b8,#4b26bd,#6a2ba7,#7e2e96,#963282,#5127bc,#913286,#f13e32,#fc4821,#f13e32,#e6ae13,#ebeb9b,#fefef9,#ffffff,#f4f4c8,#e6c222,#f55917,#c1385c,#c0385d,#ed6d0b,#f7541a,#fd4028,#f7541a,#f35d15,#d53a4b,#88308e,#622aad,#702ca1,#652aab,#802f94,#5027bd,#4226ad,#4226ae,#6a2ba6,#4126ac,#342697,#36269a,#622aae,#3d26a6,#38269d,#352698,#5f29b0,#3c26a3,#4a26bb,#3d26a5,#5e29b0,#3e26a7,#86308f,#4e26be,#5f29b0,#4826b8,#fb3f2a,#7e2f96,#612aae,#722ca0,#e6ac12,#d23a4e,#a33477,#f35e14,#e5ce41,#f7f7d5,#ffffff,#fdfdf3,#e6e57e,#e69f0d,#fb4921,#c3385b,#e6af13,#87308e,#b1366a,#8b318b,#ff4026,#692ba8,#fa4b1f,#88308e,#8c318a,#842f91,#e6ac12,#b73765,#742d9f,#d83b49,#e6a50f,#e6e276,#f5f5cd,#f3f3c4,#e6df6e,#e68d06,#d43a4c,#d13a4e,#e6a910,#963382,#a13479,#933285,#fc4821,#cb3953,#fd4523,#87308f,#ac356f,#e87a03,#e6ae12,#a43476,#e73d3b,#e68301,#e5d85b,#f7f7d9,#ffffff,#fcfcf1,#e6e683,#e69b0b,#d63b4a,#e6ac12,#e87a04,#7b2e99,#5d29b2,#fd4424,#bf385e,#5e29b1,#5227bb,#913286,#6c2ca5,#5628b7,#4c26bf,#5427b9,#5227ba,#5d29b2,#4b26bd,#3e26a7,#6d2ca4,#712ca1,#4c26bf,#3e26a6,#b93763,#983381,#5327ba,#5628b7,#ed6e0b,#f03e33,#692ba8,#d73b49,#e6a10e,#e7e789,#fcfcf1,#ffffff,#f8f8db,#e6da61,#ec6f0a,#8f3188,#ee6b0d,#e43c3e,#4226ae,#5427b9,#b33669,#812f94,#30268f,#3a26a1,#612aae,#4926b9,#21216e,#2a2686,#3c26a4,#362699,#1b1b59,#1f1f67,#2b2687,#2d268b,#191952,#16164a,#202069,#292685,#17174e,#101036)"></i><i style="position:absolute;left:390px;top:0;width:5.5px;height:313.25px;background:linear-gradient(#342696,#111138,#4926b9,#732d9f,#4626b5,#13133f,#4c26bf,#a13479,#762d9d,#16164b,#5828b6,#fc4622,#cf3a50,#1b1b5b,#702ca2,#e6af13,#e87904,#b33669,#e69709,#e6e47b,#fbfbea,#ffffff,#fafae8,#e6d85b,#ef690e,#782e9b,#933284,#e6c932,#fe4324,#362699,#8a318c,#f0660f,#b2366a,#332695,#89308d,#fb3f2a,#d23a4e,#d23a4e,#f03e34,#d43a4c,#652aab,#36269a,#602aaf,#7d2e97,#5b29b3,#26267f,#5e29b1,#5528b8,#4126ac,#282683,#5e29b1,#4726b6,#4226ae,#2c2689,#5e29b0,#4926ba,#5f29b0,#322693,#5f29b0,#652aab,#a73573,#3b26a2,#612aae,#a63574,#f45c15,#792e9a,#ef690e,#e6c62a,#f2f2bc,#ffffff,#ffffff,#ececa0,#e6a60f,#d73b4a,#7c2e97,#de3c43,#fd4623,#3c26a4,#642aac,#8d318a,#903187,#39269f,#642aac,#782e9b,#5b29b3,#3a26a0,#692ba8,#99337f,#5528b8,#4526b2,#8b318b,#fd4424,#bc3761,#c93956,#f7541a,#e6ab11,#e6da60,#e8e88e,#e6e47b,#e6b214,#fd4028,#88308d,#db3b46,#f35f14,#4926b9,#6f2ca3,#f65718,#fa4c1f,#3a26a0,#ad366e,#e6b917,#e68101,#f73f2e,#e6c221,#f4f4c7,#ffffff,#fefef9,#efefaf,#e6cb39,#f45a16,#722ca0,#d73b49,#e6cb39,#ed3d36,#1d1d61,#8d318a,#f06510,#792e9a,#1a1a56,#6d2ca4,#ca3955,#4526b3,#191954,#602aaf,#963382,#37269b,#1b1b5a,#622aad,#a13479,#39269e,#20206a,#742d9f,#ed3e36,#4726b7,#282682,#9f347a,#e68c05,#712ca1,#88308e,#e68302,#e6de6a,#f9f9e2,#ffffff,#fcfcf1,#e6e174,#e69408,#c53959,#e13c40,#e67d01,#4026aa,#21216d,#87308e,#c73957,#292685,#191953,#4f27bd,#6a2ba6,#1b1b59,#13133f,#3a26a1,#4026aa,#11113a,#13133e,#312691,#2e268c,#0b0b25,#131340,#2b2688,#222273,#070718)"></i><i style="position:absolute;left:395px;top:0;width:5.5px;height:313.25px;background:linear-gradient(#39269f,#1f1f67,#4626b4,#652aab,#4b26bd,#222271,#5728b7,#9a337f,#802f94,#282682,#812f93,#fb4920,#df3c42,#342696,#d73b49,#e6b917,#e68603,#ef670f,#e5d758,#f9f9e0,#ffffff,#fbfbeb,#e6e47c,#e69d0c,#cc3953,#4826b8,#e33c3f,#e6d047,#f94e1e,#3b26a2,#8a318c,#ed6e0b,#c1385d,#3a26a0,#87308f,#fe4225,#dd3b44,#dc3b45,#e93d39,#d93b47,#6d2ca4,#3c26a4,#4826b9,#7f2f95,#642aac,#2d268b,#4726b5,#5628b8,#4b26bd,#732d9f,#a63574,#9c337c,#7c2e97,#4626b5,#5327ba,#5127bc,#692ba8,#36269a,#652aab,#772d9c,#b63766,#3d26a6,#943284,#c4385a,#ef680e,#de3c43,#e6b315,#ededa7,#fefef9,#ffffff,#f3f3c1,#e6c62a,#f8521b,#752d9d,#be385f,#ec3d37,#f8511c,#3b26a2,#7e2e96,#953282,#9a337e,#36269a,#6029af,#812f93,#652aab,#352698,#5728b7,#a73574,#5e29b0,#362699,#662baa,#f94f1d,#822f92,#732d9f,#f7541a,#e6b515,#e6df6f,#ebeb99,#e6e684,#e6bc18,#fc4722,#a63574,#ff4026,#ee6b0d,#4c26bf,#4726b5,#f55917,#f65718,#39269f,#4c26bf,#e6c11f,#e68e06,#6d2ca4,#f65619,#e6c72e,#eeeeac,#fdfdf7,#ffffff,#f4f4ca,#e6c52a,#fc4622,#822f92,#e6d24b,#fe4027,#26267e,#602aaf,#ee6a0d,#842f91,#242477,#4c26bf,#ca3955,#4a26bc,#25257d,#4926b9,#933285,#3f26a8,#2a2686,#4b26bd,#9f347b,#4726b6,#332694,#622aae,#f33e31,#712ca1,#4026aa,#943284,#e59609,#cc3953,#5928b5,#c93955,#e69207,#e6de6b,#f9f9e3,#ffffff,#fafae8,#e6db62,#e97606,#df3c42,#e68803,#cb3954,#3d26a5,#842f91,#d33a4d,#6e2ca4,#292685,#4c26be,#702ca1,#4126ab,#1d1d5f,#38269d,#4226ae,#2d268b,#17174e,#2d268a,#2f268e,#20206a,#151547,#26267e,#232374,#17174c)"></i><i style="position:absolute;left:400px;top:0;width:5.5px;height:313.25px;background:linear-gradient(#3a26a0,#4826b7,#39269f,#242477,#3b26a2,#622aae,#4b26bc,#272680,#3d26a6,#9a337f,#7d2e96,#2d268a,#4226ae,#fa4b1f,#d83b48,#8b318b,#ec7009,#e6cd3f,#f5f5ce,#ffffff,#fefef8,#e8e88b,#e69408,#b33669,#5528b8,#f16311,#913286,#3c26a4,#4b26bd,#bb3762,#4d26bf,#332694,#4e26be,#7b2e98,#3b26a1,#3a26a1,#652aab,#6b2ba6,#4726b6,#3d26a5,#953283,#842f91,#2c268a,#352699,#fe4225,#cc3953,#4926ba,#ae366d,#e67f01,#e6ca37,#e6e47b,#e6df6f,#e6c426,#ed6d0b,#cc3952,#4c26be,#f65719,#b0366b,#d13a4f,#4c26be,#b1366a,#c2385c,#e68101,#5f29b0,#fd4523,#e6a20e,#e7e786,#fdfdf5,#ffffff,#f6f6d1,#e5cb3a,#f55818,#87308f,#f83f2d,#ee6a0d,#4026ab,#4a26bc,#923286,#b1366a,#39269e,#4c26be,#5e29b1,#612aae,#38269e,#612aae,#4826b8,#3f26aa,#3e26a8,#8e3188,#4826b9,#342696,#4c26bf,#f03e34,#6029af,#4726b5,#812f93,#e69709,#cc3953,#b83765,#e77d02,#e6d554,#efefb0,#f2f2be,#e6dd69,#e69e0c,#f33e30,#9f347a,#d53b4b,#e6a10d,#e33c3e,#f03e34,#993380,#eb7109,#e68402,#e69609,#e68e06,#e8e88c,#fbfbeb,#ffffff,#fafae6,#e6e276,#e69709,#cc3953,#7e2f96,#df3c43,#e6ae13,#f25f13,#5928b5,#853090,#fc4622,#a23478,#4826b7,#612aae,#9b337e,#5928b5,#4326af,#622aae,#6f2ca2,#3e26a7,#4226ae,#88308e,#732d9f,#362699,#4626b5,#e83d3a,#a53575,#38269e,#5828b6,#e59609,#fa4d1f,#963282,#e68402,#e6e071,#fafae8,#ffffff,#fafae4,#e5d75a,#e68101,#aa3571,#762d9c,#e5a911,#b0366b,#26267f,#4926ba,#fc3f29,#5928b5,#1c1c5c,#36269a,#88308d,#37269c,#17174b,#2b2688,#4b26bd,#25257d,#151547,#24247a,#362699,#1a1a57,#151546,#21216c)"></i><i style="position:absolute;left:405px;top:0;width:5.5px;height:313.25px;background:linear-gradient(#4926ba,#4d26bf,#3b26a1,#20206b,#5828b6,#702ca2,#5227ba,#232373,#7a2e99,#b53767,#8f3188,#282682,#c1385c,#f06510,#fc3f29,#fb4921,#e6ca35,#f4f4c9,#fffffe,#fdfdf6,#eeeea8,#e6bb18,#f63f2e,#5928b5,#e23c40,#e67f00,#a93571,#2f268f,#933284,#d93b47,#5828b6,#2d268b,#792e9a,#8b318b,#39269f,#2d268c,#832f92,#792e9a,#2c2689,#312691,#ba3763,#943283,#2c2689,#39269f,#f35e14,#ed3d36,#5127bc,#cb3954,#e6980a,#e6d85c,#ededa4,#eaea96,#e6d34e,#e68301,#ec3d36,#9c337d,#ea7407,#cd3952,#fd4028,#5a29b4,#d23a4d,#e13c40,#e6a10d,#712ca1,#f35e14,#e6ba17,#ebeb9a,#fafae4,#f9f9e0,#e6dc67,#e68201,#ae366d,#712ca1,#f7531b,#e68803,#812f93,#7c2e97,#a83573,#d13a4f,#4026aa,#5a29b4,#692ba7,#702ca2,#4026aa,#732d9f,#4b26bd,#4326b0,#4626b5,#a83573,#4c26be,#352698,#5f29b0,#f94e1d,#6b2ba6,#342697,#983380,#e6b817,#a93571,#c73957,#e69609,#e6e57e,#fdfdf5,#ffffff,#f9f9df,#e6d554,#e77b03,#db3b46,#f63f2e,#e6b013,#fd4523,#f94e1e,#9f347b,#fb4921,#e6a40f,#e6b917,#e33c3f,#e6a810,#e6df6d,#f7f7d8,#ffffff,#fffffd,#e6e276,#e68602,#bd3760,#6a2ba7,#e6cb39,#e77c02,#4926b9,#5127bc,#f26013,#c0385d,#4726b7,#4e26be,#b63766,#672ba9,#4726b7,#642aac,#7f2f95,#4226ad,#4926b9,#973381,#832f92,#352698,#4e27be,#fc4821,#c3385b,#312691,#652aab,#e6b716,#ef670f,#4a26bb,#ee3e36,#e6ad12,#ececa2,#fefefb,#ffffff,#f2f2bc,#e6bf19,#fc3f29,#8c318a,#e6c830,#d03a4f,#26267e,#5728b6,#f65718,#692ba8,#1c1c5c,#3c26a4,#9f347a,#3c26a4,#17174e,#302690,#5828b5,#282683,#17174c,#292684,#3a26a1,#1b1b5b,#17174d,#25257a)"></i><i style="position:absolute;left:410px;top:0;width:5.5px;height:313.25px;background:linear-gradient(#4326af,#1d1d62,#282683,#5428b9,#5428b9,#1f1f69,#2a2687,#7a2e9a,#822f93,#242479,#2e268c,#c83957,#d93b48,#822f92,#f06410,#e6c934,#f3f3c5,#fffffe,#fefef8,#ececa0,#e6a40f,#c73958,#4826b7,#f53e2f,#a13478,#342697,#342696,#953283,#5f29b0,#302690,#322693,#682ba9,#4626b4,#38269c,#322693,#4e27be,#4626b5,#4926b9,#332695,#4726b6,#622aae,#7c2e98,#352698,#4426b1,#a83572,#db3b46,#38269d,#4d26bf,#f16212,#e68603,#df3c42,#e33c3f,#f03e33,#e6a60f,#e6e174,#efefae,#e7e786,#e6be19,#f65619,#863090,#e69408,#f35d14,#4626b5,#4726b6,#fc4722,#d83b48,#d13a4e,#fe4324,#f7541a,#cb3954,#6a2ba7,#d03a50,#e68d05,#e6cc3b,#e6df6f,#e6d95d,#e6af13,#fa4c1f,#853090,#4726b5,#e03c42,#812f93,#4826b8,#4226ae,#822f93,#5c29b2,#5b29b3,#4026aa,#5928b4,#6e2ca3,#86308f,#3f26a9,#5e29b1,#b93764,#d93b47,#4226ae,#913286,#ec7009,#e77b03,#ff4026,#e6b817,#f0f0b2,#ffffff,#ffffff,#eeeeab,#e6b315,#f7531b,#a03479,#b53767,#e6980a,#e77c02,#c73957,#692ba8,#f73f2d,#e6970a,#ee6a0d,#7d2e97,#ec6f0a,#e5d047,#f5f5ce,#ffffff,#ffffff,#ebeb99,#e6b515,#fe4324,#772d9c,#e6a10e,#eb3d37,#222271,#4426b1,#fe4225,#812f93,#1f1f68,#3d26a6,#a63574,#4e26be,#20206c,#4026aa,#88308e,#4126ad,#26267f,#4c26bf,#9c337d,#4026ab,#322694,#7c2e98,#f13e33,#4926b9,#4726b7,#d73b49,#e69107,#a43476,#e68603,#e6e379,#fdfdf4,#ffffff,#f7f7d7,#e6d34e,#ef680e,#772d9c,#6d2ca4,#ec3d37,#e87804,#39269f,#4326b0,#87308f,#c0385e,#25257c,#312691,#4d26bf,#672ba9,#1a1a58,#242478,#39269e,#4026aa,#151545,#1b1b59,#2b2688,#2f268f,#12123c)"></i><i style="position:absolute;left:415px;top:0;width:5.5px;height:313.25px;background:linear-gradient(#4026ab,#101036,#4826b7,#782e9b,#5b29b3,#141441,#6a2ba7,#a43476,#983380,#181851,#b0366c,#fd4523,#fb4921,#fe4125,#e6c529,#f5f5cd,#fffffe,#fdfdf6,#efefae,#e6c323,#fe4027,#5428b9,#d63b4a,#f06510,#cb3954,#282682,#87308f,#c73957,#6e2ca4,#2e268c,#612aae,#853090,#4826b7,#3c26a4,#5027bd,#652aab,#4826b8,#5928b5,#4b26bd,#5327ba,#732d9f,#9c337d,#4c26be,#4b26bd,#d63b4a,#f9501d,#4f27bd,#4a26bb,#e69007,#e6bd19,#752d9e,#ab3570,#f45c15,#e6c932,#f3f3c5,#fdfdf3,#f6f6d0,#e6d75a,#e67f00,#a13479,#e6c72e,#e68e06,#5528b8,#4826b9,#eb7109,#fe4324,#5928b5,#4626b4,#f16311,#fd4523,#822f92,#fb3f2a,#e6b315,#e6e277,#f0f0b4,#eaea97,#e6cc3c,#e97705,#e73d3c,#722da0,#f8511c,#a83572,#712ca1,#4026aa,#9b337d,#792e9a,#88308e,#3c26a3,#5a29b4,#8f3188,#be385f,#3b26a2,#4226ae,#f43e30,#f65619,#3e26a7,#4626b4,#e6a50f,#e6b515,#a73573,#e77c02,#e6de6c,#ffffff,#ffffff,#f9f9e2,#e6d95d,#e69609,#d93b47,#772d9c,#e6cb38,#e6b515,#f53f2f,#7d2e97,#f16411,#e6cc3b,#e6980a,#bb3762,#f33e31,#e68101,#e6cf44,#f3f3c3,#ffffff,#ffffff,#f0f0b2,#e6b716,#fd4523,#e6d24d,#f65718,#8a308c,#5d29b2,#ec7009,#983381,#4a26bb,#4d26bf,#e03c42,#5528b9,#352699,#4f27bd,#b53767,#3f26aa,#30268f,#622aad,#d23a4e,#3f26a8,#3a26a1,#8a318c,#f26112,#4c26be,#5a29b4,#e03c42,#e6c62b,#b43668,#e69509,#e9e991,#fefef9,#fefef9,#f4f4c6,#e6d552,#eb7109,#7d2e96,#853091,#f26013,#e6ad12,#3f26a9,#4b26bd,#b43668,#fa3f2b,#282683,#36269a,#692ba7,#853090,#1a1a57,#272681,#4426b2,#4a26bb,#111139,#1d1d60,#352699,#362699,#0b0b26)"></i><i style="position:absolute;left:420px;top:0;width:5.5px;height:313.25px;background:linear-gradient(#4b26bd,#37269c,#6029af,#4b26bd,#8a318c,#5227bb,#802f95,#5a29b4,#fe4225,#993380,#be3860,#943284,#f55917,#e6c11e,#f4f4c8,#ffffff,#fdfdf7,#ecec9e,#e6b114,#e23c40,#fc4622,#c0385d,#983381,#5828b6,#8f3188,#6e2ca4,#722ca0,#4926ba,#4d26bf,#4526b2,#652aaa,#4626b5,#36269a,#36269a,#6c2ca5,#4a26bb,#282682,#30268f,#87308e,#6029af,#232374,#312691,#ca3954,#8e3189,#292684,#39269f,#ed6c0c,#e93d39,#802f94,#f55a17,#e6bc18,#e6d655,#e5d656,#e6bc18,#e5ab11,#ef680e,#fe4028,#b53767,#e68101,#9e347b,#5c29b2,#5027bd,#e93d39,#662baa,#7b2e98,#5f29b0,#a53575,#5f29b0,#d73b4a,#87308e,#9b337e,#832f92,#e68904,#d93b47,#eb7109,#e6ad12,#e6c62c,#e6e681,#ececa1,#e6d452,#e68b05,#d93b48,#9c337d,#853090,#e59408,#a63574,#7c2e98,#5127bb,#e83d3a,#a13479,#722da0,#3d26a5,#923285,#ee3e35,#7d2e97,#302690,#933284,#e69006,#9e347b,#742d9f,#f26013,#e6d450,#f9f9e2,#ffffff,#fcfcef,#e8e88b,#e6990a,#a73574,#c73957,#e69208,#913286,#2c2689,#7b2e98,#f45c15,#9e347b,#39269f,#612aae,#e87804,#e33c3f,#9a337f,#e67f00,#e6e47b,#fcfcf0,#ffffff,#f9f9e0,#e6e070,#e6a810,#e73d3b,#632aad,#e97705,#983381,#2b2687,#4526b2,#d83b49,#652aaa,#312692,#3e26a7,#8e3189,#5127bb,#4226ae,#4626b5,#712ca1,#5928b5,#6d2ca5,#6d2ca4,#682ba8,#7f2f96,#c3385a,#bf385e,#722ca0,#bc3761,#ea7407,#e5d553,#f4f4c6,#f6f6d0,#ededa3,#e6c62a,#f26013,#9b337e,#a13478,#b0366b,#4626b4,#5a29b4,#5528b8,#5f29b0,#342696,#3c26a3,#37269c,#3c26a3,#292684,#2c2689,#26267e,#2b2687,#262680,#222270,#1a1a56,#20206b,#25257c,#1b1b5a,#12123b)"></i><i style="position:absolute;left:425px;top:0;width:5.5px;height:313.25px;background:linear-gradient(#6c2ca5,#4426b2,#5828b6,#4926ba,#ca3954,#6c2ba5,#5a29b4,#632aad,#e68100,#b43668,#853090,#fe4125,#e6bc18,#f1f1b7,#ffffff,#fffffe,#efefae,#e6c01c,#f65619,#933284,#e68703,#802f94,#602aaf,#642aab,#d33a4d,#4a26bb,#642aac,#4a26bc,#722ca0,#3a26a1,#6d2ca4,#4626b5,#4226ae,#342696,#812f94,#4f27bd,#2e268d,#342697,#af366c,#762d9d,#222270,#3a26a0,#fa4b1f,#c0385d,#2f268e,#4e26be,#e6af13,#ef670f,#b2366a,#e68c05,#e6dc67,#ededa4,#ededa7,#e6dd69,#e6a30e,#cd3952,#5528b8,#853090,#e6c528,#dd3b44,#5628b7,#772d9c,#f25f13,#812f94,#a13479,#89308c,#c4385a,#722da0,#f45c15,#c73957,#89308d,#a63574,#e5cf44,#f26112,#f45b16,#e6c222,#f1f1bb,#ffffff,#ffffff,#f0f0b2,#e6c11e,#f55818,#8e3189,#c1385d,#e5d759,#f43e30,#652aab,#702ca1,#ed6d0b,#ed3d36,#712ca1,#4626b4,#d93b48,#ec7009,#8d3189,#352698,#db3b46,#e6d450,#cb3954,#6029af,#fd4523,#e6c427,#f1f1b9,#fcfcef,#fafae5,#eaea95,#e6a10d,#b43668,#f8521b,#e6d554,#aa3571,#26267f,#ad356e,#e6a00d,#ca3955,#332696,#7b2e99,#e6c220,#f45c15,#4826b7,#9c337d,#e68c05,#e6d95d,#f6f6d1,#fdfdf6,#f8f8dc,#e6d148,#f25f13,#7b2e98,#e6c01a,#ca3955,#4526b2,#4c26be,#f55a17,#772d9c,#4226ae,#3e26a7,#c0385d,#5928b5,#5a28b4,#38269e,#89308d,#662baa,#9a337e,#4d26bf,#9c337d,#a0347a,#f8501c,#4126ac,#8f3188,#f23e32,#e6a710,#e6e276,#f2f2bd,#ebeb9d,#e5ce41,#e97606,#bc3761,#db3b46,#ef3e35,#2f268e,#4026ab,#7c2e98,#7d2e97,#232374,#302690,#4826b7,#4526b3,#1a1a57,#272680,#342696,#2f268e,#1a1a56,#26267f,#26267d,#20206b,#1a1a57,#26267e,#1c1c5d,#161649)"></i><i style="position:absolute;left:430px;top:0;width:5.5px;height:313.25px;background:linear-gradient(#3f26a9,#2e268c,#bb3762,#662baa,#652aab,#4226ad,#f45a16,#943283,#b43668,#622aad,#f8521c,#e6b515,#ededa7,#fefefb,#ffffff,#f1f1ba,#e6b917,#f23e32,#f35e14,#ba3763,#8c318a,#4926b9,#c4385a,#732d9f,#4a26bb,#4026ab,#8c318b,#4c26be,#342697,#4426b2,#782d9b,#3f26a9,#2b2687,#5f29af,#752d9e,#38269d,#322693,#9f347a,#802f94,#362699,#4826b7,#f8521b,#9c337d,#7b2e99,#fd4623,#e5a50f,#e6d450,#e6d149,#e6b314,#f06410,#f13e33,#fd4523,#fd4424,#f8521b,#b0366b,#4226ae,#4926b9,#a83573,#923285,#3a26a0,#38269c,#792e9a,#9c337d,#3a26a1,#312691,#7e2e96,#d73b49,#4626b5,#37269c,#bd3860,#ed6c0c,#6c2ca5,#9d347c,#ea7507,#e6cb38,#ededa5,#f5f5cd,#f4f4c7,#e6dc67,#e87904,#943284,#fc4722,#f7541a,#4726b6,#5027bd,#ce3a51,#c2385b,#342697,#3e26a8,#e63d3c,#ab3570,#2f268e,#4426b1,#ea7407,#d33a4d,#4326b0,#b43668,#e68402,#e6c62c,#e6d24b,#e6c831,#e69b0b,#fb4921,#f55917,#f7531b,#e77b03,#953283,#352698,#4526b2,#e33c3f,#6c2ca5,#232374,#38269d,#ac356f,#6d2ca4,#1b1b5a,#37269b,#ba3763,#8b318b,#1c1c5e,#4326b0,#fb4921,#d63b4a,#fb4a20,#f35e14,#f55917,#e6980a,#e6c935,#e6d34d,#e6c62d,#e77c02,#c2385c,#5528b8,#f45b16,#973381,#632aad,#4c26bf,#c3385b,#692ba8,#b63766,#662aaa,#963382,#9d337c,#f65718,#e6b013,#e6d85b,#e6d047,#e5a810,#f8521b,#b23669,#5327ba,#bd3860,#e23c40,#f35d15,#fe4324,#b2366a,#682ba8,#622aad,#36269a,#3e26a8,#2a2686,#4026aa,#282682,#2b2688,#20206c,#302690,#1c1c5e,#1e1e65,#181851,#272680,#161649,#151546,#181851,#262680,#13133f,#0f0f31,#191953,#26267f,#111139,#0a0a22)"></i><i style="position:absolute;left:435px;top:0;width:5.5px;height:313.25px;background:linear-gradient(#1d1d5f,#38269e,#fd4523,#8e3189,#242477,#5c29b2,#e6a911,#df3c43,#3c26a4,#bd3860,#e6a710,#ebeb9a,#fdfdf4,#ffffff,#f7f7d6,#e6d046,#f55a17,#a83573,#e6ad12,#be385f,#1d1d62,#6c2ca5,#fa4c1f,#732d9f,#181850,#5227bb,#b33669,#4c26be,#1d1d5f,#5c29b2,#8a308c,#4126ab,#292685,#8e3189,#853090,#3a26a1,#3e26a8,#fc3f29,#99337f,#39269f,#702ca1,#e6a810,#d53a4b,#b63766,#e68302,#e6d758,#f1f1b8,#efefb1,#e6df6e,#e6a20e,#fe4324,#5427b9,#c4385a,#e6a60f,#a03479,#312691,#732d9f,#fe4125,#993380,#312692,#4626b4,#ad366e,#c83956,#352698,#342696,#b53767,#f35d15,#3d26a6,#37269c,#f8521b,#e6c11d,#5728b7,#f03e33,#e6b315,#e8e88b,#efefb0,#ececa0,#e6d554,#e68803,#973381,#37269b,#e69308,#e6a20e,#30268f,#26267f,#f35d15,#f8511c,#242479,#36269a,#eb7108,#fa3f2b,#232376,#5628b8,#e6c934,#f16212,#602aaf,#fd4523,#e6c11f,#eaea97,#efefb0,#eaea98,#e6d045,#e97805,#842f91,#a43476,#e6ce40,#cd3952,#16164b,#642aab,#ed6c0c,#923286,#17174c,#4326af,#f23e31,#953283,#191954,#37269b,#fd4423,#d13a4e,#1f1f68,#39269e,#e69007,#ee690d,#39269f,#8d318a,#e77b03,#e6d148,#ececa2,#f2f2bd,#ecec9e,#e6c01c,#f7551a,#762d9d,#e6aa11,#ed3e36,#bb3762,#6c2ca5,#fb4b20,#983380,#f65718,#973381,#ca3955,#ec3d37,#e69609,#e6dd69,#f4f4c7,#efefb1,#e6d95e,#e68f06,#ed3d36,#7d2e96,#f35d15,#5c29b2,#642aac,#5428b9,#a43476,#3d26a5,#5227bb,#3e26a8,#5928b5,#2c268a,#3f26a9,#2f268d,#3a26a0,#20206c,#2f268f,#21216f,#282683,#18184f,#26267f,#1a1a57,#1c1c5d,#16164a,#26267f,#17174c,#131340,#16164b,#26267e,#141444,#0d0d2d)"></i><i style="position:absolute;left:440px;top:0;width:5.5px;height:313.25px;background:linear-gradient(#38269d,#923285,#853090,#692ba8,#5127bc,#fb4a20,#df3c42,#802f95,#8e3188,#ea7407,#e6dd6a,#fcfcef,#ffffff,#f9f9e2,#e6dd6a,#e67f00,#87308f,#fd4523,#e33c3f,#602aaf,#5127bb,#913286,#8d3189,#4f27be,#4226ad,#5f29b0,#682ba9,#4926ba,#4526b3,#5c29b2,#5728b6,#4726b6,#6a2ba7,#86308f,#5428b9,#4626b4,#c4385a,#e73d3c,#632aac,#a73574,#f45c16,#e6ac12,#e5cf44,#e6c932,#e69308,#f43e30,#f26013,#f35f14,#fb3f2a,#af366d,#702ca1,#4226ae,#973381,#682ba8,#5928b5,#4026aa,#7e2f96,#5327ba,#5928b4,#4126ad,#a63574,#692ba8,#5e29b0,#4a26bb,#f7541a,#a13478,#702ca2,#ab3570,#ef670f,#e6b315,#e6d149,#e6c529,#e68d05,#e63d3c,#fa4d1e,#f35e14,#f16212,#d23a4e,#983380,#5628b7,#cc3953,#4c26bf,#7b2e98,#5f29b0,#c2385c,#4526b2,#6a2ba7,#903287,#f8501c,#4826b7,#6e2ca3,#903187,#f26112,#e6be19,#e6e070,#e6db63,#e6ba17,#f16212,#f8521b,#f45b16,#fb4a20,#cb3954,#903187,#772d9c,#7c2e98,#6b2ba6,#602aaf,#4c26bf,#4826b8,#4c26be,#5b29b3,#4526b3,#3d26a6,#4626b5,#5c29b2,#5427b9,#4426b2,#4926b9,#652aab,#8c318b,#682ba8,#5c29b3,#7d2e97,#ff4026,#b43668,#d93b48,#e59a0b,#e6d75a,#eaea98,#e6e47c,#e6ba17,#f0660f,#e77d02,#e6be19,#e6d656,#e6dd68,#e68d06,#ed3e36,#8e3189,#ee3e35,#c0385d,#4e27be,#652aab,#b53667,#fc4722,#f16212,#f35f14,#ee3e35,#8f3188,#622aad,#4926b9,#4426b1,#312691,#4b26bc,#4626b4,#312691,#24247a,#4626b4,#3b26a3,#222273,#1b1b5b,#39269f,#2e268c,#181851,#141444,#2b2688,#21216d,#111138,#0f0f33,#232376,#1c1c5d,#0c0c29,#0f0f31,#242477,#1b1b5a,#09091e,#0f0f33,#242478,#1a1a57,#070718)"></i><i style="position:absolute;left:445px;top:0;width:5.5px;height:313.25px;background:linear-gradient(#4f27bd,#fc4821,#702ca2,#5027bc,#923285,#e6ba17,#ab356f,#842f91,#fc4622,#e6c425,#f4f4c6,#ffffff,#fdfdf7,#ebeb9a,#e6ac12,#f03e33,#f43e30,#e6b114,#802f94,#4c26be,#943284,#fd4623,#5528b8,#4b26bd,#6e2ca4,#a93571,#4726b7,#4a26bc,#782d9b,#a33476,#4526b2,#4a26bb,#c1385d,#f33e31,#4626b4,#4b26bc,#e97605,#e69408,#6f2ca2,#ff4026,#e5aa11,#e6e47a,#f2f2bc,#f0f0b2,#e6d656,#e68201,#bf385f,#5928b5,#e6a710,#f26112,#4826b7,#4b26bd,#f94e1e,#b53767,#4826b8,#4a26ba,#e73d3b,#8e3189,#4926b9,#5027bc,#f45c15,#b53667,#4b26bd,#702ca2,#e6c427,#f7531b,#812f93,#fb4921,#e6b816,#e7e785,#f2f2c0,#eeeeaa,#e6d24d,#e97606,#b53767,#ba3763,#e6d046,#b83765,#4e26be,#903187,#e67d01,#732d9f,#4f27be,#a13478,#ea7507,#6e2ca3,#5027bd,#fe4225,#e6c11e,#9b337e,#86308f,#f94f1d,#e6c830,#f4f4c6,#ffffff,#fefefa,#ededa4,#e6b013,#fc3f29,#e87804,#e69609,#712ca1,#5327ba,#d63b4b,#e23c40,#4726b6,#5327ba,#89308d,#802f94,#3b26a3,#5427b9,#752d9d,#602aaf,#4826b8,#722ca0,#953283,#752d9d,#3f26a9,#652aab,#ff4026,#bd3760,#3d26a5,#832f92,#e6ab11,#ef680e,#fe4125,#e6b616,#f1f1ba,#ffffff,#f0f0b5,#e6df6f,#e6c11d,#e6cc3c,#eaea95,#fafae6,#ffffff,#e5d554,#eb7308,#d93b47,#e59b0b,#eb7208,#4826b8,#692ba7,#f13e32,#b63766,#4526b3,#5828b6,#86308f,#6029af,#4226ae,#4d26bf,#4c26be,#3c26a3,#4226ae,#4a26bb,#37269c,#2a2686,#3e26a8,#3f26a9,#282682,#1e1e64,#332695,#312692,#1c1c5e,#151548,#272681,#232376,#141441,#0f0f33,#20206b,#1e1e65,#0f0f31,#0d0d2c,#20206c,#1e1e63,#0c0c27,#0d0d2b,#21216e,#1d1d60,#0a0a20)"></i><i style="position:absolute;left:450px;top:0;width:5.5px;height:313.25px;background:linear-gradient(#88308d,#953282,#4926b9,#302690,#ff4126,#ff4026,#5b29b3,#9a337f,#e68201,#e6e175,#fcfcf0,#ffffff,#f8f8db,#e6d657,#ed6d0b,#7e2e96,#f26013,#d63b4a,#4626b5,#342696,#b63767,#89308c,#4026ab,#2e268c,#7b2e98,#7c2e97,#3f26aa,#2b2688,#7f2f95,#a13479,#4326b0,#2b2687,#c83956,#fd4424,#5027bc,#ac356f,#ea7506,#e6c425,#e6d85b,#e5cd3e,#e69709,#fa4c1f,#ed6c0b,#f26112,#ff4026,#ce3a51,#4b26bc,#322693,#9f347a,#792e9a,#4026aa,#3d26a6,#88308e,#5227bb,#3b26a1,#5a28b4,#b0366c,#4826b7,#38269d,#a43475,#f7541a,#4b26bd,#973381,#f25f13,#e6b816,#e6d657,#e6d24d,#e6a710,#fb4b20,#f8521b,#ed6e0b,#f26013,#f03e33,#87308f,#4c26bf,#953283,#8b318c,#4726b6,#5027bd,#812f93,#6a2ba7,#4126ad,#832f92,#a63574,#7b2e99,#4026ab,#ec3d37,#fb4b20,#bf385e,#722da0,#ed3e36,#e6b415,#efefb1,#ffffff,#fffffe,#efefb1,#e6bc18,#ff4126,#f65619,#cc3953,#b53667,#5b29b3,#a93572,#702ca2,#b33668,#7c2e98,#662aaa,#4a26bc,#fb4b20,#bd3760,#4e27be,#802f95,#fb4a20,#e69d0c,#e6c426,#e6c11f,#e69709,#fd4523,#772d9c,#4b26bd,#f55a17,#842f91,#342697,#5e29b1,#c1385c,#652aab,#ac356f,#f9501d,#e68101,#ef670e,#ef3e34,#b33669,#e43c3e,#f65619,#ed6d0b,#ee6a0d,#f45c15,#e6a710,#e6c528,#e6c01c,#e68a04,#eb3d37,#602aaf,#973381,#b93763,#3e26a7,#322692,#5a29b4,#6e2ca3,#3b26a2,#2b2687,#3f26a9,#4a26bb,#3a26a0,#272681,#322693,#3e26a8,#352698,#21216e,#272680,#312691,#2a2685,#191955,#1d1d61,#25257b,#1f1f68,#12123d,#151546,#1b1b5b,#191953,#101035,#13133e,#1b1b59,#191952,#0f0f33,#12123b,#1a1a58,#181851,#0f0f32,#12123b)"></i><i style="position:absolute;left:455px;top:0;width:5.5px;height:313.25px;background:linear-gradient(#fb4a20,#f35f14,#4526b2,#2e268c,#e6c221,#e6c324,#702ca2,#fa3f2a,#e6c01c,#f4f4c9,#ffffff,#fdfdf7,#eeeeac,#e6c01a,#f73f2d,#4e27be,#e6df6e,#e68a04,#3d26a6,#3b26a3,#e77c02,#ff4026,#3c26a4,#2e268d,#f63f2e,#f03e33,#3d26a5,#272680,#fe4027,#ef670f,#3e26a8,#292684,#e68e06,#e6c529,#792e9a,#f55818,#e6cf45,#f9f9df,#ffffff,#fcfcf0,#e8e88a,#e69e0c,#b63766,#3f26a9,#e6c220,#e69408,#332694,#4026aa,#ef670f,#f23e32,#2e268d,#5b29b3,#fa4b1f,#9e347b,#2c268a,#a93571,#e97705,#842f91,#2c268a,#ee6a0d,#e6d451,#8c318b,#fe4027,#e6bf19,#f2f2be,#ffffff,#fefefc,#ededa7,#e6b214,#fb3f2a,#5528b8,#e6b013,#e6b314,#5f29b0,#4a26bc,#f55917,#fd4523,#5628b7,#822f93,#ff4026,#983380,#5428b9,#f33e31,#ed6c0c,#6e2ca4,#5828b5,#e6aa11,#e6cb38,#6a2ba7,#d63b4a,#e69308,#e7e787,#ffffff,#ffffff,#f5f5ce,#e5ce41,#eb7208,#ac356f,#e6d34e,#e69107,#b43668,#9e347b,#ef680e,#dc3b45,#f45a16,#e73d3b,#b73766,#8b318b,#e6c72f,#e77c02,#8c318a,#fa3f2a,#e6b515,#e7e789,#f2f2bf,#f0f0b5,#e6e277,#e69c0b,#c93956,#8f3188,#e6da61,#f53e2f,#222270,#6f2ca3,#e68904,#903187,#1c1c5e,#7f2f96,#eb7208,#6b2ba6,#1b1b5b,#d33a4d,#e5aa11,#692ba7,#5027bc,#f83f2d,#e6bf19,#e7e788,#f0f0b4,#eeeeab,#e6db64,#e68402,#9c337d,#f65719,#e68201,#4a26bb,#2c268a,#aa3570,#df3c42,#3a26a0,#0f0f32,#672ba9,#903287,#352699,#0d0d2d,#4526b3,#6c2ca5,#2f268e,#0b0b25,#342697,#4726b7,#242478,#09091d,#272682,#352699,#1a1a57,#070716,#1d1d60,#272681,#141443,#060613,#191954,#26267e,#131340,#050511,#181850,#25257b,#12123d,#050511,#181850)"></i><i style="position:absolute;left:460px;top:0;width:5.5px;height:313.25px;background:linear-gradient(#6b2ba6,#4a26bc,#4a26bb,#f33e31,#bd3760,#792e9a,#e83d3a,#e6ac12,#ececa1,#fefefb,#ffffff,#f2f2bd,#e6c01a,#ff4126,#712ca1,#fd4523,#983380,#632aac,#4f27bd,#943284,#5c29b3,#4e26be,#4826b8,#5928b5,#4d26bf,#5c29b2,#4626b4,#4026ab,#6e2ca3,#8a308c,#4526b2,#36269a,#c4385a,#e83d3a,#6e2ca3,#f93f2b,#e6bc18,#f1f1ba,#ffffff,#fefefc,#ededa6,#e6b114,#ee3e36,#4b26bd,#f73f2d,#b1366a,#4226ad,#322694,#923285,#6a2ba6,#4126ac,#38269d,#702ca2,#4b26bc,#4026ab,#4726b6,#822f93,#4526b3,#4026aa,#792e9a,#d23a4e,#4e26be,#c83956,#e69709,#e8e88a,#fefef8,#ffffff,#f5f5cd,#e6ca37,#f55917,#7d2e97,#9f347b,#b33669,#4026ab,#4426b1,#662baa,#642aab,#3e26a7,#4c26be,#5227ba,#4326b0,#3e26a8,#6c2ca5,#692ba8,#3c26a5,#4026ab,#ae366d,#aa3570,#6029af,#fb4b20,#e6c427,#f2f2bf,#ffffff,#ffffff,#ececa2,#e6a710,#df3c42,#6029af,#cf3a50,#a93571,#642aac,#4a26bb,#7d2e97,#843091,#9e347b,#5427b9,#5127bc,#ae366d,#f94e1e,#6e2ca4,#d03a4f,#e6980a,#e6e57e,#f9f9e1,#fafae7,#eeeea8,#e6bf19,#fb4a20,#672ba9,#e13c40,#ec3d37,#5928b5,#37269b,#822f93,#88308e,#4b26bc,#39269f,#5127bb,#652aab,#4b26bc,#4026ab,#4826b7,#732d9f,#5728b7,#5127bc,#5a29b4,#c3385b,#f26013,#e87a03,#ec6e0a,#ff4126,#9e347b,#f94f1d,#e6980a,#e6bc18,#e6b515,#e87904,#c83956,#5d29b2,#8f3188,#662baa,#292684,#3a26a0,#652aab,#4226ad,#222271,#352698,#4926b9,#312691,#1b1b58,#2b2687,#38269d,#232375,#141443,#21216f,#292684,#181852,#0f0f31,#191954,#20206b,#131340,#0d0d2c,#191954,#1e1e64,#111139,#0d0d2b,#191955,#1d1d61,#101036,#0d0d2b)"></i><i style="position:absolute;left:465px;top:0;width:5.5px;height:313.25px;background:linear-gradient(#c63958,#12123c,#652aab,#e5cc3c,#ec6f0a,#9a337e,#e68e06,#e6e683,#fbfbeb,#ffffff,#f8f8dd,#e6d656,#f26113,#792e9b,#aa3571,#e6d95e,#e13c40,#3e26a7,#7c2e97,#eb7308,#8a318c,#5a28b4,#652aab,#d13a4f,#8f3188,#9e347b,#5a29b4,#87308f,#ee3e35,#f8511c,#5828b5,#672ba9,#e6a10d,#e6bf19,#6f2ca2,#e63d3c,#e6a20e,#eaea96,#ffffff,#ffffff,#f2f2bf,#e6c322,#f7541a,#7b2e98,#e6ce40,#e68201,#5828b6,#5b29b3,#ee6a0d,#ca3955,#5728b7,#6c2ca5,#ec3d36,#762d9d,#5928b5,#9f347b,#ff4126,#5e29b0,#5b29b3,#f94e1e,#e68c05,#762d9d,#b1366b,#e97606,#e6d95e,#f9f9e1,#ffffff,#fcfcf0,#e6e173,#e68502,#ca3955,#e67f01,#f45c15,#4a26bc,#6c2ba5,#ea3d38,#a23477,#3b26a2,#7a2e99,#bf385e,#652aab,#37269b,#9a337f,#f03e33,#5a28b4,#3c26a4,#ea3d39,#e68a04,#903187,#ea7407,#e6de6c,#fafae5,#ffffff,#fcfcf1,#e7e789,#e69006,#d73b49,#5327ba,#f63f2e,#e68904,#d63b4a,#4c26be,#a53575,#f45c16,#e97705,#5427b9,#7f2f95,#e68e06,#e6df6f,#943283,#e68301,#e6db63,#f8f8de,#ffffff,#fdfdf4,#e6dc67,#e97606,#a0347a,#6d2ca4,#e6c01d,#e6c222,#4d26bf,#632aac,#f7541a,#fb4a20,#4d26bf,#6d2ca4,#a43476,#8e3189,#612aae,#853090,#6029af,#4b26bc,#8b318b,#bf385f,#4026ab,#352699,#e83d3a,#f55a17,#352698,#5c29b2,#fa4c1f,#e6bd19,#e7e787,#f1f1b7,#f1f1b7,#e6d95d,#e77d02,#9a337f,#f65718,#ee3e35,#2f268f,#25257b,#bc3761,#8d318a,#12123d,#1c1c5f,#7d2e97,#5528b8,#0d0d2c,#18184f,#4c26bf,#3a26a1,#09091e,#13133f,#38269d,#292684,#060614,#0f0f32,#2b2688,#20206a,#050511,#0f0f31,#282683,#1d1d5f,#04040e,#0f0f33,#272680,#1b1b59,#04040d)"></i><i style="position:absolute;left:470px;top:0;width:5.5px;height:313.25px;background:linear-gradient(#4426b2,#272681,#38269d,#b83764,#622aae,#3d26a5,#a13478,#f06410,#e69107,#e6a00d,#e68603,#f94f1d,#7a2e99,#9d337c,#f23e31,#f7531b,#e93d39,#9e347b,#6a2ba7,#87308f,#3f26a9,#5728b7,#4126ac,#6b2ba6,#3c26a3,#4626b4,#4326b0,#5c29b2,#4726b6,#5227bb,#4926b9,#5528b8,#772d9c,#863090,#5a28b4,#782d9b,#b33669,#f16311,#e69e0c,#e6a810,#e97606,#db3b46,#ec6e0a,#e69207,#e68100,#f7531b,#c3385b,#712ca1,#5728b6,#c93955,#6a2ba7,#4d26bf,#4326b0,#832f92,#632aac,#5528b8,#4726b5,#853091,#732d9f,#6d2ca4,#692ba8,#cf3a50,#963382,#9c337d,#f26013,#e6cd3f,#f3f3c5,#f9f9e1,#f3f3c1,#e6d451,#e67e01,#aa3570,#5327ba,#d93b47,#7d2e97,#5c29b2,#3f26a9,#7e2e96,#6f2ca3,#5327b9,#4226ad,#5b29b3,#772d9c,#652aab,#5d29b2,#682ba8,#943283,#963382,#9e347b,#a93572,#f55818,#e6af13,#e9e98f,#f7f7d7,#f9f9e2,#e8e88b,#e6a40e,#fe4125,#a13478,#bd3760,#8b318b,#d53a4b,#b1366b,#832f92,#7b2e99,#832f92,#7e2f96,#842f91,#ad366e,#662baa,#ba3762,#fa4d1f,#e68803,#e6a610,#e6990a,#f94f1d,#9a337e,#f26113,#e6a710,#e6b013,#e59408,#f65718,#bc3761,#5728b7,#9c337d,#4c26bf,#5c29b2,#4126ac,#5928b4,#4326af,#6029af,#3c26a3,#4126ac,#4426b2,#692ba8,#4426b1,#4026aa,#5227bb,#7d2e97,#672ba9,#5127bb,#752d9d,#f13e33,#ef670f,#e68603,#e68301,#f55818,#b73766,#ef680e,#e6a710,#e6b716,#e68b05,#fe4125,#913286,#612aae,#d33a4d,#5b29b3,#4426b1,#4926b9,#742d9e,#38269e,#36269a,#38269e,#4426b0,#26267f,#292685,#292684,#2f268f,#1a1a55,#212170,#222273,#21216f,#12123c,#21216f,#21216d,#18184f,#0e0e2e,#222270,#202069,#111139)"></i><i style="position:absolute;left:475px;top:0;width:5.5px;height:313.25px;background:linear-gradient(#3c26a3,#4426b2,#312691,#5a28b4,#4226ad,#782d9b,#3c26a3,#5f29b0,#5528b8,#dd3c44,#4c26be,#7d2e97,#b2366a,#f65619,#e68502,#e69a0b,#e68502,#f65718,#b2366a,#7d2e97,#7a2e99,#dc3b45,#4526b3,#5c29b2,#4e27be,#933284,#4926b9,#5f29af,#4226ad,#a33477,#672ba9,#5f29b0,#4426b1,#fc4722,#983381,#5d29b2,#622aad,#e6b616,#fc3f29,#7c2e97,#c73957,#e68803,#e6cd3d,#e6df6e,#e5d85b,#e6c220,#eb7208,#be385f,#a83572,#e6c426,#b83764,#5928b5,#6b2ba6,#eb7109,#9c337d,#5f29b0,#4f27bd,#eb7208,#cd3952,#5427b9,#5e29b0,#e6c72f,#f16311,#5e29b0,#812f94,#ef670e,#e6ce41,#efefad,#f1f1b9,#ecec9e,#e6cc3b,#ee690d,#973381,#e5cd3f,#e23c3f,#5428b9,#5d29b1,#f06510,#ac356f,#4d26bf,#4026aa,#e43c3e,#c73957,#4a26bb,#322693,#fe4324,#f65718,#4a26bb,#30268f,#e69e0c,#e6b817,#bd3860,#e68201,#e6d85b,#f1f1bb,#f3f3c1,#e7e788,#e6b516,#fa4d1e,#742d9e,#5828b5,#e6c830,#e68000,#4926ba,#7a2e99,#f0660f,#db3b46,#4726b6,#d23a4d,#ef3e34,#8f3188,#5528b8,#e68502,#fd4523,#7b2e99,#913286,#f0660f,#e6cf42,#f0f0b4,#f2f2bf,#ebeb99,#e6c72d,#ee6a0d,#853090,#e69509,#923285,#5e29b1,#672ba9,#ed3e36,#5127bc,#6c2ca5,#6a2ba6,#983381,#3c26a4,#602aaf,#963382,#933284,#342697,#652aab,#fd4523,#d93b47,#322693,#732d9f,#e6b515,#e77b03,#4326b0,#c93955,#e67e01,#e6d452,#efefaf,#f4f4c9,#e8e88b,#e6b716,#fc4622,#9a337f,#e6cb38,#f03e34,#3f26a8,#6e2ca3,#f45b16,#792e9a,#2a2687,#4826b7,#a53475,#4226ae,#21216e,#352698,#5a29b4,#2c2689,#1c1c5c,#2b2688,#3b26a2,#1d1d62,#1c1c5f,#282682,#292685,#141442,#1d1d61,#26267d,#1e1e63)"></i><i style="position:absolute;left:480px;top:0;width:5.5px;height:313.25px;background:linear-gradient(#1e1e64,#222271,#181851,#2a2686,#21216d,#312691,#1e1e63,#2b2688,#282683,#4526b4,#26267d,#352697,#4926ba,#8a318c,#cd3952,#eb3d38,#cd3952,#8a318c,#4926b9,#3b26a2,#332695,#4526b3,#2a2686,#5027bc,#322693,#38269d,#632aad,#c1385c,#fa3f2a,#fc4722,#e53c3d,#af366c,#662aaa,#5728b6,#4526b3,#662baa,#4526b4,#923285,#5327b9,#5d29b2,#672ba9,#b0366b,#f7531b,#e67f00,#eb7208,#ff4026,#943284,#6b2ba6,#732d9f,#9d347c,#4226ad,#9f347a,#f93f2b,#eb7109,#e68101,#eb7208,#e63d3c,#953283,#4e27be,#632aad,#782d9b,#a23478,#652aab,#652aab,#5e29b1,#86308f,#fc4722,#e68e06,#e69d0c,#e68000,#fd4424,#a43476,#4726b6,#a93571,#ca3955,#e97606,#e59b0b,#e69d0c,#e87904,#f53e2f,#672ba9,#4726b6,#672ba9,#9e347c,#332694,#4e26be,#712ca1,#762d9c,#2d268b,#842f91,#a03479,#7b2e98,#a83573,#f65718,#e69107,#e6a10d,#ea7506,#de3c43,#782e9b,#963382,#3a26a0,#a23478,#f33e30,#e68502,#e6a10e,#e69609,#ef670e,#d03a50,#6c2ca5,#4926ba,#903187,#802f94,#792e9a,#4f27bd,#652aab,#722ca0,#8a308c,#fc4821,#e68e06,#e6a20e,#e67f01,#fc3f29,#973381,#5a29b4,#812f94,#c2385b,#5528b9,#9e347b,#fd4423,#e68602,#e6a710,#e69609,#f8521c,#913286,#5f29b0,#5528b8,#8a308c,#ab3570,#4d26be,#6f2ca3,#6d2ca4,#612aae,#5628b7,#a83572,#7f2f95,#4626b4,#6d2ca4,#b23669,#f65619,#e68d05,#e69f0d,#e77c02,#e53d3d,#792e9a,#fc4821,#e68603,#e69f0d,#e69207,#f26112,#aa3571,#4126ac,#5728b6,#782e9b,#4126ad,#222271,#3b26a2,#4526b2,#2e268c,#17174c,#2b2687,#332694,#232375,#101035,#20206c,#2a2685,#1d1d61,#0c0c26,#1a1a57,#25257d,#191955)"></i><i style="position:absolute;left:485px;top:0;width:5.5px;height:313.25px;background:linear-gradient(#09091f,#020208,#08081c,#151545,#0d0d2a,#03030b,#0d0d2a,#1e1e63,#11113a,#050510,#131340,#2b2687,#18184e,#141444,#1d1d60,#3d26a6,#20206b,#151545,#2c2688,#632aad,#2c2689,#0d0d2a,#4226ad,#b63766,#4226ad,#5528b8,#cc3953,#ec7009,#e69d0c,#e69c0b,#e68c05,#f35f14,#d13a4f,#4626b5,#622aae,#bd3860,#752d9d,#2e268d,#3f26a9,#792e9a,#89308d,#3a26a0,#352698,#602aaf,#c3385b,#4e26be,#25257b,#692ba7,#f16211,#832f92,#702ca2,#f55a17,#e6b817,#e6d451,#e5da60,#e6d656,#e6aa11,#f23e32,#5d29b2,#a53475,#f06510,#4a26bc,#2e268c,#ae366d,#cc3953,#332695,#4626b4,#f73f2e,#9b337e,#302690,#742d9e,#e69007,#a33477,#bb3762,#e69107,#e6e275,#f2f2bf,#f0f0b5,#e6e379,#e6b014,#f43e30,#4726b6,#c4385a,#e68904,#612aae,#111138,#812f94,#fb3f2a,#4926ba,#292685,#762d9d,#d23a4e,#4326b0,#222272,#a63574,#fa3f2b,#4426b1,#1f1f67,#f55917,#e68201,#6a2ba6,#f43e30,#e6b214,#eaea96,#f2f2be,#efefb0,#e6d85d,#e69308,#b83764,#4c26bf,#e68201,#f7541a,#4126ad,#672ba9,#dd3b44,#b53667,#5c29b3,#b63766,#8c318a,#8b318b,#89308d,#f06410,#772d9c,#6d2ca4,#ff4026,#e6d24c,#8b318b,#ee6a0d,#e6c529,#eaea97,#f2f2c0,#f0f0b5,#e6cd3f,#ef680e,#993380,#6d2ca4,#e68301,#e6c11e,#6e2ca3,#622aad,#dd3c44,#f8501c,#88308e,#6f2ca3,#802f94,#bc3761,#dc3b45,#6c2ca5,#5127bb,#cf3a50,#e68301,#7a2e99,#732d9f,#fa4c1f,#e6c01c,#ecec9f,#f1f1bb,#eeeeaa,#e6d451,#e67f00,#943284,#ff4126,#f06510,#3e26a7,#2b2687,#903287,#a93572,#2a2686,#12123c,#5227bb,#5c29b3,#25257c,#0e0e30,#39269e,#3d26a5,#232375,#0c0c28,#292684,#2f268d,#222272)"></i><i style="position:absolute;left:490px;top:0;width:5.5px;height:313.25px;background:linear-gradient(#050511,#010104,#04040f,#0b0b25,#070717,#020206,#070717,#101036,#09091f,#030309,#0a0a22,#17174d,#0d0d2a,#04040c,#101034,#21216e,#11113a,#050512,#18184e,#2f268f,#18184f,#08081c,#232376,#4426b1,#232375,#30268f,#5f29b0,#b2366a,#f93f2c,#fd4523,#e33c3f,#963382,#5528b8,#282683,#30268f,#4a26bb,#38269d,#25257a,#332694,#4626b4,#4026aa,#332695,#4926b9,#4e27be,#732d9f,#953283,#e83d3a,#f55917,#f35d15,#cc3953,#802f94,#af366d,#ff4126,#e97606,#e68b05,#e97606,#eb3d38,#762d9d,#5127bc,#b43668,#762d9d,#4126ab,#9c337d,#f35e14,#e68603,#e69007,#e97705,#f94e1e,#7c2e98,#30268f,#752d9d,#ee3e36,#4326af,#4f27bd,#e03c41,#e68402,#e6a00d,#e6a10e,#e67f00,#fe4225,#6a2ba7,#2b2687,#602aaf,#a63574,#322694,#4e26be,#ce3a51,#eb7109,#e68e06,#e68a04,#f0660f,#de3c44,#5027bc,#25257b,#86308f,#88308e,#26267f,#1b1b5c,#8f3188,#a03479,#352698,#6d2ca4,#fe4125,#e68a04,#e6a40f,#e69b0b,#ec6e0a,#d23a4d,#4b26be,#2d268b,#973381,#7d2e97,#4126ad,#5127bc,#bc3761,#f26112,#e68a04,#e69609,#eb7208,#e33c3f,#702ca2,#7a2e99,#4e26be,#7e2f96,#672ba9,#cf3a50,#5728b6,#b2366a,#fb4a20,#e68c05,#e5ad12,#e69c0b,#f65519,#973382,#612aaf,#4526b3,#853090,#b73765,#5027bc,#4b26bd,#722da0,#f13e33,#e68402,#e6970a,#e67f00,#fb4a20,#c53959,#5227bb,#802f94,#a43476,#a03479,#4126ac,#5a29b4,#9c337d,#fa4d1f,#e68b05,#e6a910,#e59b0b,#f0660f,#af366d,#6a2ba7,#df3c42,#eb7308,#e69107,#e68502,#f9501d,#9b337e,#4126ad,#25257a,#5a28b4,#36269a,#181850,#1b1b5b,#3b26a2,#2b2687,#17174c,#151545,#2b2687,#25257c,#161649)"></i><i style="position:absolute;left:495px;top:0;width:5.5px;height:313.25px;background:linear-gradient(#010103,#020205,#04040d,#030309,#010104,#020208,#060613,#04040d,#020206,#04040c,#08081c,#050511,#020208,#050512,#0c0c28,#070718,#03030b,#08081b,#111139,#0a0a21,#04040f,#0c0c29,#181851,#0e0e2e,#060615,#12123e,#232374,#1b1b5b,#222271,#242477,#322693,#1b1b5a,#101036,#292685,#4726b7,#2b2687,#141442,#3e26a7,#832f92,#4426b1,#1d1d60,#6b2ba5,#f33e30,#812f93,#ab356f,#f06510,#e6ab12,#e6c62b,#e6b315,#e68a04,#f94e1d,#ef3e34,#4026ab,#a43476,#fd4423,#f45b16,#4826b8,#5b29b3,#fc4722,#e6c221,#702ca2,#a43476,#e68703,#e6d758,#ededa7,#f1f1bb,#ecec9f,#e6c425,#fc4722,#642aac,#ed6d0b,#e6af13,#3c26a4,#292685,#eb3d38,#f65619,#3a26a0,#342697,#dd3b44,#f83f2c,#20206b,#21216f,#f55917,#f16212,#4526b3,#d23a4d,#e6ac12,#e6e57f,#f0f0b4,#f0f0b3,#e6e47a,#e69f0c,#c4385a,#4326b0,#eb7208,#e33c3e,#282682,#2c2689,#d93b47,#903287,#322693,#2a2685,#963282,#86308f,#4126ac,#39269f,#7c2e98,#bc3761,#672ba9,#2a2686,#7a2e99,#f06410,#b1366a,#b73765,#e6990a,#e6db64,#efefaf,#f2f2bc,#e9e990,#e5ad12,#eb3d38,#722ca0,#923285,#ec6e0a,#7f2f96,#732d9f,#7c2e97,#bf385e,#6f2ca3,#ba3763,#792e9a,#792e9a,#a73574,#ef670f,#792e9a,#4626b4,#f16212,#e6d24b,#8a318c,#7a2e9a,#f8501c,#e6c529,#eeeea8,#f1f1bb,#ededa3,#e6d24b,#e67f00,#8a318c,#e6a30e,#e6bf19,#843091,#292685,#ff4026,#ed6d0b,#9f347a,#342697,#983380,#ea7407,#dc3b45,#5928b5,#f94f1d,#e6c01a,#e8e88d,#f1f1b7,#efefb0,#e6d758,#e67f00,#993380,#4c26be,#f16212,#802f94,#222271,#38269e,#af366d,#4726b7,#0b0b25,#2a2685,#632aad,#342697,#0a0a21)"></i><i style="position:absolute;left:500px;top:0;width:5.5px;height:313.25px;background:linear-gradient(#010104,#010103,#020208,#020205,#020205,#010105,#03030b,#020207,#020208,#020207,#050510,#03030a,#03030b,#03030b,#070717,#04040e,#05050f,#050510,#0a0a21,#060613,#070716,#070718,#0e0e30,#08081b,#09091f,#0b0b24,#141444,#0b0b25,#0d0d2c,#101036,#1d1d61,#101037,#12123d,#181851,#2a2685,#1b1b59,#1a1a58,#242479,#3d26a5,#2b2687,#262680,#37269b,#642aac,#3f26a9,#5528b8,#b2366a,#f94e1e,#ee6b0c,#f35d15,#ea3d38,#913287,#953283,#832f92,#4e26be,#732da0,#ae366e,#dd3c44,#ef690e,#e69107,#e6a50f,#fd4523,#a83573,#d13a4f,#e68b05,#e6b214,#e6b616,#e6980a,#f25f13,#983380,#4926ba,#8c318b,#ce3a51,#fc3f29,#ea7407,#e68804,#ec7009,#de3c43,#742d9e,#5e29b1,#692ba7,#5f29b0,#4326af,#7d2e97,#822f93,#4826b8,#762d9d,#f53f2f,#e68603,#e6b214,#e6b013,#e68301,#e63d3c,#692ba7,#6d2ca4,#8c318a,#87308e,#fa3f2b,#ea7506,#e68502,#ee6b0d,#de3c43,#732d9f,#4426b1,#4226ad,#632aac,#5d29b1,#3c26a4,#4f27bd,#4f27bd,#4526b3,#3c26a3,#843091,#5c29b2,#6a2ba7,#d93b47,#e87904,#e6ad12,#e6b515,#e68d06,#fe4027,#7c2e97,#5a28b4,#5c29b3,#b63766,#f45b16,#e68603,#e67f01,#f9501d,#af366c,#7a2e99,#3a26a0,#3e26a7,#9d337c,#993380,#3a26a0,#352698,#a33476,#f63f2e,#3f26a8,#4326af,#9f347b,#f55817,#e69b0b,#e6b515,#e6a50f,#ee6a0d,#b63766,#4926b9,#be385f,#d53b4b,#a13478,#fc4821,#e77b03,#e68c05,#ef670f,#c4385a,#672ba9,#923286,#963282,#4426b1,#8a308c,#fa4b1f,#e6980a,#e6b315,#e6a810,#ec7009,#c73957,#6a2ba6,#dc3b44,#ef690e,#e68301,#ec6f0a,#ef3e34,#7a2e99,#38269d,#20206b,#692ba8,#4026aa,#21216d,#1a1a57)"></i><i style="position:absolute;left:505px;top:0;width:5.5px;height:313.25px;background:linear-gradient(#030308,#010104,#000001,#020207,#04040c,#020205,#000001,#03030a,#050511,#020207,#000001,#04040f,#070718,#03030a,#010102,#070716,#0a0a22,#04040d,#010103,#0a0a21,#0f0f31,#050511,#010104,#0e0e30,#151545,#070717,#020206,#151548,#1d1d61,#09091e,#03030a,#20206a,#292684,#0c0c28,#050511,#2f268e,#3a26a1,#101035,#09091e,#4526b2,#5828b6,#1f1f66,#151545,#7e2e96,#9e347b,#38269d,#2c2688,#f23e31,#f7531b,#5728b7,#302690,#e6aa11,#e6be19,#632aad,#662aaa,#fc4821,#e6c324,#ececa2,#f1f1b8,#ededa4,#e5d85b,#e68904,#903187,#e6d14a,#e6a10d,#a63574,#4426b2,#ef670f,#e69007,#fd4028,#8d3189,#e69509,#e5d85a,#efefb1,#f1f1b9,#ededa5,#e6c830,#f26112,#6b2ba6,#612aae,#e67e01,#cf3a51,#21216d,#4026ab,#f03e33,#bb3762,#242477,#3d26a6,#d53a4b,#fa3f2b,#2e268d,#2d268a,#f8521b,#e68f06,#86308f,#ed6d0b,#e6d450,#efefad,#f1f1b7,#e9e991,#e6c72d,#f55917,#652aab,#2c2689,#e77c02,#ee6a0d,#1f1f67,#26267d,#f93f2c,#c93955,#161649,#2a2686,#e23c3f,#9b337e,#1f1f67,#36269a,#f55818,#b83765,#302690,#4c26bf,#e6b817,#fa4c1f,#d73b49,#e6a20e,#e6e684,#f1f1ba,#efefb1,#e6dd68,#e69d0c,#c93955,#4826b7,#963382,#e6c222,#ac356f,#4226ad,#712ca1,#f45b16,#652aab,#712ca1,#6f2ca2,#c0385d,#4b26bc,#d53a4b,#923285,#943283,#5828b6,#e68b05,#ec3d37,#86308f,#b93764,#e68201,#e5d85c,#f3f3c5,#f3f3c1,#e6e57e,#e6b114,#f25f13,#b73765,#e6990a,#923285,#d13a4e,#d73b49,#f13e32,#622aad,#e87a03,#ee6b0d,#b93764,#f65718,#e6c324,#eaea96,#f3f3c2,#ececa1,#e6cc3c,#ef680e,#8c318b,#4526b3,#e6990a,#e23c40,#232374,#36269a)"></i><i style="position:absolute;left:510px;top:0;width:5.5px;height:313.25px;background:linear-gradient(#020205,#010102,#010104,#010104,#020208,#010103,#020206,#020206,#03030b,#010104,#020208,#030309,#05050f,#020206,#04040c,#04040e,#060616,#03030a,#050511,#060615,#09091f,#04040e,#070718,#09091e,#0d0d2b,#060615,#0a0a22,#0e0e2d,#12123d,#09091f,#0f0f31,#141443,#1a1a57,#0e0e2f,#151545,#1d1d62,#25257a,#151545,#1d1d62,#2b2688,#342696,#21216f,#2a2686,#4026aa,#4a26bb,#3b26a2,#3e26a6,#6e2ca3,#863090,#692ba7,#622aae,#d43a4c,#ed3e36,#a83572,#a63574,#8f3188,#f26013,#e6b114,#e6e174,#f1f1b7,#f3f3c2,#e8e88c,#e6a30e,#fb4b20,#d43a4c,#ef3e34,#9a337f,#963282,#c43859,#fa3f2b,#903287,#dc3b45,#e77d02,#e6cd3e,#efefad,#f7f7d9,#f5f5ce,#e6e072,#e68101,#e73d3c,#b73765,#ed3e36,#4c26bf,#4b26bd,#7f2f95,#ab3570,#37269b,#38269e,#762d9d,#a53475,#2e268d,#322692,#943284,#db3b46,#4926b9,#bb3761,#e77c02,#e6b917,#e6c01b,#e5a40e,#ee690d,#e97606,#e68803,#e87904,#f8511c,#b0366c,#3a26a0,#4726b6,#8f3188,#792e9a,#222271,#37269c,#842f91,#672ba9,#1e1e65,#342696,#a13479,#6f2ca2,#222273,#3e26a6,#f83f2c,#923286,#712ca1,#fe4125,#e69e0c,#e6c11e,#e6b917,#e68904,#f16411,#e68904,#e68502,#f45c15,#fd4424,#662aaa,#322693,#6f2ca3,#aa3570,#4826b8,#3f26a8,#4d26bf,#812f93,#4126ac,#622aad,#5027bd,#742d9f,#4326af,#b63766,#732da0,#792e9b,#6c2ba5,#d83b49,#e68201,#e6c221,#e6c220,#e69a0b,#f9501d,#e68d06,#e69007,#ed6d0b,#df3c42,#aa3571,#672ba9,#89308d,#913286,#c2385b,#963382,#8d318a,#ba3763,#f06510,#e6a60f,#e6c11e,#e6c221,#e6c221,#e6a910,#e68502,#f35e14,#c83957,#682ba9,#5f29b0,#782e9b)"></i><i style="position:absolute;left:515px;top:0;width:5.5px;height:313.25px;background:linear-gradient(#010105,#010103,#000000,#010103,#020207,#010105,#000001,#010105,#03030a,#020206,#000001,#020207,#04040f,#030309,#010102,#03030b,#060615,#04040c,#010103,#05050f,#09091f,#050510,#020205,#070716,#0d0d2c,#070716,#020208,#0a0a21,#13133f,#09091e,#04040c,#0f0f31,#1b1b59,#0c0c28,#060613,#161649,#26267f,#101035,#09091e,#21216c,#36269a,#161649,#101034,#302690,#4e27be,#292685,#20206a,#4826b8,#913286,#4426b1,#322693,#89308d,#fc4722,#6e2ca3,#4326af,#fc4821,#e6b114,#ac356f,#ee6a0d,#e6d24a,#f7f7d5,#ffffff,#fdfdf5,#eaea94,#e6b616,#ed3d36,#6c2ba5,#e69609,#e6c325,#7a2e99,#7f2f96,#e97805,#e6ce42,#ed3d36,#e6a20e,#efefad,#ffffff,#ffffff,#f7f7d8,#e6d75a,#e87a04,#ab356f,#953283,#e97705,#e6a10e,#6f2ca2,#5928b5,#db3b46,#f35e14,#6f2ca3,#3e26a7,#ad356e,#ec6e0a,#7b2e98,#302690,#e83d3b,#e6c529,#963382,#6f2ca2,#f45c15,#e6d149,#f8f8da,#fffffd,#fbfbeb,#e6e681,#e69508,#a03479,#ef670f,#e6ae13,#6a2ba7,#1b1b5b,#cf3a50,#f94f1d,#5728b6,#1d1d60,#b1366a,#d73b4a,#4f27bd,#242479,#f53e2f,#f13e33,#4b26bd,#342697,#e69b0b,#e97705,#6c2ba5,#d33a4d,#e6ab11,#efefad,#fffffe,#fdfdf7,#efefb0,#e6c220,#fe4225,#5828b5,#e6b917,#fd4424,#4426b1,#3f26a8,#f65718,#bc3761,#4326af,#322693,#ee3e35,#c2385b,#4126ac,#312691,#f26013,#fc4722,#3f26aa,#3f26aa,#e6c830,#e6990a,#b33669,#e68703,#e6e683,#ffffff,#ffffff,#f5f5cc,#e6d85c,#e68201,#732d9f,#782d9b,#ecec9f,#e69007,#232375,#5428b9,#e6e173,#e6b415,#4426b2,#dc3b45,#e6c427,#ededa7,#fdfdf3,#fefefa,#f3f3c4,#e6be19,#f23e32,#5127bc,#e6d047)"></i><i style="position:absolute;left:520px;top:0;width:5.5px;height:313.25px;background:linear-gradient(#010103,#010102,#000000,#010103,#010105,#010103,#000000,#010104,#020207,#010104,#000000,#020206,#03030a,#020206,#000001,#030309,#04040e,#020208,#000001,#04040d,#060615,#03030b,#010102,#060613,#09091e,#04040f,#010103,#08081c,#0d0d2a,#060614,#020205,#0c0c29,#12123c,#08081b,#030309,#12123c,#1a1a56,#0b0b24,#04040e,#1a1a58,#25257b,#0f0f32,#0a0a21,#272680,#352697,#232376,#1b1b5c,#39269e,#4c26be,#3e26a7,#2d268a,#5928b5,#8b318b,#642aac,#39269e,#a83572,#fa3f2b,#913286,#f94e1d,#e6c72f,#f5f5cc,#ffffff,#fefef9,#ebeb9b,#e6aa11,#ed3d36,#5027bc,#fa3f2a,#fa4b1f,#6a2ba6,#4c26be,#ff4026,#f55818,#c3385b,#e68100,#e6e275,#fdfdf4,#ffffff,#f9f9df,#e6d759,#ea7407,#af366c,#682ba8,#cc3953,#ed3d36,#692ba7,#4426b2,#752d9d,#a83572,#6e2ca3,#352698,#5928b5,#ba3763,#7f2f95,#2b2687,#772d9c,#f8501c,#a43476,#712ca1,#f45c15,#e6d24d,#f9f9e2,#ffffff,#fcfcef,#e7e786,#e6990a,#a53475,#a53575,#ff4026,#7f2f96,#1a1a58,#6b2ba6,#a03479,#632aac,#1a1a56,#5b29b3,#843091,#5728b7,#1d1d5f,#7e2e96,#943284,#5127bb,#26267d,#de3c43,#db3b46,#702ca2,#d83b48,#e6ae12,#f0f0b3,#ffffff,#fefefc,#f0f0b6,#e6c324,#fc4622,#4b26be,#ff4027,#bd3860,#4726b5,#2e268c,#973381,#8b318b,#4426b2,#2b2687,#7b2e98,#87308e,#4226ae,#342697,#9f347a,#a63574,#4126ab,#4a26bc,#f94e1e,#f33e31,#b93764,#e68b05,#e6e681,#ffffff,#ffffff,#f6f6d3,#e6d450,#eb7208,#772d9c,#752d9d,#e87a03,#da3b47,#26267e,#4926b9,#ee6a0d,#fc3f29,#4426b1,#de3c43,#e6b716,#eeeea8,#fefef8,#fffffe,#f2f2bf,#e6c01c,#f73f2d,#4f27bd,#f65718)"></i><i style="position:absolute;left:525px;top:0;width:5.5px;height:313.25px;background:linear-gradient(#010103,#000001,#000000,#010103,#010104,#000002,#000000,#010104,#020206,#010102,#000000,#020206,#030309,#010103,#000001,#030309,#04040c,#010104,#000001,#04040d,#050511,#010105,#010102,#060613,#070719,#020206,#010103,#08081c,#0a0a23,#020208,#020205,#0c0c29,#0f0f31,#03030b,#030309,#12123c,#141444,#04040e,#04040e,#1a1a58,#1d1d60,#070716,#0a0a21,#272680,#292684,#20206c,#1b1b5c,#39269e,#3a26a1,#3c26a3,#2d268a,#5928b5,#5928b5,#5e29b1,#39269e,#a83572,#953283,#913286,#f94e1d,#e6c72f,#f4f4c8,#ffffff,#fefef9,#ebeb9b,#e6a20e,#ea3d38,#5027bc,#fa3f2a,#802f95,#5f29b0,#4c26be,#ff4026,#6e2ca3,#c3385b,#e68100,#e6e174,#fcfcee,#ffffff,#f9f9df,#e6d759,#eb7109,#af366c,#682ba8,#c93956,#4c26bf,#652aab,#4426b2,#6c2ca5,#5528b8,#6d2ca4,#352698,#4226ae,#7c2e98,#7f2f95,#2b2687,#36269a,#ce3a51,#a43476,#712ca1,#f45c15,#e6d24b,#f9f9e2,#ffffff,#fcfcee,#e7e786,#e6990a,#a43475,#3d26a5,#e73d3b,#7e2f96,#191954,#332694,#963382,#632aac,#17174d,#352698,#812f93,#5728b7,#161648,#4626b4,#933284,#5127bb,#151546,#7c2e97,#da3b46,#702ca2,#d83b48,#e6ad12,#f0f0b3,#ffffff,#fefefc,#f0f0b6,#e6c323,#fc4622,#4b26bd,#a93571,#b93764,#4726b5,#1b1b5b,#6d2ca4,#812f94,#4426b1,#232374,#5d29b1,#6d2ca5,#4226ae,#322693,#7d2e97,#6b2ba6,#4026ab,#4a26bb,#d43a4c,#772d9c,#b93764,#e68b05,#e6e57e,#ffffff,#ffffff,#f6f6d2,#e6d148,#ec6e0a,#772d9c,#742d9e,#d43a4c,#7f2f96,#26267e,#4626b4,#ae366d,#c2385c,#4426b1,#de3c43,#e6b013,#ededa4,#fefef8,#fffffe,#f1f1bb,#e6c01a,#f73f2d,#4f27bd,#a43476)"></i></div></div><svg width="0" height="0" style="position:absolute"><filter id="hb" x="-2%" y="-2%" width="104%" height="104%"><feGaussianBlur stdDeviation="1.9 0.4"/></filter></svg>
<svg width="685" height="1352" viewBox="0 0 685 1352" font-family='"Liberation Sans", sans-serif'>
<text x="19.0" y="19.6" font-size="26" text-anchor="start" font-weight="bold">(a)</text>
<rect x="90.1" y="13.4" width="523.5" height="315.4" fill="none" stroke="#000" stroke-width="1.9"/>
<line x1="91.0" y1="81.3" x2="612.8" y2="81.3" stroke="#0a0a14" stroke-width="1.3" />
<line x1="90.1" y1="56.2" x2="94.1" y2="56.2" stroke="#000" stroke-width="1.3" />
<line x1="613.6" y1="56.2" x2="609.6" y2="56.2" stroke="#000" stroke-width="1.3" />
<text x="82.2" y="63.2" font-size="19.5" text-anchor="end" >40</text>
<line x1="90.1" y1="110.7" x2="94.1" y2="110.7" stroke="#000" stroke-width="1.3" />
<line x1="613.6" y1="110.7" x2="609.6" y2="110.7" stroke="#000" stroke-width="1.3" />
<text x="82.2" y="117.7" font-size="19.5" text-anchor="end" >20</text>
<line x1="90.1" y1="165.1" x2="94.1" y2="165.1" stroke="#000" stroke-width="1.3" />
<line x1="613.6" y1="165.1" x2="609.6" y2="165.1" stroke="#000" stroke-width="1.3" />
<text x="82.2" y="172.1" font-size="19.5" text-anchor="end" >0</text>
<line x1="90.1" y1="219.5" x2="94.1" y2="219.5" stroke="#000" stroke-width="1.3" />
<line x1="613.6" y1="219.5" x2="609.6" y2="219.5" stroke="#000" stroke-width="1.3" />
<text x="82.2" y="226.5" font-size="19.5" text-anchor="end" >-20</text>
<line x1="90.1" y1="274.0" x2="94.1" y2="274.0" stroke="#000" stroke-width="1.3" />
<line x1="613.6" y1="274.0" x2="609.6" y2="274.0" stroke="#000" stroke-width="1.3" />
<text x="82.2" y="281.0" font-size="19.5" text-anchor="end" >-40</text>
<line x1="100.2" y1="328.8" x2="100.2" y2="324.8" stroke="#000" stroke-width="1.3" />
<line x1="100.2" y1="13.4" x2="100.2" y2="17.4" stroke="#000" stroke-width="1.3" />
<line x1="200.7" y1="328.8" x2="200.7" y2="324.8" stroke="#000" stroke-width="1.3" />
<line x1="200.7" y1="13.4" x2="200.7" y2="17.4" stroke="#000" stroke-width="1.3" />
<line x1="301.2" y1="328.8" x2="301.2" y2="324.8" stroke="#000" stroke-width="1.3" />
<line x1="301.2" y1="13.4" x2="301.2" y2="17.4" stroke="#000" stroke-width="1.3" />
<line x1="401.8" y1="328.8" x2="401.8" y2="324.8" stroke="#000" stroke-width="1.3" />
<line x1="401.8" y1="13.4" x2="401.8" y2="17.4" stroke="#000" stroke-width="1.3" />
<line x1="502.3" y1="328.8" x2="502.3" y2="324.8" stroke="#000" stroke-width="1.3" />
<line x1="502.3" y1="13.4" x2="502.3" y2="17.4" stroke="#000" stroke-width="1.3" />
<line x1="602.8" y1="328.8" x2="602.8" y2="324.8" stroke="#000" stroke-width="1.3" />
<line x1="602.8" y1="13.4" x2="602.8" y2="17.4" stroke="#000" stroke-width="1.3" />
<text x="0.0" y="0.0" font-size="20.8" text-anchor="middle" transform="translate(40.8,166.8) rotate(-90)">Eigenfrequencies [MHz]</text>
<defs><linearGradient id="inf" x1="0" y1="1" x2="0" y2="0"><stop offset="0" stop-color="#07050f"/><stop offset="0.1" stop-color="#1a0b3c"/><stop offset="0.2" stop-color="#3c0d62"/><stop offset="0.3" stop-color="#5e176e"/><stop offset="0.4" stop-color="#82206c"/><stop offset="0.5" stop-color="#a82e5e"/><stop offset="0.6" stop-color="#cc4448"/><stop offset="0.7" stop-color="#e8642e"/><stop offset="0.78" stop-color="#f68a14"/><stop offset="0.86" stop-color="#f7b52a"/><stop offset="0.93" stop-color="#f2dc58"/><stop offset="1" stop-color="#f5f590"/></linearGradient></defs>
<rect x="627.5" y="51.5" width="22" height="278" fill="url(#inf)" stroke="#0c0c0c" stroke-width="2.2"/>
<text x="0.0" y="0.0" font-size="21.8" text-anchor="middle" transform="translate(678,195.6) rotate(-90)">Fourier amplitude</text>
<text x="19.0" y="359.0" font-size="26" text-anchor="start" font-weight="bold">(b)</text>
<line x1="90.1" y1="351.2" x2="544.0" y2="351.2" stroke="#000" stroke-width="1.9" />
<line x1="90.1" y1="350.3" x2="90.1" y2="666.7" stroke="#000" stroke-width="1.9" />
<line x1="89.2" y1="665.8" x2="614.3" y2="665.8" stroke="#000" stroke-width="1.9" />
<line x1="613.4" y1="404.5" x2="613.4" y2="666.7" stroke="#000" stroke-width="1.9" />
<line x1="90.1" y1="392.6" x2="94.1" y2="392.6" stroke="#000" stroke-width="1.3" />
<text x="82.2" y="399.8" font-size="19.5" text-anchor="end" >40</text>
<line x1="90.1" y1="446.8" x2="94.1" y2="446.8" stroke="#000" stroke-width="1.3" />
<line x1="613.4" y1="446.8" x2="609.4" y2="446.8" stroke="#000" stroke-width="1.3" />
<text x="82.2" y="454.0" font-size="19.5" text-anchor="end" >20</text>
<line x1="90.1" y1="501.0" x2="94.1" y2="501.0" stroke="#000" stroke-width="1.3" />
<line x1="613.4" y1="501.0" x2="609.4" y2="501.0" stroke="#000" stroke-width="1.3" />
<text x="82.2" y="508.2" font-size="19.5" text-anchor="end" >0</text>
<line x1="90.1" y1="555.2" x2="94.1" y2="555.2" stroke="#000" stroke-width="1.3" />
<line x1="613.4" y1="555.2" x2="609.4" y2="555.2" stroke="#000" stroke-width="1.3" />
<text x="82.2" y="562.4" font-size="19.5" text-anchor="end" >-20</text>
<line x1="90.1" y1="609.4" x2="94.1" y2="609.4" stroke="#000" stroke-width="1.3" />
<line x1="613.4" y1="609.4" x2="609.4" y2="609.4" stroke="#000" stroke-width="1.3" />
<text x="82.2" y="616.6" font-size="19.5" text-anchor="end" >-40</text>
<line x1="100.2" y1="665.8" x2="100.2" y2="661.8" stroke="#000" stroke-width="1.3" />
<line x1="100.2" y1="351.2" x2="100.2" y2="355.2" stroke="#000" stroke-width="1.3" />
<line x1="200.7" y1="665.8" x2="200.7" y2="661.8" stroke="#000" stroke-width="1.3" />
<line x1="200.7" y1="351.2" x2="200.7" y2="355.2" stroke="#000" stroke-width="1.3" />
<line x1="301.2" y1="665.8" x2="301.2" y2="661.8" stroke="#000" stroke-width="1.3" />
<line x1="301.2" y1="351.2" x2="301.2" y2="355.2" stroke="#000" stroke-width="1.3" />
<line x1="401.8" y1="665.8" x2="401.8" y2="661.8" stroke="#000" stroke-width="1.3" />
<line x1="401.8" y1="351.2" x2="401.8" y2="355.2" stroke="#000" stroke-width="1.3" />
<line x1="502.3" y1="665.8" x2="502.3" y2="661.8" stroke="#000" stroke-width="1.3" />
<line x1="502.3" y1="351.2" x2="502.3" y2="355.2" stroke="#000" stroke-width="1.3" />
<line x1="602.8" y1="665.8" x2="602.8" y2="661.8" stroke="#000" stroke-width="1.3" />
<text x="0.0" y="0.0" font-size="20.8" text-anchor="middle" transform="translate(40.8,502.5) rotate(-90)">Eigenfrequencies [MHz]</text>
<polyline points="103.3,456.4 113.3,450.9 123.2,431.9 133.2,399.8 143.2,375.7 153.1,365.0 163.1,367.9 173.0,369.5 183.0,372.0 193.0,375.2 202.9,378.7 212.9,382.2 222.9,385.3 232.8,387.9 242.8,389.6 252.8,391.6 262.7,393.0 272.7,394.0 282.7,394.0 292.6,394.0 302.6,395.7 312.5,397.7 322.5,398.5 332.5,396.5 342.4,392.4 352.4,391.0 362.4,392.4 372.3,396.5 382.3,398.5 392.3,397.7 402.2,395.7 412.2,394.0 422.1,394.0 432.1,394.0 442.1,393.0 452.0,391.6 462.0,389.6 472.0,387.9 481.9,385.3 491.9,382.2 501.9,378.7 511.8,375.2 521.8,372.0 531.8,369.5 541.7,367.9 551.7,365.0 561.6,375.7 571.6,399.8 581.6,431.9 591.5,450.9 601.5,456.4" fill="none" stroke="#7f7f7f" stroke-width="3.6" stroke-linejoin="round"/>
<polyline points="103.3,483.6 113.3,478.3 123.2,462.5 133.2,443.5 143.2,425.1 153.1,416.9 163.1,416.1 173.0,423.3 183.0,430.8 193.0,439.4 202.9,445.6 212.9,437.4 222.9,414.3 232.8,403.5 242.8,404.7 252.8,405.3 262.7,409.6 272.7,413.7 282.7,416.5 292.6,421.8 302.6,421.0 312.5,415.5 322.5,422.3 332.5,422.7 342.4,416.9 352.4,414.5 362.4,416.9 372.3,422.7 382.3,422.3 392.3,415.5 402.2,421.0 412.2,421.8 422.1,416.5 432.1,413.7 442.1,409.6 452.0,405.3 462.0,404.7 472.0,403.5 481.9,414.3 491.9,437.4 501.9,445.6 511.8,439.4 521.8,430.8 531.8,423.3 541.7,416.1 551.7,416.9 561.6,425.1 571.6,443.5 581.6,462.5 591.5,478.3 601.5,483.6" fill="none" stroke="#7f7f7f" stroke-width="3.6" stroke-linejoin="round"/>
<polyline points="103.3,527.6 113.3,520.1 123.2,503.7 133.2,483.0 143.2,468.0 153.1,464.6 163.1,466.5 173.0,477.9 183.0,484.7 193.0,488.5 202.9,479.9 212.9,466.8 222.9,469.7 232.8,474.6 242.8,483.2 252.8,484.5 262.7,480.3 272.7,480.3 282.7,481.5 292.6,465.2 302.6,443.5 312.5,439.4 322.5,445.1 332.5,447.6 342.4,442.7 352.4,440.0 362.4,442.7 372.3,447.6 382.3,445.1 392.3,439.4 402.2,443.5 412.2,465.2 422.1,481.5 432.1,480.3 442.1,480.3 452.0,484.5 462.0,483.2 472.0,474.6 481.9,469.7 491.9,466.8 501.9,479.9 511.8,488.5 521.8,484.7 531.8,477.9 541.7,466.5 551.7,464.6 561.6,468.0 571.6,483.0 581.6,503.7 591.5,520.1 601.5,527.6" fill="none" stroke="#7f7f7f" stroke-width="3.6" stroke-linejoin="round"/>
<polyline points="103.3,575.3 113.3,568.1 123.2,552.8 133.2,531.3 143.2,514.6 153.1,509.9 163.1,514.3 173.0,522.2 183.0,531.3 193.0,536.6 202.9,534.8 212.9,530.6 222.9,520.6 232.8,510.6 242.8,511.3 252.8,523.5 262.7,521.6 272.7,516.6 282.7,513.3 292.6,508.8 302.6,504.7 312.5,502.7 322.5,505.8 332.5,522.1 342.4,541.1 352.4,561.8 362.4,541.1 372.3,522.1 382.3,505.8 392.3,502.7 402.2,504.7 412.2,508.8 422.1,513.3 432.1,516.6 442.1,521.6 452.0,523.5 462.0,511.3 472.0,510.6 481.9,520.6 491.9,530.6 501.9,534.8 511.8,536.6 521.8,531.3 531.8,522.2 541.7,514.3 551.7,509.9 561.6,514.6 571.6,531.3 581.6,552.8 591.5,568.1 601.5,575.3" fill="none" stroke="#7f7f7f" stroke-width="3.6" stroke-linejoin="round"/>
<polyline points="103.3,622.8 113.3,615.6 123.2,598.9 133.2,576.2 143.2,556.8 153.1,546.5 163.1,549.0 173.0,573.1 183.0,603.0 193.0,616.6 202.9,619.7 212.9,618.7 222.9,615.4 232.8,611.5 242.8,607.9 252.8,605.8 262.7,606.4 272.7,607.0 282.7,605.8 292.6,605.4 302.6,606.4 312.5,602.9 322.5,600.3 332.5,602.9 342.4,607.0 352.4,609.5 362.4,607.0 372.3,602.9 382.3,600.3 392.3,602.9 402.2,606.4 412.2,605.4 422.1,605.8 432.1,607.0 442.1,606.4 452.0,605.8 462.0,607.9 472.0,611.5 481.9,615.4 491.9,618.7 501.9,619.7 511.8,616.6 521.8,603.0 531.8,573.1 541.7,549.0 551.7,546.5 561.6,556.8 571.6,576.2 581.6,598.9 591.5,615.6 601.5,622.8" fill="none" stroke="#7f7f7f" stroke-width="3.6" stroke-linejoin="round"/>
<polyline points="103.3,652.0 113.3,645.9 123.2,634.0 133.2,621.7 143.2,610.5 153.1,600.9 163.1,590.5 173.0,583.3 183.0,572.3 193.0,565.5 202.9,560.4 212.9,556.3 222.9,551.8 232.8,547.5 242.8,546.0 252.8,554.2 262.7,575.3 272.7,584.0 282.7,580.8 292.6,580.4 302.6,580.6 312.5,578.3 322.5,574.2 332.5,575.5 342.4,581.1 352.4,584.8 362.4,581.1 372.3,575.5 382.3,574.2 392.3,578.3 402.2,580.6 412.2,580.4 422.1,580.8 432.1,584.0 442.1,575.3 452.0,554.2 462.0,546.0 472.0,547.5 481.9,551.8 491.9,556.3 501.9,560.4 511.8,565.5 521.8,572.3 531.8,583.3 541.7,590.5 551.7,600.9 561.6,610.5 571.6,621.7 581.6,634.0 591.5,645.9 601.5,652.0" fill="none" stroke="#7f7f7f" stroke-width="3.6" stroke-linejoin="round"/>
<circle cx="103.3" cy="456.4" r="5.9" fill="#440154"/>
<circle cx="113.3" cy="450.9" r="5.9" fill="#440154"/>
<circle cx="123.2" cy="431.9" r="5.9" fill="#355f8d"/>
<circle cx="133.2" cy="399.8" r="5.9" fill="#460a5c"/>
<circle cx="143.2" cy="375.7" r="5.9" fill="#460a5c"/>
<circle cx="153.1" cy="365.0" r="5.9" fill="#440154"/>
<circle cx="163.1" cy="367.9" r="5.9" fill="#21918c"/>
<circle cx="173.0" cy="369.5" r="5.9" fill="#355f8d"/>
<circle cx="183.0" cy="372.0" r="5.9" fill="#482475"/>
<circle cx="193.0" cy="375.2" r="5.9" fill="#471365"/>
<circle cx="202.9" cy="378.7" r="5.9" fill="#471365"/>
<circle cx="212.9" cy="382.2" r="5.9" fill="#472c7a"/>
<circle cx="222.9" cy="385.3" r="5.9" fill="#481c6d"/>
<circle cx="232.8" cy="387.9" r="5.9" fill="#471365"/>
<circle cx="242.8" cy="389.6" r="5.9" fill="#471365"/>
<circle cx="252.8" cy="391.6" r="5.9" fill="#355f8d"/>
<circle cx="262.7" cy="393.0" r="5.9" fill="#3e4b89"/>
<circle cx="272.7" cy="394.0" r="5.9" fill="#463480"/>
<circle cx="282.7" cy="394.0" r="5.9" fill="#3e4b89"/>
<circle cx="292.6" cy="394.0" r="5.9" fill="#3b528b"/>
<circle cx="302.6" cy="395.7" r="5.9" fill="#38588c"/>
<circle cx="312.5" cy="397.7" r="5.9" fill="#463480"/>
<circle cx="322.5" cy="398.5" r="5.9" fill="#471365"/>
<circle cx="332.5" cy="396.5" r="5.9" fill="#463480"/>
<circle cx="342.4" cy="392.4" r="5.9" fill="#32668e"/>
<circle cx="352.4" cy="391.0" r="5.9" fill="#238a8d"/>
<circle cx="362.4" cy="392.4" r="5.9" fill="#355f8d"/>
<circle cx="372.3" cy="396.5" r="5.9" fill="#463480"/>
<circle cx="382.3" cy="398.5" r="5.9" fill="#463480"/>
<circle cx="392.3" cy="397.7" r="5.9" fill="#3e4b89"/>
<circle cx="402.2" cy="395.7" r="5.9" fill="#3b528b"/>
<circle cx="412.2" cy="394.0" r="5.9" fill="#3b528b"/>
<circle cx="422.1" cy="394.0" r="5.9" fill="#3e4b89"/>
<circle cx="432.1" cy="394.0" r="5.9" fill="#414487"/>
<circle cx="442.1" cy="393.0" r="5.9" fill="#440154"/>
<circle cx="452.0" cy="391.6" r="5.9" fill="#32668e"/>
<circle cx="462.0" cy="389.6" r="5.9" fill="#440154"/>
<circle cx="472.0" cy="387.9" r="5.9" fill="#482475"/>
<circle cx="481.9" cy="385.3" r="5.9" fill="#472c7a"/>
<circle cx="491.9" cy="382.2" r="5.9" fill="#460a5c"/>
<circle cx="501.9" cy="378.7" r="5.9" fill="#471365"/>
<circle cx="511.8" cy="375.2" r="5.9" fill="#481c6d"/>
<circle cx="521.8" cy="372.0" r="5.9" fill="#472c7a"/>
<circle cx="531.8" cy="369.5" r="5.9" fill="#3b528b"/>
<circle cx="541.7" cy="367.9" r="5.9" fill="#287e8e"/>
<circle cx="551.7" cy="365.0" r="5.9" fill="#2a788e"/>
<circle cx="561.6" cy="375.7" r="5.9" fill="#460a5c"/>
<circle cx="571.6" cy="399.8" r="5.9" fill="#481c6d"/>
<circle cx="581.6" cy="431.9" r="5.9" fill="#32668e"/>
<circle cx="591.5" cy="450.9" r="5.9" fill="#440154"/>
<circle cx="601.5" cy="456.4" r="5.9" fill="#440154"/>
<circle cx="103.3" cy="483.6" r="5.9" fill="#414487"/>
<circle cx="113.3" cy="478.3" r="5.9" fill="#2c728e"/>
<circle cx="123.2" cy="462.5" r="5.9" fill="#2a788e"/>
<circle cx="133.2" cy="443.5" r="5.9" fill="#2c728e"/>
<circle cx="143.2" cy="425.1" r="5.9" fill="#32668e"/>
<circle cx="153.1" cy="416.9" r="5.9" fill="#440154"/>
<circle cx="163.1" cy="416.1" r="5.9" fill="#443c84"/>
<circle cx="173.0" cy="423.3" r="5.9" fill="#482475"/>
<circle cx="183.0" cy="430.8" r="5.9" fill="#463480"/>
<circle cx="193.0" cy="439.4" r="5.9" fill="#463480"/>
<circle cx="202.9" cy="445.6" r="5.9" fill="#482475"/>
<circle cx="212.9" cy="437.4" r="5.9" fill="#482475"/>
<circle cx="222.9" cy="414.3" r="5.9" fill="#440154"/>
<circle cx="232.8" cy="403.5" r="5.9" fill="#440154"/>
<circle cx="242.8" cy="404.7" r="5.9" fill="#21918c"/>
<circle cx="252.8" cy="405.3" r="5.9" fill="#355f8d"/>
<circle cx="262.7" cy="409.6" r="5.9" fill="#440154"/>
<circle cx="272.7" cy="413.7" r="5.9" fill="#2a788e"/>
<circle cx="282.7" cy="416.5" r="5.9" fill="#238a8d"/>
<circle cx="292.6" cy="421.8" r="5.9" fill="#481c6d"/>
<circle cx="302.6" cy="421.0" r="5.9" fill="#440154"/>
<circle cx="312.5" cy="415.5" r="5.9" fill="#21918c"/>
<circle cx="322.5" cy="422.3" r="5.9" fill="#471365"/>
<circle cx="332.5" cy="422.7" r="5.9" fill="#471365"/>
<circle cx="342.4" cy="416.9" r="5.9" fill="#482475"/>
<circle cx="352.4" cy="414.5" r="5.9" fill="#443c84"/>
<circle cx="362.4" cy="416.9" r="5.9" fill="#482475"/>
<circle cx="372.3" cy="422.7" r="5.9" fill="#482475"/>
<circle cx="382.3" cy="422.3" r="5.9" fill="#443c84"/>
<circle cx="392.3" cy="418.6" r="5.9" fill="#482475"/>
<circle cx="402.2" cy="421.0" r="5.9" fill="#460a5c"/>
<circle cx="412.2" cy="421.8" r="5.9" fill="#482475"/>
<circle cx="422.1" cy="416.5" r="5.9" fill="#21918c"/>
<circle cx="432.1" cy="413.7" r="5.9" fill="#287e8e"/>
<circle cx="442.1" cy="409.6" r="5.9" fill="#440154"/>
<circle cx="452.0" cy="405.3" r="5.9" fill="#32668e"/>
<circle cx="462.0" cy="400.6" r="5.9" fill="#440154"/>
<circle cx="472.0" cy="403.5" r="5.9" fill="#440154"/>
<circle cx="481.9" cy="414.3" r="5.9" fill="#460a5c"/>
<circle cx="491.9" cy="437.4" r="5.9" fill="#414487"/>
<circle cx="501.9" cy="445.6" r="5.9" fill="#482475"/>
<circle cx="511.8" cy="439.4" r="5.9" fill="#443c84"/>
<circle cx="521.8" cy="430.8" r="5.9" fill="#443c84"/>
<circle cx="531.8" cy="423.3" r="5.9" fill="#472c7a"/>
<circle cx="541.7" cy="416.1" r="5.9" fill="#3e4b89"/>
<circle cx="551.7" cy="416.9" r="5.9" fill="#3b528b"/>
<circle cx="561.6" cy="425.1" r="5.9" fill="#355f8d"/>
<circle cx="571.6" cy="443.5" r="5.9" fill="#287e8e"/>
<circle cx="581.6" cy="462.5" r="5.9" fill="#238a8d"/>
<circle cx="591.5" cy="478.3" r="5.9" fill="#2c728e"/>
<circle cx="601.5" cy="483.6" r="5.9" fill="#414487"/>
<circle cx="103.3" cy="527.6" r="5.9" fill="#21918c"/>
<circle cx="113.3" cy="520.1" r="5.9" fill="#2fb47c"/>
<circle cx="123.2" cy="503.7" r="5.9" fill="#3aba76"/>
<circle cx="133.2" cy="483.0" r="5.9" fill="#44bf70"/>
<circle cx="143.2" cy="468.0" r="5.9" fill="#2fb47c"/>
<circle cx="153.1" cy="464.6" r="5.9" fill="#440154"/>
<circle cx="163.1" cy="463.5" r="5.9" fill="#21918c"/>
<circle cx="173.0" cy="471.9" r="5.9" fill="#2a788e"/>
<circle cx="183.0" cy="480.7" r="5.9" fill="#2a788e"/>
<circle cx="193.0" cy="485.0" r="5.9" fill="#2a788e"/>
<circle cx="202.9" cy="478.9" r="5.9" fill="#3e4b89"/>
<circle cx="212.9" cy="466.8" r="5.9" fill="#2c728e"/>
<circle cx="222.9" cy="469.7" r="5.9" fill="#2f6c8e"/>
<circle cx="232.8" cy="472.6" r="5.9" fill="#2a788e"/>
<circle cx="242.8" cy="479.2" r="5.9" fill="#1e9c89"/>
<circle cx="252.8" cy="481.5" r="5.9" fill="#22a884"/>
<circle cx="262.7" cy="480.3" r="5.9" fill="#2a788e"/>
<circle cx="272.7" cy="480.3" r="5.9" fill="#2a788e"/>
<circle cx="282.7" cy="481.5" r="5.9" fill="#414487"/>
<circle cx="292.6" cy="465.2" r="5.9" fill="#414487"/>
<circle cx="302.6" cy="443.5" r="5.9" fill="#3e4b89"/>
<circle cx="312.5" cy="439.4" r="5.9" fill="#355f8d"/>
<circle cx="322.5" cy="445.1" r="5.9" fill="#2a788e"/>
<circle cx="332.5" cy="447.6" r="5.9" fill="#463480"/>
<circle cx="342.4" cy="442.7" r="5.9" fill="#472c7a"/>
<circle cx="352.4" cy="440.0" r="5.9" fill="#463480"/>
<circle cx="362.4" cy="442.7" r="5.9" fill="#463480"/>
<circle cx="372.3" cy="447.6" r="5.9" fill="#414487"/>
<circle cx="382.3" cy="445.1" r="5.9" fill="#2f6c8e"/>
<circle cx="392.3" cy="439.4" r="5.9" fill="#414487"/>
<circle cx="402.2" cy="443.5" r="5.9" fill="#443c84"/>
<circle cx="412.2" cy="465.2" r="5.9" fill="#414487"/>
<circle cx="422.1" cy="481.5" r="5.9" fill="#414487"/>
<circle cx="432.1" cy="480.3" r="5.9" fill="#2c728e"/>
<circle cx="442.1" cy="480.3" r="5.9" fill="#460a5c"/>
<circle cx="452.0" cy="481.5" r="5.9" fill="#21918c"/>
<circle cx="462.0" cy="479.2" r="5.9" fill="#460a5c"/>
<circle cx="472.0" cy="472.6" r="5.9" fill="#2a788e"/>
<circle cx="481.9" cy="469.7" r="5.9" fill="#2c728e"/>
<circle cx="491.9" cy="466.8" r="5.9" fill="#355f8d"/>
<circle cx="501.9" cy="478.9" r="5.9" fill="#2c728e"/>
<circle cx="511.8" cy="485.0" r="5.9" fill="#32668e"/>
<circle cx="521.8" cy="480.7" r="5.9" fill="#32668e"/>
<circle cx="531.8" cy="471.9" r="5.9" fill="#25848e"/>
<circle cx="541.7" cy="463.5" r="5.9" fill="#22a884"/>
<circle cx="551.7" cy="464.6" r="5.9" fill="#20968a"/>
<circle cx="561.6" cy="468.0" r="5.9" fill="#22a884"/>
<circle cx="571.6" cy="483.0" r="5.9" fill="#5ec962"/>
<circle cx="581.6" cy="503.7" r="5.9" fill="#44bf70"/>
<circle cx="591.5" cy="520.1" r="5.9" fill="#2fb47c"/>
<circle cx="601.5" cy="527.6" r="5.9" fill="#21918c"/>
<circle cx="103.3" cy="575.3" r="5.9" fill="#3aba76"/>
<circle cx="113.3" cy="568.1" r="5.9" fill="#6ccd5a"/>
<circle cx="123.2" cy="552.8" r="5.9" fill="#355f8d"/>
<circle cx="133.2" cy="531.3" r="5.9" fill="#355f8d"/>
<circle cx="143.2" cy="514.6" r="5.9" fill="#355f8d"/>
<circle cx="153.1" cy="509.9" r="5.9" fill="#440154"/>
<circle cx="163.1" cy="511.3" r="5.9" fill="#21918c"/>
<circle cx="173.0" cy="514.2" r="5.9" fill="#2fb47c"/>
<circle cx="183.0" cy="522.3" r="5.9" fill="#51c469"/>
<circle cx="193.0" cy="529.6" r="5.9" fill="#7ad151"/>
<circle cx="202.9" cy="528.8" r="5.9" fill="#3aba76"/>
<circle cx="212.9" cy="526.6" r="5.9" fill="#1e9c89"/>
<circle cx="222.9" cy="518.6" r="5.9" fill="#2a788e"/>
<circle cx="232.8" cy="510.6" r="5.9" fill="#32668e"/>
<circle cx="242.8" cy="511.3" r="5.9" fill="#2a788e"/>
<circle cx="252.8" cy="519.5" r="5.9" fill="#2c728e"/>
<circle cx="262.7" cy="518.6" r="5.9" fill="#2a788e"/>
<circle cx="272.7" cy="516.6" r="5.9" fill="#32668e"/>
<circle cx="282.7" cy="513.3" r="5.9" fill="#2a788e"/>
<circle cx="292.6" cy="508.8" r="5.9" fill="#20a286"/>
<circle cx="302.6" cy="504.7" r="5.9" fill="#22a884"/>
<circle cx="312.5" cy="502.7" r="5.9" fill="#22a884"/>
<circle cx="322.5" cy="505.8" r="5.9" fill="#22a884"/>
<circle cx="332.5" cy="522.1" r="5.9" fill="#28ae80"/>
<circle cx="342.4" cy="544.6" r="5.9" fill="#acdc31"/>
<circle cx="352.4" cy="553.8" r="5.9" fill="#fde725"/>
<circle cx="362.4" cy="544.6" r="5.9" fill="#acdc31"/>
<circle cx="372.3" cy="522.1" r="5.9" fill="#44bf70"/>
<circle cx="382.3" cy="505.8" r="5.9" fill="#20a286"/>
<circle cx="392.3" cy="502.7" r="5.9" fill="#1e9c89"/>
<circle cx="402.2" cy="504.7" r="5.9" fill="#22a884"/>
<circle cx="412.2" cy="508.8" r="5.9" fill="#1e9c89"/>
<circle cx="422.1" cy="513.3" r="5.9" fill="#238a8d"/>
<circle cx="432.1" cy="516.6" r="5.9" fill="#32668e"/>
<circle cx="442.1" cy="518.6" r="5.9" fill="#440154"/>
<circle cx="452.0" cy="519.5" r="5.9" fill="#2a788e"/>
<circle cx="462.0" cy="511.3" r="5.9" fill="#440154"/>
<circle cx="472.0" cy="510.6" r="5.9" fill="#2a788e"/>
<circle cx="481.9" cy="518.6" r="5.9" fill="#2a788e"/>
<circle cx="491.9" cy="526.6" r="5.9" fill="#25848e"/>
<circle cx="501.9" cy="528.8" r="5.9" fill="#2fb47c"/>
<circle cx="511.8" cy="529.6" r="5.9" fill="#44bf70"/>
<circle cx="521.8" cy="522.3" r="5.9" fill="#3aba76"/>
<circle cx="531.8" cy="514.2" r="5.9" fill="#6ccd5a"/>
<circle cx="541.7" cy="511.3" r="5.9" fill="#22a884"/>
<circle cx="551.7" cy="509.9" r="5.9" fill="#443c84"/>
<circle cx="561.6" cy="514.6" r="5.9" fill="#3b528b"/>
<circle cx="571.6" cy="531.3" r="5.9" fill="#32668e"/>
<circle cx="581.6" cy="552.8" r="5.9" fill="#2a788e"/>
<circle cx="591.5" cy="568.1" r="5.9" fill="#2fb47c"/>
<circle cx="601.5" cy="575.3" r="5.9" fill="#2fb47c"/>
<circle cx="103.3" cy="622.8" r="5.9" fill="#440154"/>
<circle cx="113.3" cy="615.6" r="5.9" fill="#482475"/>
<circle cx="123.2" cy="598.9" r="5.9" fill="#471365"/>
<circle cx="133.2" cy="576.2" r="5.9" fill="#32668e"/>
<circle cx="143.2" cy="556.8" r="5.9" fill="#25848e"/>
<circle cx="153.1" cy="546.5" r="5.9" fill="#440154"/>
<circle cx="163.1" cy="549.0" r="5.9" fill="#440154"/>
<circle cx="173.0" cy="573.1" r="5.9" fill="#460a5c"/>
<circle cx="183.0" cy="603.0" r="5.9" fill="#440154"/>
<circle cx="193.0" cy="616.6" r="5.9" fill="#440154"/>
<circle cx="202.9" cy="619.7" r="5.9" fill="#440154"/>
<circle cx="212.9" cy="618.7" r="5.9" fill="#471365"/>
<circle cx="222.9" cy="615.4" r="5.9" fill="#355f8d"/>
<circle cx="232.8" cy="611.5" r="5.9" fill="#238a8d"/>
<circle cx="242.8" cy="607.9" r="5.9" fill="#20a286"/>
<circle cx="252.8" cy="605.8" r="5.9" fill="#22a884"/>
<circle cx="262.7" cy="606.4" r="5.9" fill="#1e9c89"/>
<circle cx="272.7" cy="607.0" r="5.9" fill="#25848e"/>
<circle cx="282.7" cy="605.8" r="5.9" fill="#2a788e"/>
<circle cx="292.6" cy="605.4" r="5.9" fill="#355f8d"/>
<circle cx="302.6" cy="606.4" r="5.9" fill="#463480"/>
<circle cx="312.5" cy="602.9" r="5.9" fill="#3e4b89"/>
<circle cx="322.5" cy="600.3" r="5.9" fill="#2f6c8e"/>
<circle cx="332.5" cy="602.9" r="5.9" fill="#2f6c8e"/>
<circle cx="342.4" cy="607.0" r="5.9" fill="#2a788e"/>
<circle cx="352.4" cy="609.5" r="5.9" fill="#25848e"/>
<circle cx="362.4" cy="607.0" r="5.9" fill="#25848e"/>
<circle cx="372.3" cy="602.9" r="5.9" fill="#25848e"/>
<circle cx="382.3" cy="600.3" r="5.9" fill="#355f8d"/>
<circle cx="392.3" cy="602.9" r="5.9" fill="#463480"/>
<circle cx="402.2" cy="606.4" r="5.9" fill="#472c7a"/>
<circle cx="412.2" cy="605.4" r="5.9" fill="#355f8d"/>
<circle cx="422.1" cy="605.8" r="5.9" fill="#2c728e"/>
<circle cx="432.1" cy="607.0" r="5.9" fill="#2c728e"/>
<circle cx="442.1" cy="606.4" r="5.9" fill="#440154"/>
<circle cx="452.0" cy="605.8" r="5.9" fill="#1e9c89"/>
<circle cx="462.0" cy="607.9" r="5.9" fill="#440154"/>
<circle cx="472.0" cy="611.5" r="5.9" fill="#22a884"/>
<circle cx="481.9" cy="615.4" r="5.9" fill="#2c728e"/>
<circle cx="491.9" cy="618.7" r="5.9" fill="#472c7a"/>
<circle cx="501.9" cy="619.7" r="5.9" fill="#3e4b89"/>
<circle cx="511.8" cy="616.6" r="5.9" fill="#460a5c"/>
<circle cx="521.8" cy="603.0" r="5.9" fill="#482475"/>
<circle cx="531.8" cy="573.1" r="5.9" fill="#460a5c"/>
<circle cx="541.7" cy="549.0" r="5.9" fill="#471365"/>
<circle cx="551.7" cy="546.5" r="5.9" fill="#471365"/>
<circle cx="561.6" cy="556.8" r="5.9" fill="#2a788e"/>
<circle cx="571.6" cy="576.2" r="5.9" fill="#2f6c8e"/>
<circle cx="581.6" cy="598.9" r="5.9" fill="#471365"/>
<circle cx="591.5" cy="615.6" r="5.9" fill="#481c6d"/>
<circle cx="601.5" cy="622.8" r="5.9" fill="#440154"/>
<circle cx="103.3" cy="652.0" r="5.9" fill="#443c84"/>
<circle cx="113.3" cy="645.9" r="5.9" fill="#32668e"/>
<circle cx="123.2" cy="634.0" r="5.9" fill="#2a788e"/>
<circle cx="133.2" cy="621.7" r="5.9" fill="#32668e"/>
<circle cx="143.2" cy="610.5" r="5.9" fill="#355f8d"/>
<circle cx="153.1" cy="600.9" r="5.9" fill="#440154"/>
<circle cx="163.1" cy="590.5" r="5.9" fill="#472c7a"/>
<circle cx="173.0" cy="583.3" r="5.9" fill="#472c7a"/>
<circle cx="183.0" cy="572.3" r="5.9" fill="#3e4b89"/>
<circle cx="193.0" cy="565.5" r="5.9" fill="#3e4b89"/>
<circle cx="202.9" cy="560.4" r="5.9" fill="#414487"/>
<circle cx="212.9" cy="556.3" r="5.9" fill="#463480"/>
<circle cx="222.9" cy="551.8" r="5.9" fill="#460a5c"/>
<circle cx="232.8" cy="547.5" r="5.9" fill="#460a5c"/>
<circle cx="242.8" cy="546.0" r="5.9" fill="#471365"/>
<circle cx="252.8" cy="554.2" r="5.9" fill="#482475"/>
<circle cx="262.7" cy="575.3" r="5.9" fill="#440154"/>
<circle cx="272.7" cy="584.0" r="5.9" fill="#440154"/>
<circle cx="282.7" cy="580.8" r="5.9" fill="#472c7a"/>
<circle cx="292.6" cy="580.4" r="5.9" fill="#355f8d"/>
<circle cx="302.6" cy="580.6" r="5.9" fill="#38588c"/>
<circle cx="312.5" cy="578.3" r="5.9" fill="#38588c"/>
<circle cx="322.5" cy="574.2" r="5.9" fill="#3b528b"/>
<circle cx="332.5" cy="575.5" r="5.9" fill="#3b528b"/>
<circle cx="342.4" cy="581.1" r="5.9" fill="#2c728e"/>
<circle cx="352.4" cy="584.8" r="5.9" fill="#2c728e"/>
<circle cx="362.4" cy="581.1" r="5.9" fill="#287e8e"/>
<circle cx="372.3" cy="575.5" r="5.9" fill="#32668e"/>
<circle cx="382.3" cy="574.2" r="5.9" fill="#3e4b89"/>
<circle cx="392.3" cy="578.3" r="5.9" fill="#414487"/>
<circle cx="402.2" cy="580.6" r="5.9" fill="#38588c"/>
<circle cx="412.2" cy="580.4" r="5.9" fill="#38588c"/>
<circle cx="422.1" cy="580.8" r="5.9" fill="#414487"/>
<circle cx="432.1" cy="584.0" r="5.9" fill="#443c84"/>
<circle cx="442.1" cy="575.3" r="5.9" fill="#440154"/>
<circle cx="452.0" cy="554.2" r="5.9" fill="#482475"/>
<circle cx="462.0" cy="546.0" r="5.9" fill="#440154"/>
<circle cx="472.0" cy="547.5" r="5.9" fill="#471365"/>
<circle cx="481.9" cy="551.8" r="5.9" fill="#482475"/>
<circle cx="491.9" cy="556.3" r="5.9" fill="#472c7a"/>
<circle cx="501.9" cy="560.4" r="5.9" fill="#3b528b"/>
<circle cx="511.8" cy="565.5" r="5.9" fill="#3b528b"/>
<circle cx="521.8" cy="572.3" r="5.9" fill="#3e4b89"/>
<circle cx="531.8" cy="583.3" r="5.9" fill="#443c84"/>
<circle cx="541.7" cy="590.5" r="5.9" fill="#414487"/>
<circle cx="551.7" cy="600.9" r="5.9" fill="#443c84"/>
<circle cx="561.6" cy="610.5" r="5.9" fill="#38588c"/>
<circle cx="571.6" cy="621.7" r="5.9" fill="#32668e"/>
<circle cx="581.6" cy="634.0" r="5.9" fill="#2a788e"/>
<circle cx="591.5" cy="645.9" r="5.9" fill="#355f8d"/>
<circle cx="601.5" cy="652.0" r="5.9" fill="#414487"/>
<defs><linearGradient id="vir" x1="0" y1="1" x2="0" y2="0"><stop offset="0.00" stop-color="#440154"/><stop offset="0.05" stop-color="#471365"/><stop offset="0.10" stop-color="#482475"/><stop offset="0.15" stop-color="#463480"/><stop offset="0.20" stop-color="#414487"/><stop offset="0.25" stop-color="#3b528b"/><stop offset="0.30" stop-color="#355f8d"/><stop offset="0.35" stop-color="#2f6c8e"/><stop offset="0.40" stop-color="#2a788e"/><stop offset="0.45" stop-color="#25848e"/><stop offset="0.50" stop-color="#21918c"/><stop offset="0.55" stop-color="#1e9c89"/><stop offset="0.60" stop-color="#22a884"/><stop offset="0.65" stop-color="#2fb47c"/><stop offset="0.70" stop-color="#44bf70"/><stop offset="0.75" stop-color="#5ec962"/><stop offset="0.80" stop-color="#7ad151"/><stop offset="0.85" stop-color="#9bd93c"/><stop offset="0.90" stop-color="#bddf26"/><stop offset="0.95" stop-color="#dfe318"/><stop offset="1.00" stop-color="#fde725"/></linearGradient></defs>
<rect x="627.4" y="399.4" width="21" height="267.6" fill="url(#vir)" stroke="#0c0c0c" stroke-width="2.2"/>
<text x="656.3" y="672.0" font-size="19.5" text-anchor="start" >0.0</text>
<line x1="648.4" y1="600.4" x2="644.4" y2="600.4" stroke="#000" stroke-width="1.3" />
<text x="656.3" y="608.6" font-size="19.5" text-anchor="start" >0.5</text>
<line x1="648.4" y1="533.1" x2="644.4" y2="533.1" stroke="#000" stroke-width="1.3" />
<text x="656.3" y="542.0" font-size="19.5" text-anchor="start" >1.0</text>
<line x1="648.4" y1="465.9" x2="644.4" y2="465.9" stroke="#000" stroke-width="1.3" />
<text x="656.3" y="474.3" font-size="19.5" text-anchor="start" >1.5</text>
<text x="656.3" y="410.7" font-size="19.5" text-anchor="start" >2.0</text>
<text x="596.5" y="365.8" font-size="21.1" text-anchor="start" >Deviation</text>
<text x="638.0" y="389.6" font-size="18.4" text-anchor="middle" >MHz</text>
<text x="19.0" y="692.5" font-size="26" text-anchor="start" font-weight="bold">(c)</text>
<rect x="90.4" y="688.4" width="523.0" height="314.9" fill="none" stroke="#000" stroke-width="1.9"/>
<line x1="90.4" y1="1003.6" x2="94.4" y2="1003.6" stroke="#000" stroke-width="1.3" />
<line x1="613.4" y1="1003.6" x2="609.4" y2="1003.6" stroke="#000" stroke-width="1.3" />
<text x="82.2" y="1011.6" font-size="19.5" text-anchor="end" >0</text>
<line x1="90.4" y1="864.3" x2="94.4" y2="864.3" stroke="#000" stroke-width="1.3" />
<line x1="613.4" y1="864.3" x2="609.4" y2="864.3" stroke="#000" stroke-width="1.3" />
<text x="82.2" y="872.3" font-size="19.5" text-anchor="end" >1</text>
<line x1="90.4" y1="725.0" x2="94.4" y2="725.0" stroke="#000" stroke-width="1.3" />
<line x1="613.4" y1="725.0" x2="609.4" y2="725.0" stroke="#000" stroke-width="1.3" />
<text x="82.2" y="733.0" font-size="19.5" text-anchor="end" >2</text>
<line x1="100.2" y1="1003.3" x2="100.2" y2="999.3" stroke="#000" stroke-width="1.3" />
<line x1="100.2" y1="688.4" x2="100.2" y2="692.4" stroke="#000" stroke-width="1.3" />
<text x="101.4" y="1025.4" font-size="19.5" text-anchor="middle" >0.0</text>
<line x1="200.7" y1="1003.3" x2="200.7" y2="999.3" stroke="#000" stroke-width="1.3" />
<line x1="200.7" y1="688.4" x2="200.7" y2="692.4" stroke="#000" stroke-width="1.3" />
<text x="201.9" y="1025.4" font-size="19.5" text-anchor="middle" >0.2</text>
<line x1="301.2" y1="1003.3" x2="301.2" y2="999.3" stroke="#000" stroke-width="1.3" />
<line x1="301.2" y1="688.4" x2="301.2" y2="692.4" stroke="#000" stroke-width="1.3" />
<text x="302.4" y="1025.4" font-size="19.5" text-anchor="middle" >0.4</text>
<line x1="401.8" y1="1003.3" x2="401.8" y2="999.3" stroke="#000" stroke-width="1.3" />
<line x1="401.8" y1="688.4" x2="401.8" y2="692.4" stroke="#000" stroke-width="1.3" />
<text x="403.0" y="1025.4" font-size="19.5" text-anchor="middle" >0.6</text>
<line x1="502.3" y1="1003.3" x2="502.3" y2="999.3" stroke="#000" stroke-width="1.3" />
<line x1="502.3" y1="688.4" x2="502.3" y2="692.4" stroke="#000" stroke-width="1.3" />
<text x="503.5" y="1025.4" font-size="19.5" text-anchor="middle" >0.8</text>
<line x1="602.8" y1="1003.3" x2="602.8" y2="999.3" stroke="#000" stroke-width="1.3" />
<line x1="602.8" y1="688.4" x2="602.8" y2="692.4" stroke="#000" stroke-width="1.3" />
<text x="604.0" y="1025.4" font-size="19.5" text-anchor="middle" >1.0</text>
<text x="0.0" y="0.0" font-size="21.1" text-anchor="middle" transform="translate(40.8,853.5) rotate(-90)">Analog imp. error [MHz]</text>
<text x="281" y="1050.8" font-size="21.1">Magnetic flux <tspan font-style="italic" dx="4">b</tspan></text>
<circle cx="100.1" cy="957.1" r="6.1" fill="#927b10"/>
<circle cx="110.1" cy="951.3" r="6.1" fill="#927b10"/>
<circle cx="120.2" cy="947.3" r="6.1" fill="#927b10"/>
<circle cx="130.2" cy="947.9" r="6.1" fill="#927b10"/>
<circle cx="140.3" cy="952.0" r="6.1" fill="#927b10"/>
<circle cx="150.3" cy="957.1" r="6.1" fill="#927b10"/>
<circle cx="160.4" cy="953.4" r="6.1" fill="#927b10"/>
<circle cx="170.4" cy="954.6" r="6.1" fill="#927b10"/>
<circle cx="180.5" cy="959.5" r="6.1" fill="#927b10"/>
<circle cx="190.6" cy="964.2" r="6.1" fill="#927b10"/>
<circle cx="200.6" cy="966.9" r="6.1" fill="#927b10"/>
<circle cx="210.7" cy="972.4" r="6.1" fill="#927b10"/>
<circle cx="220.7" cy="964.8" r="6.1" fill="#927b10"/>
<circle cx="230.8" cy="961.4" r="6.1" fill="#927b10"/>
<circle cx="240.8" cy="957.1" r="6.1" fill="#927b10"/>
<circle cx="250.8" cy="954.6" r="6.1" fill="#927b10"/>
<circle cx="260.9" cy="961.2" r="6.1" fill="#927b10"/>
<circle cx="271.0" cy="968.9" r="6.1" fill="#927b10"/>
<circle cx="281.0" cy="965.7" r="6.1" fill="#927b10"/>
<circle cx="291.1" cy="965.2" r="6.1" fill="#927b10"/>
<circle cx="301.1" cy="966.9" r="6.1" fill="#927b10"/>
<circle cx="311.1" cy="970.4" r="6.1" fill="#927b10"/>
<circle cx="321.2" cy="968.3" r="6.1" fill="#927b10"/>
<circle cx="331.2" cy="961.6" r="6.1" fill="#927b10"/>
<circle cx="341.3" cy="948.5" r="6.1" fill="#927b10"/>
<circle cx="351.4" cy="940.3" r="6.1" fill="#927b10"/>
<circle cx="361.4" cy="949.9" r="6.1" fill="#927b10"/>
<circle cx="371.5" cy="963.2" r="6.1" fill="#927b10"/>
<circle cx="381.5" cy="963.6" r="6.1" fill="#927b10"/>
<circle cx="391.6" cy="962.8" r="6.1" fill="#927b10"/>
<circle cx="401.6" cy="963.2" r="6.1" fill="#927b10"/>
<circle cx="411.6" cy="967.7" r="6.1" fill="#927b10"/>
<circle cx="421.7" cy="967.7" r="6.1" fill="#927b10"/>
<circle cx="431.8" cy="966.3" r="6.1" fill="#927b10"/>
<circle cx="441.8" cy="957.1" r="6.1" fill="#927b10"/>
<circle cx="451.9" cy="952.6" r="6.1" fill="#927b10"/>
<circle cx="461.9" cy="953.4" r="6.1" fill="#927b10"/>
<circle cx="472.0" cy="963.2" r="6.1" fill="#927b10"/>
<circle cx="482.0" cy="968.3" r="6.1" fill="#927b10"/>
<circle cx="492.1" cy="968.3" r="6.1" fill="#927b10"/>
<circle cx="502.1" cy="963.6" r="6.1" fill="#927b10"/>
<circle cx="512.1" cy="963.2" r="6.1" fill="#927b10"/>
<circle cx="522.2" cy="958.7" r="6.1" fill="#927b10"/>
<circle cx="532.2" cy="960.7" r="6.1" fill="#927b10"/>
<circle cx="542.3" cy="957.1" r="6.1" fill="#927b10"/>
<circle cx="552.4" cy="953.0" r="6.1" fill="#927b10"/>
<circle cx="562.4" cy="949.9" r="6.1" fill="#927b10"/>
<circle cx="572.5" cy="950.5" r="6.1" fill="#927b10"/>
<circle cx="582.5" cy="949.3" r="6.1" fill="#927b10"/>
<circle cx="592.6" cy="952.0" r="6.1" fill="#927b10"/>
<circle cx="602.6" cy="957.5" r="6.1" fill="#927b10"/>
<line x1="100.1" y1="891.7" x2="100.1" y2="928.9" stroke="#9b9b9b" stroke-width="2.6" stroke-linecap="round"/>
<line x1="100.1" y1="901.3" x2="100.1" y2="918.6" stroke="#8a3a3a" stroke-width="2.4"/>
<line x1="96.4" y1="901.3" x2="103.8" y2="901.3" stroke="#8a3a3a" stroke-width="2.2"/>
<line x1="96.4" y1="918.6" x2="103.8" y2="918.6" stroke="#8a3a3a" stroke-width="2.2"/>
<circle cx="100.1" cy="910.1" r="6.2" fill="#7e0e0e"/>
<line x1="110.1" y1="875.3" x2="110.1" y2="910.0" stroke="#9b9b9b" stroke-width="2.6" stroke-linecap="round"/>
<line x1="110.1" y1="883.5" x2="110.1" y2="901.5" stroke="#8a3a3a" stroke-width="2.4"/>
<line x1="106.4" y1="883.5" x2="113.8" y2="883.5" stroke="#8a3a3a" stroke-width="2.2"/>
<line x1="106.4" y1="901.5" x2="113.8" y2="901.5" stroke="#8a3a3a" stroke-width="2.2"/>
<circle cx="110.1" cy="892.7" r="6.2" fill="#7e0e0e"/>
<line x1="120.2" y1="892.7" x2="120.2" y2="930.5" stroke="#9b9b9b" stroke-width="2.6" stroke-linecap="round"/>
<line x1="120.2" y1="901.9" x2="120.2" y2="920.3" stroke="#8a3a3a" stroke-width="2.4"/>
<line x1="116.5" y1="901.9" x2="123.9" y2="901.9" stroke="#8a3a3a" stroke-width="2.2"/>
<line x1="116.5" y1="920.3" x2="123.9" y2="920.3" stroke="#8a3a3a" stroke-width="2.2"/>
<circle cx="120.2" cy="911.1" r="6.2" fill="#7e0e0e"/>
<line x1="130.2" y1="896.8" x2="130.2" y2="939.7" stroke="#9b9b9b" stroke-width="2.6" stroke-linecap="round"/>
<line x1="130.2" y1="909.0" x2="130.2" y2="928.0" stroke="#8a3a3a" stroke-width="2.4"/>
<line x1="126.5" y1="909.0" x2="133.9" y2="909.0" stroke="#8a3a3a" stroke-width="2.2"/>
<line x1="126.5" y1="928.0" x2="133.9" y2="928.0" stroke="#8a3a3a" stroke-width="2.2"/>
<circle cx="130.2" cy="917.8" r="6.2" fill="#7e0e0e"/>
<line x1="140.3" y1="893.7" x2="140.3" y2="938.7" stroke="#9b9b9b" stroke-width="2.6" stroke-linecap="round"/>
<line x1="140.3" y1="906.4" x2="140.3" y2="926.4" stroke="#8a3a3a" stroke-width="2.4"/>
<line x1="136.6" y1="906.4" x2="144.0" y2="906.4" stroke="#8a3a3a" stroke-width="2.2"/>
<line x1="136.6" y1="926.4" x2="144.0" y2="926.4" stroke="#8a3a3a" stroke-width="2.2"/>
<circle cx="140.3" cy="915.8" r="6.2" fill="#7e0e0e"/>
<line x1="150.3" y1="896.8" x2="150.3" y2="932.5" stroke="#9b9b9b" stroke-width="2.6" stroke-linecap="round"/>
<line x1="150.3" y1="905.0" x2="150.3" y2="924.8" stroke="#8a3a3a" stroke-width="2.4"/>
<line x1="146.7" y1="905.0" x2="154.0" y2="905.0" stroke="#8a3a3a" stroke-width="2.2"/>
<line x1="146.7" y1="924.8" x2="154.0" y2="924.8" stroke="#8a3a3a" stroke-width="2.2"/>
<circle cx="150.3" cy="914.6" r="6.2" fill="#7e0e0e"/>
<line x1="160.4" y1="854.9" x2="160.4" y2="902.3" stroke="#9b9b9b" stroke-width="2.6" stroke-linecap="round"/>
<line x1="160.4" y1="869.2" x2="160.4" y2="888.0" stroke="#8a3a3a" stroke-width="2.4"/>
<line x1="156.7" y1="869.2" x2="164.1" y2="869.2" stroke="#8a3a3a" stroke-width="2.2"/>
<line x1="156.7" y1="888.0" x2="164.1" y2="888.0" stroke="#8a3a3a" stroke-width="2.2"/>
<circle cx="160.4" cy="878.8" r="6.2" fill="#7e0e0e"/>
<line x1="170.4" y1="762.9" x2="170.4" y2="813.0" stroke="#9b9b9b" stroke-width="2.6" stroke-linecap="round"/>
<line x1="170.4" y1="778.9" x2="170.4" y2="797.7" stroke="#8a3a3a" stroke-width="2.4"/>
<line x1="166.8" y1="778.9" x2="174.1" y2="778.9" stroke="#8a3a3a" stroke-width="2.2"/>
<line x1="166.8" y1="797.7" x2="174.1" y2="797.7" stroke="#8a3a3a" stroke-width="2.2"/>
<circle cx="170.4" cy="788.1" r="6.2" fill="#7e0e0e"/>
<line x1="180.5" y1="773.1" x2="180.5" y2="808.9" stroke="#9b9b9b" stroke-width="2.6" stroke-linecap="round"/>
<line x1="180.5" y1="780.9" x2="180.5" y2="800.7" stroke="#8a3a3a" stroke-width="2.4"/>
<line x1="176.8" y1="780.9" x2="184.2" y2="780.9" stroke="#8a3a3a" stroke-width="2.2"/>
<line x1="176.8" y1="800.7" x2="184.2" y2="800.7" stroke="#8a3a3a" stroke-width="2.2"/>
<circle cx="180.5" cy="791.1" r="6.2" fill="#7e0e0e"/>
<line x1="190.6" y1="749.6" x2="190.6" y2="784.4" stroke="#9b9b9b" stroke-width="2.6" stroke-linecap="round"/>
<line x1="190.6" y1="756.8" x2="190.6" y2="777.6" stroke="#8a3a3a" stroke-width="2.4"/>
<line x1="186.9" y1="756.8" x2="194.2" y2="756.8" stroke="#8a3a3a" stroke-width="2.2"/>
<line x1="186.9" y1="777.6" x2="194.2" y2="777.6" stroke="#8a3a3a" stroke-width="2.2"/>
<circle cx="190.6" cy="767.0" r="6.2" fill="#7e0e0e"/>
<line x1="200.6" y1="720.0" x2="200.6" y2="758.4" stroke="#9b9b9b" stroke-width="2.6" stroke-linecap="round"/>
<line x1="200.6" y1="726.5" x2="200.6" y2="747.0" stroke="#8a3a3a" stroke-width="2.4"/>
<line x1="196.9" y1="726.5" x2="204.3" y2="726.5" stroke="#8a3a3a" stroke-width="2.2"/>
<line x1="196.9" y1="747.0" x2="204.3" y2="747.0" stroke="#8a3a3a" stroke-width="2.2"/>
<circle cx="200.6" cy="736.8" r="6.2" fill="#7e0e0e"/>
<line x1="210.7" y1="820.6" x2="210.7" y2="860.6" stroke="#9b9b9b" stroke-width="2.6" stroke-linecap="round"/>
<line x1="210.7" y1="830.8" x2="210.7" y2="850.8" stroke="#8a3a3a" stroke-width="2.4"/>
<line x1="207.0" y1="830.8" x2="214.3" y2="830.8" stroke="#8a3a3a" stroke-width="2.2"/>
<line x1="207.0" y1="850.8" x2="214.3" y2="850.8" stroke="#8a3a3a" stroke-width="2.2"/>
<circle cx="210.7" cy="840.6" r="6.2" fill="#7e0e0e"/>
<line x1="220.7" y1="755.2" x2="220.7" y2="799.3" stroke="#9b9b9b" stroke-width="2.6" stroke-linecap="round"/>
<line x1="220.7" y1="767.4" x2="220.7" y2="787.0" stroke="#8a3a3a" stroke-width="2.4"/>
<line x1="217.0" y1="767.4" x2="224.4" y2="767.4" stroke="#8a3a3a" stroke-width="2.2"/>
<line x1="217.0" y1="787.0" x2="224.4" y2="787.0" stroke="#8a3a3a" stroke-width="2.2"/>
<circle cx="220.7" cy="777.2" r="6.2" fill="#7e0e0e"/>
<line x1="230.8" y1="826.7" x2="230.8" y2="878.4" stroke="#9b9b9b" stroke-width="2.6" stroke-linecap="round"/>
<line x1="230.8" y1="842.6" x2="230.8" y2="862.7" stroke="#8a3a3a" stroke-width="2.4"/>
<line x1="227.1" y1="842.6" x2="234.4" y2="842.6" stroke="#8a3a3a" stroke-width="2.2"/>
<line x1="227.1" y1="862.7" x2="234.4" y2="862.7" stroke="#8a3a3a" stroke-width="2.2"/>
<circle cx="230.8" cy="852.8" r="6.2" fill="#7e0e0e"/>
<line x1="240.8" y1="823.2" x2="240.8" y2="869.2" stroke="#9b9b9b" stroke-width="2.6" stroke-linecap="round"/>
<line x1="240.8" y1="836.9" x2="240.8" y2="855.9" stroke="#8a3a3a" stroke-width="2.4"/>
<line x1="237.1" y1="836.9" x2="244.5" y2="836.9" stroke="#8a3a3a" stroke-width="2.2"/>
<line x1="237.1" y1="855.9" x2="244.5" y2="855.9" stroke="#8a3a3a" stroke-width="2.2"/>
<circle cx="240.8" cy="846.3" r="6.2" fill="#7e0e0e"/>
<line x1="250.8" y1="824.2" x2="250.8" y2="877.4" stroke="#9b9b9b" stroke-width="2.6" stroke-linecap="round"/>
<line x1="250.8" y1="841.6" x2="250.8" y2="860.6" stroke="#8a3a3a" stroke-width="2.4"/>
<line x1="247.2" y1="841.6" x2="254.5" y2="841.6" stroke="#8a3a3a" stroke-width="2.2"/>
<line x1="247.2" y1="860.6" x2="254.5" y2="860.6" stroke="#8a3a3a" stroke-width="2.2"/>
<circle cx="250.8" cy="850.8" r="6.2" fill="#7e0e0e"/>
<line x1="260.9" y1="816.0" x2="260.9" y2="872.3" stroke="#9b9b9b" stroke-width="2.6" stroke-linecap="round"/>
<line x1="260.9" y1="834.4" x2="260.9" y2="853.9" stroke="#8a3a3a" stroke-width="2.4"/>
<line x1="257.2" y1="834.4" x2="264.6" y2="834.4" stroke="#8a3a3a" stroke-width="2.2"/>
<line x1="257.2" y1="853.9" x2="264.6" y2="853.9" stroke="#8a3a3a" stroke-width="2.2"/>
<circle cx="260.9" cy="843.6" r="6.2" fill="#7e0e0e"/>
<line x1="271.0" y1="864.1" x2="271.0" y2="918.2" stroke="#9b9b9b" stroke-width="2.6" stroke-linecap="round"/>
<line x1="271.0" y1="881.5" x2="271.0" y2="900.9" stroke="#8a3a3a" stroke-width="2.4"/>
<line x1="267.3" y1="881.5" x2="274.7" y2="881.5" stroke="#8a3a3a" stroke-width="2.2"/>
<line x1="267.3" y1="900.9" x2="274.7" y2="900.9" stroke="#8a3a3a" stroke-width="2.2"/>
<circle cx="271.0" cy="890.6" r="6.2" fill="#7e0e0e"/>
<line x1="281.0" y1="888.0" x2="281.0" y2="935.6" stroke="#9b9b9b" stroke-width="2.6" stroke-linecap="round"/>
<line x1="281.0" y1="901.9" x2="281.0" y2="921.9" stroke="#8a3a3a" stroke-width="2.4"/>
<line x1="277.3" y1="901.9" x2="284.7" y2="901.9" stroke="#8a3a3a" stroke-width="2.2"/>
<line x1="277.3" y1="921.9" x2="284.7" y2="921.9" stroke="#8a3a3a" stroke-width="2.2"/>
<circle cx="281.0" cy="912.1" r="6.2" fill="#7e0e0e"/>
<line x1="291.1" y1="885.5" x2="291.1" y2="928.5" stroke="#9b9b9b" stroke-width="2.6" stroke-linecap="round"/>
<line x1="291.1" y1="896.8" x2="291.1" y2="916.6" stroke="#8a3a3a" stroke-width="2.4"/>
<line x1="287.4" y1="896.8" x2="294.8" y2="896.8" stroke="#8a3a3a" stroke-width="2.2"/>
<line x1="287.4" y1="916.6" x2="294.8" y2="916.6" stroke="#8a3a3a" stroke-width="2.2"/>
<circle cx="291.1" cy="907.0" r="6.2" fill="#7e0e0e"/>
<line x1="301.1" y1="827.3" x2="301.1" y2="872.3" stroke="#9b9b9b" stroke-width="2.6" stroke-linecap="round"/>
<line x1="301.1" y1="840.2" x2="301.1" y2="860.0" stroke="#8a3a3a" stroke-width="2.4"/>
<line x1="297.4" y1="840.2" x2="304.8" y2="840.2" stroke="#8a3a3a" stroke-width="2.2"/>
<line x1="297.4" y1="860.0" x2="304.8" y2="860.0" stroke="#8a3a3a" stroke-width="2.2"/>
<circle cx="301.1" cy="849.8" r="6.2" fill="#7e0e0e"/>
<line x1="311.1" y1="806.9" x2="311.1" y2="852.4" stroke="#9b9b9b" stroke-width="2.6" stroke-linecap="round"/>
<line x1="311.1" y1="820.1" x2="311.1" y2="839.6" stroke="#8a3a3a" stroke-width="2.4"/>
<line x1="307.4" y1="820.1" x2="314.8" y2="820.1" stroke="#8a3a3a" stroke-width="2.2"/>
<line x1="307.4" y1="839.6" x2="314.8" y2="839.6" stroke="#8a3a3a" stroke-width="2.2"/>
<circle cx="311.1" cy="830.0" r="6.2" fill="#7e0e0e"/>
<line x1="321.2" y1="865.5" x2="321.2" y2="905.0" stroke="#9b9b9b" stroke-width="2.6" stroke-linecap="round"/>
<line x1="321.2" y1="875.7" x2="321.2" y2="894.7" stroke="#8a3a3a" stroke-width="2.4"/>
<line x1="317.5" y1="875.7" x2="324.9" y2="875.7" stroke="#8a3a3a" stroke-width="2.2"/>
<line x1="317.5" y1="894.7" x2="324.9" y2="894.7" stroke="#8a3a3a" stroke-width="2.2"/>
<circle cx="321.2" cy="885.1" r="6.2" fill="#7e0e0e"/>
<line x1="331.2" y1="881.5" x2="331.2" y2="917.2" stroke="#9b9b9b" stroke-width="2.6" stroke-linecap="round"/>
<line x1="331.2" y1="889.6" x2="331.2" y2="909.0" stroke="#8a3a3a" stroke-width="2.4"/>
<line x1="327.6" y1="889.6" x2="334.9" y2="889.6" stroke="#8a3a3a" stroke-width="2.2"/>
<line x1="327.6" y1="909.0" x2="334.9" y2="909.0" stroke="#8a3a3a" stroke-width="2.2"/>
<circle cx="331.2" cy="899.4" r="6.2" fill="#7e0e0e"/>
<line x1="341.3" y1="832.4" x2="341.3" y2="880.4" stroke="#9b9b9b" stroke-width="2.6" stroke-linecap="round"/>
<line x1="341.3" y1="845.7" x2="341.3" y2="866.7" stroke="#8a3a3a" stroke-width="2.4"/>
<line x1="337.6" y1="845.7" x2="345.0" y2="845.7" stroke="#8a3a3a" stroke-width="2.2"/>
<line x1="337.6" y1="866.7" x2="345.0" y2="866.7" stroke="#8a3a3a" stroke-width="2.2"/>
<circle cx="341.3" cy="856.5" r="6.2" fill="#7e0e0e"/>
<line x1="351.4" y1="817.1" x2="351.4" y2="867.6" stroke="#9b9b9b" stroke-width="2.6" stroke-linecap="round"/>
<line x1="351.4" y1="832.0" x2="351.4" y2="852.4" stroke="#8a3a3a" stroke-width="2.4"/>
<line x1="347.7" y1="832.0" x2="355.1" y2="832.0" stroke="#8a3a3a" stroke-width="2.2"/>
<line x1="347.7" y1="852.4" x2="355.1" y2="852.4" stroke="#8a3a3a" stroke-width="2.2"/>
<circle cx="351.4" cy="842.6" r="6.2" fill="#7e0e0e"/>
<line x1="361.4" y1="826.7" x2="361.4" y2="864.1" stroke="#9b9b9b" stroke-width="2.6" stroke-linecap="round"/>
<line x1="361.4" y1="835.5" x2="361.4" y2="855.3" stroke="#8a3a3a" stroke-width="2.4"/>
<line x1="357.7" y1="835.5" x2="365.1" y2="835.5" stroke="#8a3a3a" stroke-width="2.2"/>
<line x1="357.7" y1="855.3" x2="365.1" y2="855.3" stroke="#8a3a3a" stroke-width="2.2"/>
<circle cx="361.4" cy="845.1" r="6.2" fill="#7e0e0e"/>
<line x1="371.5" y1="908.4" x2="371.5" y2="941.7" stroke="#9b9b9b" stroke-width="2.6" stroke-linecap="round"/>
<line x1="371.5" y1="915.2" x2="371.5" y2="934.6" stroke="#8a3a3a" stroke-width="2.4"/>
<line x1="367.8" y1="915.2" x2="375.2" y2="915.2" stroke="#8a3a3a" stroke-width="2.2"/>
<line x1="367.8" y1="934.6" x2="375.2" y2="934.6" stroke="#8a3a3a" stroke-width="2.2"/>
<circle cx="371.5" cy="924.4" r="6.2" fill="#7e0e0e"/>
<line x1="381.5" y1="856.9" x2="381.5" y2="888.6" stroke="#9b9b9b" stroke-width="2.6" stroke-linecap="round"/>
<line x1="381.5" y1="863.1" x2="381.5" y2="882.5" stroke="#8a3a3a" stroke-width="2.4"/>
<line x1="377.8" y1="863.1" x2="385.2" y2="863.1" stroke="#8a3a3a" stroke-width="2.2"/>
<line x1="377.8" y1="882.5" x2="385.2" y2="882.5" stroke="#8a3a3a" stroke-width="2.2"/>
<circle cx="381.5" cy="872.9" r="6.2" fill="#7e0e0e"/>
<line x1="391.6" y1="843.0" x2="391.6" y2="882.5" stroke="#9b9b9b" stroke-width="2.6" stroke-linecap="round"/>
<line x1="391.6" y1="853.3" x2="391.6" y2="872.9" stroke="#8a3a3a" stroke-width="2.4"/>
<line x1="387.9" y1="853.3" x2="395.3" y2="853.3" stroke="#8a3a3a" stroke-width="2.2"/>
<line x1="387.9" y1="872.9" x2="395.3" y2="872.9" stroke="#8a3a3a" stroke-width="2.2"/>
<circle cx="391.6" cy="862.7" r="6.2" fill="#7e0e0e"/>
<line x1="401.6" y1="798.1" x2="401.6" y2="850.4" stroke="#9b9b9b" stroke-width="2.6" stroke-linecap="round"/>
<line x1="401.6" y1="815.0" x2="401.6" y2="834.4" stroke="#8a3a3a" stroke-width="2.4"/>
<line x1="397.9" y1="815.0" x2="405.3" y2="815.0" stroke="#8a3a3a" stroke-width="2.2"/>
<line x1="397.9" y1="834.4" x2="405.3" y2="834.4" stroke="#8a3a3a" stroke-width="2.2"/>
<circle cx="401.6" cy="824.2" r="6.2" fill="#7e0e0e"/>
<line x1="421.7" y1="899.8" x2="421.7" y2="942.4" stroke="#9b9b9b" stroke-width="2.6" stroke-linecap="round"/>
<line x1="421.7" y1="911.1" x2="421.7" y2="930.5" stroke="#8a3a3a" stroke-width="2.4"/>
<line x1="418.0" y1="911.1" x2="425.4" y2="911.1" stroke="#8a3a3a" stroke-width="2.2"/>
<line x1="418.0" y1="930.5" x2="425.4" y2="930.5" stroke="#8a3a3a" stroke-width="2.2"/>
<circle cx="421.7" cy="921.3" r="6.2" fill="#7e0e0e"/>
<line x1="431.8" y1="864.1" x2="431.8" y2="917.8" stroke="#9b9b9b" stroke-width="2.6" stroke-linecap="round"/>
<line x1="431.8" y1="881.5" x2="431.8" y2="900.9" stroke="#8a3a3a" stroke-width="2.4"/>
<line x1="428.1" y1="881.5" x2="435.4" y2="881.5" stroke="#8a3a3a" stroke-width="2.2"/>
<line x1="428.1" y1="900.9" x2="435.4" y2="900.9" stroke="#8a3a3a" stroke-width="2.2"/>
<circle cx="431.8" cy="891.3" r="6.2" fill="#7e0e0e"/>
<line x1="441.8" y1="827.9" x2="441.8" y2="881.9" stroke="#9b9b9b" stroke-width="2.6" stroke-linecap="round"/>
<line x1="441.8" y1="844.7" x2="441.8" y2="864.7" stroke="#8a3a3a" stroke-width="2.4"/>
<line x1="438.1" y1="844.7" x2="445.5" y2="844.7" stroke="#8a3a3a" stroke-width="2.2"/>
<line x1="438.1" y1="864.7" x2="445.5" y2="864.7" stroke="#8a3a3a" stroke-width="2.2"/>
<circle cx="441.8" cy="854.9" r="6.2" fill="#7e0e0e"/>
<line x1="451.9" y1="817.7" x2="451.9" y2="875.3" stroke="#9b9b9b" stroke-width="2.6" stroke-linecap="round"/>
<line x1="451.9" y1="836.9" x2="451.9" y2="855.9" stroke="#8a3a3a" stroke-width="2.4"/>
<line x1="448.2" y1="836.9" x2="455.6" y2="836.9" stroke="#8a3a3a" stroke-width="2.2"/>
<line x1="448.2" y1="855.9" x2="455.6" y2="855.9" stroke="#8a3a3a" stroke-width="2.2"/>
<circle cx="451.9" cy="846.7" r="6.2" fill="#7e0e0e"/>
<line x1="461.9" y1="822.2" x2="461.9" y2="875.7" stroke="#9b9b9b" stroke-width="2.6" stroke-linecap="round"/>
<line x1="461.9" y1="838.9" x2="461.9" y2="859.0" stroke="#8a3a3a" stroke-width="2.4"/>
<line x1="458.2" y1="838.9" x2="465.6" y2="838.9" stroke="#8a3a3a" stroke-width="2.2"/>
<line x1="458.2" y1="859.0" x2="465.6" y2="859.0" stroke="#8a3a3a" stroke-width="2.2"/>
<circle cx="461.9" cy="848.8" r="6.2" fill="#7e0e0e"/>
<line x1="472.0" y1="842.6" x2="472.0" y2="887.6" stroke="#9b9b9b" stroke-width="2.6" stroke-linecap="round"/>
<line x1="472.0" y1="855.3" x2="472.0" y2="874.9" stroke="#8a3a3a" stroke-width="2.4"/>
<line x1="468.3" y1="855.3" x2="475.7" y2="855.3" stroke="#8a3a3a" stroke-width="2.2"/>
<line x1="468.3" y1="874.9" x2="475.7" y2="874.9" stroke="#8a3a3a" stroke-width="2.2"/>
<circle cx="472.0" cy="865.1" r="6.2" fill="#7e0e0e"/>
<line x1="482.0" y1="787.9" x2="482.0" y2="841.6" stroke="#9b9b9b" stroke-width="2.6" stroke-linecap="round"/>
<line x1="482.0" y1="804.8" x2="482.0" y2="824.6" stroke="#8a3a3a" stroke-width="2.4"/>
<line x1="478.3" y1="804.8" x2="485.7" y2="804.8" stroke="#8a3a3a" stroke-width="2.2"/>
<line x1="478.3" y1="824.6" x2="485.7" y2="824.6" stroke="#8a3a3a" stroke-width="2.2"/>
<circle cx="482.0" cy="815.0" r="6.2" fill="#7e0e0e"/>
<line x1="492.1" y1="799.5" x2="492.1" y2="858.8" stroke="#9b9b9b" stroke-width="2.6" stroke-linecap="round"/>
<line x1="492.1" y1="819.7" x2="492.1" y2="838.5" stroke="#8a3a3a" stroke-width="2.4"/>
<line x1="488.4" y1="819.7" x2="495.8" y2="819.7" stroke="#8a3a3a" stroke-width="2.2"/>
<line x1="488.4" y1="838.5" x2="495.8" y2="838.5" stroke="#8a3a3a" stroke-width="2.2"/>
<circle cx="492.1" cy="829.3" r="6.2" fill="#7e0e0e"/>
<line x1="502.1" y1="785.0" x2="502.1" y2="823.8" stroke="#9b9b9b" stroke-width="2.6" stroke-linecap="round"/>
<line x1="502.1" y1="794.0" x2="502.1" y2="814.4" stroke="#8a3a3a" stroke-width="2.4"/>
<line x1="498.4" y1="794.0" x2="505.8" y2="794.0" stroke="#8a3a3a" stroke-width="2.2"/>
<line x1="498.4" y1="814.4" x2="505.8" y2="814.4" stroke="#8a3a3a" stroke-width="2.2"/>
<circle cx="502.1" cy="803.8" r="6.2" fill="#7e0e0e"/>
<line x1="512.1" y1="775.6" x2="512.1" y2="811.6" stroke="#9b9b9b" stroke-width="2.6" stroke-linecap="round"/>
<line x1="512.1" y1="783.0" x2="512.1" y2="803.8" stroke="#8a3a3a" stroke-width="2.4"/>
<line x1="508.4" y1="783.0" x2="515.9" y2="783.0" stroke="#8a3a3a" stroke-width="2.2"/>
<line x1="508.4" y1="803.8" x2="515.9" y2="803.8" stroke="#8a3a3a" stroke-width="2.2"/>
<circle cx="512.1" cy="793.2" r="6.2" fill="#7e0e0e"/>
<line x1="522.2" y1="800.1" x2="522.2" y2="837.5" stroke="#9b9b9b" stroke-width="2.6" stroke-linecap="round"/>
<line x1="522.2" y1="808.3" x2="522.2" y2="828.7" stroke="#8a3a3a" stroke-width="2.4"/>
<line x1="518.5" y1="808.3" x2="525.9" y2="808.3" stroke="#8a3a3a" stroke-width="2.2"/>
<line x1="518.5" y1="828.7" x2="525.9" y2="828.7" stroke="#8a3a3a" stroke-width="2.2"/>
<circle cx="522.2" cy="818.7" r="6.2" fill="#7e0e0e"/>
<line x1="532.2" y1="757.2" x2="532.2" y2="796.6" stroke="#9b9b9b" stroke-width="2.6" stroke-linecap="round"/>
<line x1="532.2" y1="767.4" x2="532.2" y2="786.4" stroke="#8a3a3a" stroke-width="2.4"/>
<line x1="528.5" y1="767.4" x2="536.0" y2="767.4" stroke="#8a3a3a" stroke-width="2.2"/>
<line x1="528.5" y1="786.4" x2="536.0" y2="786.4" stroke="#8a3a3a" stroke-width="2.2"/>
<circle cx="532.2" cy="776.8" r="6.2" fill="#7e0e0e"/>
<line x1="542.3" y1="862.0" x2="542.3" y2="903.9" stroke="#9b9b9b" stroke-width="2.6" stroke-linecap="round"/>
<line x1="542.3" y1="872.9" x2="542.3" y2="892.7" stroke="#8a3a3a" stroke-width="2.4"/>
<line x1="538.6" y1="872.9" x2="546.0" y2="872.9" stroke="#8a3a3a" stroke-width="2.2"/>
<line x1="538.6" y1="892.7" x2="546.0" y2="892.7" stroke="#8a3a3a" stroke-width="2.2"/>
<circle cx="542.3" cy="882.9" r="6.2" fill="#7e0e0e"/>
<line x1="552.4" y1="891.7" x2="552.4" y2="930.9" stroke="#9b9b9b" stroke-width="2.6" stroke-linecap="round"/>
<line x1="552.4" y1="901.5" x2="552.4" y2="920.7" stroke="#8a3a3a" stroke-width="2.4"/>
<line x1="548.6" y1="901.5" x2="556.1" y2="901.5" stroke="#8a3a3a" stroke-width="2.2"/>
<line x1="548.6" y1="920.7" x2="556.1" y2="920.7" stroke="#8a3a3a" stroke-width="2.2"/>
<circle cx="552.4" cy="911.1" r="6.2" fill="#7e0e0e"/>
<line x1="562.4" y1="871.2" x2="562.4" y2="916.6" stroke="#9b9b9b" stroke-width="2.6" stroke-linecap="round"/>
<line x1="562.4" y1="883.5" x2="562.4" y2="903.5" stroke="#8a3a3a" stroke-width="2.4"/>
<line x1="558.7" y1="883.5" x2="566.1" y2="883.5" stroke="#8a3a3a" stroke-width="2.2"/>
<line x1="558.7" y1="903.5" x2="566.1" y2="903.5" stroke="#8a3a3a" stroke-width="2.2"/>
<circle cx="562.4" cy="893.7" r="6.2" fill="#7e0e0e"/>
<line x1="572.5" y1="900.3" x2="572.5" y2="939.7" stroke="#9b9b9b" stroke-width="2.6" stroke-linecap="round"/>
<line x1="572.5" y1="910.1" x2="572.5" y2="928.9" stroke="#8a3a3a" stroke-width="2.4"/>
<line x1="568.8" y1="910.1" x2="576.2" y2="910.1" stroke="#8a3a3a" stroke-width="2.2"/>
<line x1="568.8" y1="928.9" x2="576.2" y2="928.9" stroke="#8a3a3a" stroke-width="2.2"/>
<circle cx="572.5" cy="919.9" r="6.2" fill="#7e0e0e"/>
<line x1="582.5" y1="889.2" x2="582.5" y2="929.5" stroke="#9b9b9b" stroke-width="2.6" stroke-linecap="round"/>
<line x1="582.5" y1="899.8" x2="582.5" y2="918.2" stroke="#8a3a3a" stroke-width="2.4"/>
<line x1="578.8" y1="899.8" x2="586.2" y2="899.8" stroke="#8a3a3a" stroke-width="2.2"/>
<line x1="578.8" y1="918.2" x2="586.2" y2="918.2" stroke="#8a3a3a" stroke-width="2.2"/>
<circle cx="582.5" cy="909.7" r="6.2" fill="#7e0e0e"/>
<line x1="592.6" y1="883.1" x2="592.6" y2="917.2" stroke="#9b9b9b" stroke-width="2.6" stroke-linecap="round"/>
<line x1="592.6" y1="890.7" x2="592.6" y2="910.1" stroke="#8a3a3a" stroke-width="2.4"/>
<line x1="588.9" y1="890.7" x2="596.3" y2="890.7" stroke="#8a3a3a" stroke-width="2.2"/>
<line x1="588.9" y1="910.1" x2="596.3" y2="910.1" stroke="#8a3a3a" stroke-width="2.2"/>
<circle cx="592.6" cy="900.3" r="6.2" fill="#7e0e0e"/>
<line x1="602.6" y1="890.0" x2="602.6" y2="933.6" stroke="#9b9b9b" stroke-width="2.6" stroke-linecap="round"/>
<line x1="602.6" y1="902.9" x2="602.6" y2="921.3" stroke="#8a3a3a" stroke-width="2.4"/>
<line x1="598.9" y1="902.9" x2="606.3" y2="902.9" stroke="#8a3a3a" stroke-width="2.2"/>
<line x1="598.9" y1="921.3" x2="606.3" y2="921.3" stroke="#8a3a3a" stroke-width="2.2"/>
<circle cx="602.6" cy="911.7" r="6.2" fill="#7e0e0e"/>
<circle cx="265.4" cy="719.2" r="5.6" fill="#7e0e0e"/>
<circle cx="265.4" cy="754.6" r="5.6" fill="#927b10"/>
<text x="290.5" y="730" font-size="21.2"><tspan font-family="'Liberation Serif', serif" font-style="italic" font-size="29" stroke="#000" stroke-width="0.55">&#x2130;</tspan><tspan font-size="14.2" dy="2.5" dx="0.5">analog</tspan><tspan dy="-2.5" dx="0.5">(<tspan font-style="italic">h&#770;</tspan>,<tspan font-style="italic">h</tspan><tspan font-size="14.5" dy="2.5">0</tspan><tspan dy="-2.5">)</tspan></tspan></text>
<text x="290.5" y="765.5" font-size="21.2"><tspan font-family="'Liberation Serif', serif" font-style="italic" font-size="29" stroke="#000" stroke-width="0.55">&#x2130;</tspan><tspan font-size="14.2" dy="2.5" dx="0.5">analog</tspan><tspan dy="-2.5" dx="0.5">(eig(<tspan font-style="italic">h&#770;</tspan>),eig(<tspan font-style="italic">h</tspan><tspan font-size="14.5" dy="2.5">0</tspan><tspan dy="-2.5">))</tspan></tspan></text>
<text x="18.5" y="1094.0" font-size="26" text-anchor="start" font-weight="bold">(d)</text>
<text x="514.0" y="1089.8" font-size="21.4" text-anchor="middle" >Median entrywise deviation [MHz]</text>
<rect x="366.0" y="1103.1" width="36.8" height="36.7" fill="#32668e"/>
<rect x="407.4" y="1103.1" width="36.8" height="36.7" fill="#46317e"/>
<rect x="448.7" y="1103.1" width="36.8" height="36.7" fill="#424085"/>
<rect x="490.1" y="1103.1" width="36.8" height="36.7" fill="#472979"/>
<rect x="531.4" y="1103.1" width="36.8" height="36.7" fill="#45095c"/>
<rect x="572.8" y="1103.1" width="36.8" height="36.7" fill="#471567"/>
<rect x="366.0" y="1144.4" width="36.8" height="36.7" fill="#472979"/>
<rect x="407.4" y="1144.4" width="36.8" height="36.7" fill="#f3e621"/>
<rect x="448.7" y="1144.4" width="36.8" height="36.7" fill="#375a8c"/>
<rect x="490.1" y="1144.4" width="36.8" height="36.7" fill="#46317e"/>
<rect x="531.4" y="1144.4" width="36.8" height="36.7" fill="#453882"/>
<rect x="572.8" y="1144.4" width="36.8" height="36.7" fill="#471a6b"/>
<rect x="366.0" y="1185.7" width="36.8" height="36.7" fill="#414387"/>
<rect x="407.4" y="1185.7" width="36.8" height="36.7" fill="#375a8c"/>
<rect x="448.7" y="1185.7" width="36.8" height="36.7" fill="#96d83f"/>
<rect x="490.1" y="1185.7" width="36.8" height="36.7" fill="#3d4e8a"/>
<rect x="531.4" y="1185.7" width="36.8" height="36.7" fill="#45095c"/>
<rect x="572.8" y="1185.7" width="36.8" height="36.7" fill="#482273"/>
<rect x="366.0" y="1227.0" width="36.8" height="36.7" fill="#472c7b"/>
<rect x="407.4" y="1227.0" width="36.8" height="36.7" fill="#46317e"/>
<rect x="448.7" y="1227.0" width="36.8" height="36.7" fill="#3d4e8a"/>
<rect x="490.1" y="1227.0" width="36.8" height="36.7" fill="#1f9f88"/>
<rect x="531.4" y="1227.0" width="36.8" height="36.7" fill="#2a788e"/>
<rect x="572.8" y="1227.0" width="36.8" height="36.7" fill="#482273"/>
<rect x="366.0" y="1268.3" width="36.8" height="36.7" fill="#460e61"/>
<rect x="407.4" y="1268.3" width="36.8" height="36.7" fill="#443b83"/>
<rect x="448.7" y="1268.3" width="36.8" height="36.7" fill="#460e61"/>
<rect x="490.1" y="1268.3" width="36.8" height="36.7" fill="#2d728e"/>
<rect x="531.4" y="1268.3" width="36.8" height="36.7" fill="#228f8c"/>
<rect x="572.8" y="1268.3" width="36.8" height="36.7" fill="#34608d"/>
<rect x="366.0" y="1309.6" width="36.8" height="36.7" fill="#482273"/>
<rect x="407.4" y="1309.6" width="36.8" height="36.7" fill="#482273"/>
<rect x="448.7" y="1309.6" width="36.8" height="36.7" fill="#472979"/>
<rect x="490.1" y="1309.6" width="36.8" height="36.7" fill="#482576"/>
<rect x="531.4" y="1309.6" width="36.8" height="36.7" fill="#375a8c"/>
<rect x="572.8" y="1309.6" width="36.8" height="36.7" fill="#b6de2b"/>
<rect x="627.5" y="1108.1" width="21.2" height="237.7" fill="url(#vir2)" stroke="#0c0c0c" stroke-width="2.2"/>
<defs><linearGradient id="vir2" x1="0" y1="1" x2="0" y2="0"><stop offset="0.000" stop-color="#440154"/><stop offset="0.047" stop-color="#471365"/><stop offset="0.094" stop-color="#482475"/><stop offset="0.140" stop-color="#463480"/><stop offset="0.187" stop-color="#414487"/><stop offset="0.234" stop-color="#3b528b"/><stop offset="0.281" stop-color="#355f8d"/><stop offset="0.328" stop-color="#2f6c8e"/><stop offset="0.375" stop-color="#2a788e"/><stop offset="0.421" stop-color="#25848e"/><stop offset="0.468" stop-color="#21918c"/><stop offset="0.515" stop-color="#1e9c89"/><stop offset="0.562" stop-color="#22a884"/><stop offset="0.609" stop-color="#2fb47c"/><stop offset="0.655" stop-color="#44bf70"/><stop offset="0.702" stop-color="#5ec962"/><stop offset="0.749" stop-color="#7ad151"/><stop offset="0.796" stop-color="#9bd93c"/><stop offset="0.843" stop-color="#bddf26"/><stop offset="0.890" stop-color="#dfe318"/><stop offset="0.936" stop-color="#fde725"/><stop offset="1" stop-color="#fde725"/></linearGradient></defs>
<text x="656.3" y="1354.0" font-size="19.5" text-anchor="start" >0.0</text>
<line x1="648.6" y1="1290.0" x2="644.6" y2="1290.0" stroke="#000" stroke-width="1.3" />
<text x="656.3" y="1297.9" font-size="19.5" text-anchor="start" >0.5</text>
<line x1="648.6" y1="1234.2" x2="644.6" y2="1234.2" stroke="#000" stroke-width="1.3" />
<text x="656.3" y="1240.9" font-size="19.5" text-anchor="start" >1.0</text>
<line x1="648.6" y1="1178.4" x2="644.6" y2="1178.4" stroke="#000" stroke-width="1.3" />
<text x="656.3" y="1185.1" font-size="19.5" text-anchor="start" >1.5</text>
<line x1="648.6" y1="1122.6" x2="644.6" y2="1122.6" stroke="#000" stroke-width="1.3" />
<text x="656.3" y="1130.5" font-size="19.5" text-anchor="start" >2.0</text>
<defs><linearGradient id="lfade" gradientUnits="userSpaceOnUse" x1="0" y1="0" x2="365" y2="0"><stop offset="0" stop-color="#000"/><stop offset="0.02" stop-color="#111"/><stop offset="0.12" stop-color="#fff"/><stop offset="0.875" stop-color="#fff"/><stop offset="0.985" stop-color="#000"/></linearGradient><mask id="lmask" maskUnits="userSpaceOnUse" x="0" y="1090" width="365" height="262"><rect x="0" y="1090" width="365" height="262" fill="url(#lfade)"/></mask></defs>
<g mask="url(#lmask)">
<polygon points="71.5,1136.9 84.7,1150.1 71.5,1163.2 58.4,1150.1" fill="#ececec" stroke="#8e8e8e" stroke-width="0.8"/>
<polygon points="120.1,1136.9 133.2,1150.1 120.1,1163.2 106.9,1150.1" fill="#ececec" stroke="#8e8e8e" stroke-width="0.8"/>
<polygon points="168.6,1136.9 181.8,1150.1 168.6,1163.2 155.5,1150.1" fill="#1d1d1d"/>
<polygon points="217.2,1136.9 230.3,1150.1 217.2,1163.2 204.0,1150.1" fill="#1d1d1d"/>
<polygon points="265.7,1136.9 278.9,1150.1 265.7,1163.2 252.6,1150.1" fill="#ececec" stroke="#8e8e8e" stroke-width="0.8"/>
<polygon points="314.3,1136.9 327.4,1150.1 314.3,1163.2 301.1,1150.1" fill="#ececec" stroke="#8e8e8e" stroke-width="0.8"/>
<polygon points="23.0,1185.2 36.1,1198.4 23.0,1211.5 9.8,1198.4" fill="#ececec" stroke="#8e8e8e" stroke-width="0.8"/>
<polygon points="71.5,1185.2 84.7,1198.4 71.5,1211.5 58.4,1198.4" fill="#ececec" stroke="#8e8e8e" stroke-width="0.8"/>
<polygon points="120.1,1185.2 133.2,1198.4 120.1,1211.5 106.9,1198.4" fill="#ececec" stroke="#8e8e8e" stroke-width="0.8"/>
<polygon points="168.6,1185.2 181.8,1198.4 168.6,1211.5 155.5,1198.4" fill="#ececec" stroke="#8e8e8e" stroke-width="0.8"/>
<polygon points="217.2,1185.2 230.3,1198.4 217.2,1211.5 204.0,1198.4" fill="#ececec" stroke="#8e8e8e" stroke-width="0.8"/>
<polygon points="265.7,1185.2 278.9,1198.4 265.7,1211.5 252.6,1198.4" fill="#1d1d1d"/>
<polygon points="314.3,1185.2 327.4,1198.4 314.3,1211.5 301.1,1198.4" fill="#ececec" stroke="#8e8e8e" stroke-width="0.8"/>
<polygon points="23.0,1233.5 36.1,1246.7 23.0,1259.8 9.8,1246.7" fill="#ececec" stroke="#8e8e8e" stroke-width="0.8"/>
<polygon points="71.5,1233.5 84.7,1246.7 71.5,1259.8 58.4,1246.7" fill="#ececec" stroke="#8e8e8e" stroke-width="0.8"/>
<polygon points="120.1,1233.5 133.2,1246.7 120.1,1259.8 106.9,1246.7" fill="#ececec" stroke="#8e8e8e" stroke-width="0.8"/>
<polygon points="168.6,1233.5 181.8,1246.7 168.6,1259.8 155.5,1246.7" fill="#ececec" stroke="#8e8e8e" stroke-width="0.8"/>
<polygon points="217.2,1233.5 230.3,1246.7 217.2,1259.8 204.0,1246.7" fill="#ececec" stroke="#8e8e8e" stroke-width="0.8"/>
<polygon points="265.7,1233.5 278.9,1246.7 265.7,1259.8 252.6,1246.7" fill="#1d1d1d"/>
<polygon points="314.3,1233.5 327.4,1246.7 314.3,1259.8 301.1,1246.7" fill="#ececec" stroke="#8e8e8e" stroke-width="0.8"/>
<polygon points="23.0,1281.8 36.1,1295.0 23.0,1308.1 9.8,1295.0" fill="#ececec" stroke="#8e8e8e" stroke-width="0.8"/>
<polygon points="71.5,1281.8 84.7,1295.0 71.5,1308.1 58.4,1295.0" fill="#ececec" stroke="#8e8e8e" stroke-width="0.8"/>
<polygon points="120.1,1281.8 133.2,1295.0 120.1,1308.1 106.9,1295.0" fill="#ececec" stroke="#8e8e8e" stroke-width="0.8"/>
<polygon points="168.6,1281.8 181.8,1295.0 168.6,1308.1 155.5,1295.0" fill="#ececec" stroke="#8e8e8e" stroke-width="0.8"/>
<polygon points="217.2,1281.8 230.3,1295.0 217.2,1308.1 204.0,1295.0" fill="#1d1d1d"/>
<polygon points="265.7,1281.8 278.9,1295.0 265.7,1308.1 252.6,1295.0" fill="#ececec" stroke="#8e8e8e" stroke-width="0.8"/>
<polygon points="314.3,1281.8 327.4,1295.0 314.3,1308.1 301.1,1295.0" fill="#ececec" stroke="#8e8e8e" stroke-width="0.8"/>
<polygon points="106.2,1105.3 116.4,1115.5 106.1,1125.9 116.4,1136.3 106.2,1146.5 95.8,1136.2 85.4,1146.5 75.2,1136.3 85.5,1125.9 75.2,1115.5 85.4,1105.3 95.8,1115.6" fill="#ececec" stroke="#8e8e8e" stroke-width="0.8"/>
<polygon points="203.3,1105.3 213.5,1115.5 203.2,1125.9 213.5,1136.3 203.3,1146.5 192.9,1136.2 182.5,1146.5 172.3,1136.3 182.6,1125.9 172.3,1115.5 182.5,1105.3 192.9,1115.6" fill="#626262"/>
<polygon points="300.4,1105.3 310.6,1115.5 300.3,1125.9 310.6,1136.3 300.4,1146.5 290.0,1136.2 279.6,1146.5 269.4,1136.3 279.7,1125.9 269.4,1115.5 279.6,1105.3 290.0,1115.6" fill="#ececec" stroke="#8e8e8e" stroke-width="0.8"/>
<polygon points="57.6,1153.6 67.9,1163.8 57.5,1174.2 67.9,1184.6 57.6,1194.8 47.2,1184.5 36.9,1194.8 26.6,1184.6 37.0,1174.2 26.6,1163.8 36.9,1153.6 47.2,1163.9" fill="#ececec" stroke="#8e8e8e" stroke-width="0.8"/>
<polygon points="154.7,1153.6 165.0,1163.8 154.6,1174.2 165.0,1184.6 154.7,1194.8 144.3,1184.5 134.0,1194.8 123.7,1184.6 134.1,1174.2 123.7,1163.8 134.0,1153.6 144.3,1163.9" fill="#626262"/>
<polygon points="251.8,1153.6 262.1,1163.8 251.7,1174.2 262.1,1184.6 251.8,1194.8 241.4,1184.5 231.1,1194.8 220.8,1184.6 231.2,1174.2 220.8,1163.8 231.1,1153.6 241.4,1163.9" fill="#626262"/>
<polygon points="348.9,1153.6 359.2,1163.8 348.8,1174.2 359.2,1184.6 348.9,1194.8 338.5,1184.5 328.2,1194.8 317.9,1184.6 328.3,1174.2 317.9,1163.8 328.2,1153.6 338.5,1163.9" fill="#ececec" stroke="#8e8e8e" stroke-width="0.8"/>
<polygon points="9.1,1201.9 19.3,1212.1 9.0,1222.5 19.3,1232.9 9.1,1243.1 -1.3,1232.8 -11.7,1243.1 -21.9,1232.9 -11.6,1222.5 -21.9,1212.1 -11.7,1201.9 -1.3,1212.2" fill="#ececec" stroke="#8e8e8e" stroke-width="0.8"/>
<polygon points="106.2,1201.9 116.4,1212.1 106.1,1222.5 116.4,1232.9 106.2,1243.1 95.8,1232.8 85.4,1243.1 75.2,1232.9 85.5,1222.5 75.2,1212.1 85.4,1201.9 95.8,1212.2" fill="#ececec" stroke="#8e8e8e" stroke-width="0.8"/>
<polygon points="203.3,1201.9 213.5,1212.1 203.2,1222.5 213.5,1232.9 203.3,1243.1 192.9,1232.8 182.5,1243.1 172.3,1232.9 182.6,1222.5 172.3,1212.1 182.5,1201.9 192.9,1212.2" fill="#ececec" stroke="#8e8e8e" stroke-width="0.8"/>
<polygon points="300.4,1201.9 310.6,1212.1 300.3,1222.5 310.6,1232.9 300.4,1243.1 290.0,1232.8 279.6,1243.1 269.4,1232.9 279.7,1222.5 269.4,1212.1 279.6,1201.9 290.0,1212.2" fill="#626262"/>
<polygon points="57.6,1250.2 67.9,1260.4 57.5,1270.8 67.9,1281.2 57.6,1291.4 47.2,1281.1 36.9,1291.4 26.6,1281.2 37.0,1270.8 26.6,1260.4 36.9,1250.2 47.2,1260.5" fill="#ececec" stroke="#8e8e8e" stroke-width="0.8"/>
<polygon points="154.7,1250.2 165.0,1260.4 154.6,1270.8 165.0,1281.2 154.7,1291.4 144.3,1281.1 134.0,1291.4 123.7,1281.2 134.1,1270.8 123.7,1260.4 134.0,1250.2 144.3,1260.5" fill="#ececec" stroke="#8e8e8e" stroke-width="0.8"/>
<polygon points="251.8,1250.2 262.1,1260.4 251.7,1270.8 262.1,1281.2 251.8,1291.4 241.4,1281.1 231.1,1291.4 220.8,1281.2 231.2,1270.8 220.8,1260.4 231.1,1250.2 241.4,1260.5" fill="#626262"/>
<polygon points="348.9,1250.2 359.2,1260.4 348.8,1270.8 359.2,1281.2 348.9,1291.4 338.5,1281.1 328.2,1291.4 317.9,1281.2 328.3,1270.8 317.9,1260.4 328.2,1250.2 338.5,1260.5" fill="#ececec" stroke="#8e8e8e" stroke-width="0.8"/>
<polygon points="9.1,1298.5 19.3,1308.7 9.0,1319.1 19.3,1329.5 9.1,1339.7 -1.3,1329.4 -11.7,1339.7 -21.9,1329.5 -11.6,1319.1 -21.9,1308.7 -11.7,1298.5 -1.3,1308.8" fill="#ececec" stroke="#8e8e8e" stroke-width="0.8"/>
<polygon points="106.2,1298.5 116.4,1308.7 106.1,1319.1 116.4,1329.5 106.2,1339.7 95.8,1329.4 85.4,1339.7 75.2,1329.5 85.5,1319.1 75.2,1308.7 85.4,1298.5 95.8,1308.8" fill="#ececec" stroke="#8e8e8e" stroke-width="0.8"/>
<polygon points="203.3,1298.5 213.5,1308.7 203.2,1319.1 213.5,1329.5 203.3,1339.7 192.9,1329.4 182.5,1339.7 172.3,1329.5 182.6,1319.1 172.3,1308.7 182.5,1298.5 192.9,1308.8" fill="#626262"/>
<polygon points="300.4,1298.5 310.6,1308.7 300.3,1319.1 310.6,1329.5 300.4,1339.7 290.0,1329.4 279.6,1339.7 269.4,1329.5 279.7,1319.1 269.4,1308.7 279.6,1298.5 290.0,1308.8" fill="#ececec" stroke="#8e8e8e" stroke-width="0.8"/>
</g>
</svg></div></body></html>
